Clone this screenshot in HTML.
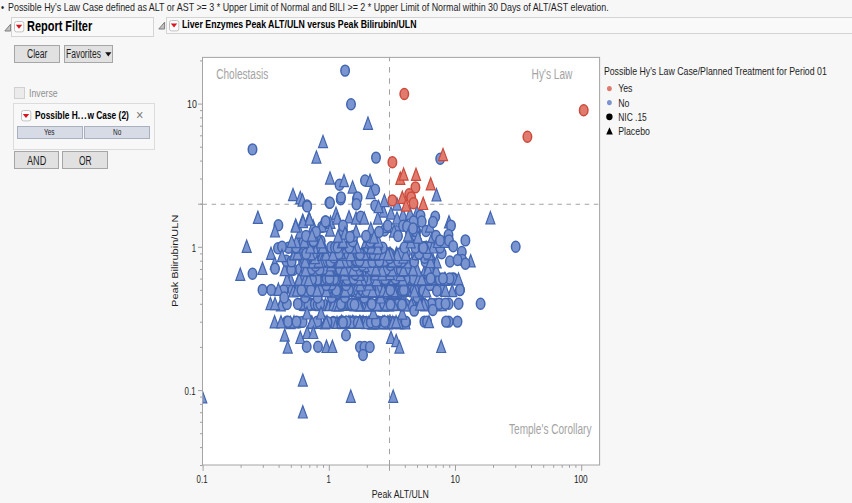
<!DOCTYPE html>
<html lang="en">
<head>
<meta charset="utf-8">
<title>Liver Enzymes Peak ALT/ULN versus Peak Bilirubin/ULN</title>
<style>
html,body{margin:0;padding:0;}
body{width:852px;height:503px;overflow:hidden;background:#f7f7f7;position:relative;
 font-family:"Liberation Sans",sans-serif;font-size:12px;color:#1e1e1e;}
.abs{position:absolute;}
.t{position:absolute;white-space:pre;display:inline-block;transform-origin:0 0;line-height:1;}
.note{left:0;top:0;height:14px;width:852px;}
.titlebar{position:absolute;box-sizing:border-box;border:1px solid #d4d4d4;background:#f9f9f9;}
.disc{position:absolute;width:8px;height:9px;}
.rt{position:absolute;width:11px;height:12px;}
.btn{position:absolute;box-sizing:border-box;border:1px solid #a6a6a6;background:#e1e1e1;}
.fbtn{position:absolute;box-sizing:border-box;border:1px solid #a9b0c0;background:#d6dbe6;}
.chk{position:absolute;box-sizing:border-box;border:1px solid #d0d0d0;background:#ebebeb;}
.plot{position:absolute;left:0;top:0;}
</style>
</head>
<body>
<div class="note">
 <span class="t" style="left:0.5px;top:2px;font-size:11px;transform:scaleX(0.8)">•</span>
 <span class="t" style="left:7.6px;top:2.3px;font-size:11px;transform:scaleX(0.81)">Possible Hy's Law Case defined as ALT or AST &gt;= 3 * Upper Limit of Normal and BILI &gt;= 2 * Upper Limit of Normal within 30 Days of ALT/AST elevation.</span>
</div>

<!-- Report Filter outline -->
<svg class="disc" style="left:3.7px;top:22.6px" viewBox="0 0 8 9"><path d="M0.8 8H6.6V1.2Z" fill="#c2c2c2" stroke="#7e7e7e" stroke-width="1"/></svg>
<div class="titlebar" style="left:11px;top:17px;width:143px;height:20px"></div>
<svg class="rt" style="left:14.4px;top:21.4px" viewBox="0 0 11 12"><rect x="0.5" y="0.5" width="9.3" height="10.4" rx="2" fill="#fcfcfc" stroke="#c2c2c2"/><path d="M1.8 3.7H8.2L5 7.7Z" fill="#d9141d"/></svg>
<span class="t" style="left:27.2px;top:19.4px;font-size:14px;font-weight:700;color:#000;transform:scaleX(0.783)">Report Filter</span>

<div class="btn" style="left:14px;top:45px;width:46px;height:18px"></div>
<span class="t" style="left:26.8px;top:47.6px;font-size:12px;transform:scaleX(0.711)">Clear</span>
<div class="btn" style="left:64px;top:45px;width:49px;height:18px"></div>
<span class="t" style="left:65.5px;top:47.6px;font-size:12px;transform:scaleX(0.707)">Favorites</span>
<svg class="abs" style="left:104.8px;top:51.8px" width="7" height="5" viewBox="0 0 7 5"><path d="M0.2 0.3H6.4L3.3 4.4Z" fill="#111"/></svg>

<div class="chk" style="left:14px;top:87px;width:11px;height:12px"></div>
<span class="t" style="left:28.8px;top:88.2px;font-size:11.5px;color:#8f8f8f;transform:scaleX(0.76)">Inverse</span>

<div class="titlebar" style="left:13px;top:103px;width:142px;height:46.6px;border-color:#dcdcdc;background:#f8f8f8"></div>
<svg class="rt" style="left:21.3px;top:109.5px" viewBox="0 0 11 12"><rect x="0.5" y="0.5" width="9.3" height="10.4" rx="2" fill="#fcfcfc" stroke="#c2c2c2"/><path d="M1.8 4.1000000000000005H8.2L5 8.1Z" fill="#d9141d"/></svg>
<span class="t" style="left:35px;top:109.9px;font-size:11.5px;font-weight:700;color:#000;transform:scaleX(0.728)">Possible H<span style="letter-spacing:1.2px">...</span>w Case (2)</span>
<span class="t" style="left:136.2px;top:108px;font-size:14px;color:#7c7c7c;transform:scaleX(0.9)">×</span>
<div class="fbtn" style="left:16.5px;top:126px;width:66px;height:13px"></div>
<span class="t" style="left:44.2px;top:128.4px;font-size:9px;transform:scaleX(0.72)">Yes</span>
<div class="fbtn" style="left:84px;top:126px;width:66px;height:13px"></div>
<span class="t" style="left:112.5px;top:128.4px;font-size:9px;transform:scaleX(0.72)">No</span>

<div class="btn" style="left:13.5px;top:151px;width:45.4px;height:18px"></div>
<span class="t" style="left:27px;top:154.8px;font-size:12px;transform:scaleX(0.76)">AND</span>
<div class="btn" style="left:62px;top:151px;width:46px;height:18px"></div>
<span class="t" style="left:78.8px;top:154.8px;font-size:12px;transform:scaleX(0.70)">OR</span>

<!-- Graph outline -->
<svg class="disc" style="left:158.1px;top:20.5px" viewBox="0 0 8 9"><path d="M0.8 8H6.6V1.2Z" fill="#c2c2c2" stroke="#7e7e7e" stroke-width="1"/></svg>
<div class="titlebar" style="left:166px;top:17px;width:700px;height:16.5px"></div>
<svg class="rt" style="left:169.3px;top:19.6px" viewBox="0 0 11 12"><rect x="0.5" y="0.5" width="9.3" height="10.4" rx="2" fill="#fcfcfc" stroke="#c2c2c2"/><path d="M1.8 3.6H8.2L5 7.6000000000000005Z" fill="#d9141d"/></svg>
<span class="t" style="left:181.8px;top:19.2px;font-size:11.5px;font-weight:700;color:#000;transform:scaleX(0.7597)">Liver Enzymes Peak ALT/ULN versus Peak Bilirubin/ULN</span>

<svg class="plot" width="852" height="503" viewBox="0 0 852 503" font-family="'Liberation Sans', sans-serif">
<defs><clipPath id="fr"><rect x="202.5" y="57.4" width="397.1" height="407.6"/></clipPath></defs>
<rect x="202.5" y="57.4" width="397.1" height="407.6" fill="#ffffff"/>
<g stroke="#a2a2a2" stroke-width="1.05" fill="none">
<line x1="389.5" y1="57.4" x2="389.5" y2="465.0" stroke-dasharray="5.5 5.73" stroke-dashoffset="1.73"/>
<line x1="202.5" y1="204.2" x2="599.6" y2="204.2" stroke-dasharray="4.5 4.6" stroke-dashoffset="0"/>
</g>
<text x="216.2" y="78.7" font-size="14" font-weight="400" fill="#a3a3a3" textLength="52" lengthAdjust="spacingAndGlyphs" text-anchor="start">Cholestasis</text>
<text x="531.6" y="78.7" font-size="14" font-weight="400" fill="#a3a3a3" textLength="40.8" lengthAdjust="spacingAndGlyphs" text-anchor="start">Hy's Law</text>
<text x="509" y="433.7" font-size="14" font-weight="400" fill="#a3a3a3" textLength="82.5" lengthAdjust="spacingAndGlyphs" text-anchor="start">Temple's Corollary</text>
<g clip-path="url(#fr)">
<ellipse cx="395.5" cy="322.2" rx="4.25" ry="5.45" fill="#7b95d1" stroke="#4165b1" stroke-width="1.5"/>
<ellipse cx="405.0" cy="322.1" rx="4.25" ry="5.45" fill="#7b95d1" stroke="#4165b1" stroke-width="1.5"/>
<ellipse cx="380.3" cy="322.1" rx="4.25" ry="5.45" fill="#7b95d1" stroke="#4165b1" stroke-width="1.5"/>
<ellipse cx="299.2" cy="322.4" rx="4.25" ry="5.45" fill="#7b95d1" stroke="#4165b1" stroke-width="1.5"/>
<ellipse cx="355.0" cy="322.8" rx="4.25" ry="5.45" fill="#7b95d1" stroke="#4165b1" stroke-width="1.5"/>
<ellipse cx="383.8" cy="321.7" rx="4.25" ry="5.45" fill="#7b95d1" stroke="#4165b1" stroke-width="1.5"/>
<path d="M341.9 315.7L346.4 327.9H337.4Z" fill="#7b95d1" stroke="#4165b1" stroke-width="1.2" stroke-linejoin="miter"/>
<ellipse cx="362.6" cy="322.3" rx="4.25" ry="5.45" fill="#7b95d1" stroke="#4165b1" stroke-width="1.5"/>
<path d="M387.8 316.0L392.3 328.2H383.3Z" fill="#7b95d1" stroke="#4165b1" stroke-width="1.2" stroke-linejoin="miter"/>
<path d="M373.9 316.0L378.4 328.2H369.4Z" fill="#7b95d1" stroke="#4165b1" stroke-width="1.2" stroke-linejoin="miter"/>
<ellipse cx="380.4" cy="322.3" rx="4.25" ry="5.45" fill="#7b95d1" stroke="#4165b1" stroke-width="1.5"/>
<path d="M311.4 316.4L315.9 328.6H306.9Z" fill="#7b95d1" stroke="#4165b1" stroke-width="1.2" stroke-linejoin="miter"/>
<ellipse cx="382.9" cy="322.5" rx="4.25" ry="5.45" fill="#7b95d1" stroke="#4165b1" stroke-width="1.5"/>
<ellipse cx="362.8" cy="321.6" rx="4.25" ry="5.45" fill="#7b95d1" stroke="#4165b1" stroke-width="1.5"/>
<path d="M378.0 316.6L382.5 328.8H373.5Z" fill="#7b95d1" stroke="#4165b1" stroke-width="1.2" stroke-linejoin="miter"/>
<path d="M348.7 316.0L353.2 328.2H344.2Z" fill="#7b95d1" stroke="#4165b1" stroke-width="1.2" stroke-linejoin="miter"/>
<ellipse cx="400.2" cy="322.4" rx="4.25" ry="5.45" fill="#7b95d1" stroke="#4165b1" stroke-width="1.5"/>
<path d="M319.5 316.3L324.0 328.5H315.0Z" fill="#7b95d1" stroke="#4165b1" stroke-width="1.2" stroke-linejoin="miter"/>
<ellipse cx="385.1" cy="322.1" rx="4.25" ry="5.45" fill="#7b95d1" stroke="#4165b1" stroke-width="1.5"/>
<ellipse cx="286.8" cy="321.8" rx="4.25" ry="5.45" fill="#7b95d1" stroke="#4165b1" stroke-width="1.5"/>
<ellipse cx="387.3" cy="321.9" rx="4.25" ry="5.45" fill="#7b95d1" stroke="#4165b1" stroke-width="1.5"/>
<ellipse cx="375.2" cy="322.3" rx="4.25" ry="5.45" fill="#7b95d1" stroke="#4165b1" stroke-width="1.5"/>
<path d="M384.8 315.8L389.3 328.0H380.3Z" fill="#7b95d1" stroke="#4165b1" stroke-width="1.2" stroke-linejoin="miter"/>
<ellipse cx="354.3" cy="322.7" rx="4.25" ry="5.45" fill="#7b95d1" stroke="#4165b1" stroke-width="1.5"/>
<ellipse cx="302.6" cy="321.9" rx="4.25" ry="5.45" fill="#7b95d1" stroke="#4165b1" stroke-width="1.5"/>
<ellipse cx="317.2" cy="321.6" rx="4.25" ry="5.45" fill="#7b95d1" stroke="#4165b1" stroke-width="1.5"/>
<ellipse cx="369.5" cy="322.3" rx="4.25" ry="5.45" fill="#7b95d1" stroke="#4165b1" stroke-width="1.5"/>
<path d="M368.9 316.2L373.4 328.4H364.4Z" fill="#7b95d1" stroke="#4165b1" stroke-width="1.2" stroke-linejoin="miter"/>
<path d="M290.6 316.4L295.1 328.6H286.1Z" fill="#7b95d1" stroke="#4165b1" stroke-width="1.2" stroke-linejoin="miter"/>
<ellipse cx="382.1" cy="322.1" rx="4.25" ry="5.45" fill="#7b95d1" stroke="#4165b1" stroke-width="1.5"/>
<ellipse cx="356.4" cy="321.9" rx="4.25" ry="5.45" fill="#7b95d1" stroke="#4165b1" stroke-width="1.5"/>
<ellipse cx="355.4" cy="321.7" rx="4.25" ry="5.45" fill="#7b95d1" stroke="#4165b1" stroke-width="1.5"/>
<ellipse cx="374.7" cy="321.6" rx="4.25" ry="5.45" fill="#7b95d1" stroke="#4165b1" stroke-width="1.5"/>
<ellipse cx="359.5" cy="321.9" rx="4.25" ry="5.45" fill="#7b95d1" stroke="#4165b1" stroke-width="1.5"/>
<ellipse cx="378.5" cy="321.7" rx="4.25" ry="5.45" fill="#7b95d1" stroke="#4165b1" stroke-width="1.5"/>
<ellipse cx="406.2" cy="322.2" rx="4.25" ry="5.45" fill="#7b95d1" stroke="#4165b1" stroke-width="1.5"/>
<ellipse cx="391.4" cy="322.6" rx="4.25" ry="5.45" fill="#7b95d1" stroke="#4165b1" stroke-width="1.5"/>
<ellipse cx="384.7" cy="322.7" rx="4.25" ry="5.45" fill="#7b95d1" stroke="#4165b1" stroke-width="1.5"/>
<ellipse cx="392.3" cy="322.2" rx="4.25" ry="5.45" fill="#7b95d1" stroke="#4165b1" stroke-width="1.5"/>
<path d="M390.2 315.8L394.7 328.0H385.7Z" fill="#7b95d1" stroke="#4165b1" stroke-width="1.2" stroke-linejoin="miter"/>
<ellipse cx="400.9" cy="322.5" rx="4.25" ry="5.45" fill="#7b95d1" stroke="#4165b1" stroke-width="1.5"/>
<ellipse cx="370.8" cy="322.6" rx="4.25" ry="5.45" fill="#7b95d1" stroke="#4165b1" stroke-width="1.5"/>
<path d="M388.9 316.5L393.4 328.7H384.4Z" fill="#7b95d1" stroke="#4165b1" stroke-width="1.2" stroke-linejoin="miter"/>
<path d="M311.9 315.9L316.4 328.1H307.4Z" fill="#7b95d1" stroke="#4165b1" stroke-width="1.2" stroke-linejoin="miter"/>
<ellipse cx="333.3" cy="321.9" rx="4.25" ry="5.45" fill="#7b95d1" stroke="#4165b1" stroke-width="1.5"/>
<ellipse cx="333.1" cy="322.7" rx="4.25" ry="5.45" fill="#7b95d1" stroke="#4165b1" stroke-width="1.5"/>
<ellipse cx="401.5" cy="321.9" rx="4.25" ry="5.45" fill="#7b95d1" stroke="#4165b1" stroke-width="1.5"/>
<path d="M373.0 316.6L377.5 328.8H368.5Z" fill="#7b95d1" stroke="#4165b1" stroke-width="1.2" stroke-linejoin="miter"/>
<path d="M343.0 316.5L347.5 328.7H338.5Z" fill="#7b95d1" stroke="#4165b1" stroke-width="1.2" stroke-linejoin="miter"/>
<path d="M388.0 316.6L392.5 328.8H383.5Z" fill="#7b95d1" stroke="#4165b1" stroke-width="1.2" stroke-linejoin="miter"/>
<ellipse cx="376.3" cy="321.8" rx="4.25" ry="5.45" fill="#7b95d1" stroke="#4165b1" stroke-width="1.5"/>
<path d="M324.9 316.7L329.4 328.9H320.4Z" fill="#7b95d1" stroke="#4165b1" stroke-width="1.2" stroke-linejoin="miter"/>
<path d="M294.0 315.7L298.5 327.9H289.5Z" fill="#7b95d1" stroke="#4165b1" stroke-width="1.2" stroke-linejoin="miter"/>
<path d="M372.0 316.7L376.5 328.9H367.5Z" fill="#7b95d1" stroke="#4165b1" stroke-width="1.2" stroke-linejoin="miter"/>
<path d="M327.1 315.7L331.6 327.9H322.6Z" fill="#7b95d1" stroke="#4165b1" stroke-width="1.2" stroke-linejoin="miter"/>
<path d="M346.0 316.3L350.5 328.5H341.5Z" fill="#7b95d1" stroke="#4165b1" stroke-width="1.2" stroke-linejoin="miter"/>
<path d="M400.1 316.5L404.6 328.7H395.6Z" fill="#7b95d1" stroke="#4165b1" stroke-width="1.2" stroke-linejoin="miter"/>
<ellipse cx="349.4" cy="322.0" rx="4.25" ry="5.45" fill="#7b95d1" stroke="#4165b1" stroke-width="1.5"/>
<ellipse cx="341.1" cy="321.8" rx="4.25" ry="5.45" fill="#7b95d1" stroke="#4165b1" stroke-width="1.5"/>
<ellipse cx="327.5" cy="322.3" rx="4.25" ry="5.45" fill="#7b95d1" stroke="#4165b1" stroke-width="1.5"/>
<path d="M350.0 316.0L354.5 328.2H345.5Z" fill="#7b95d1" stroke="#4165b1" stroke-width="1.2" stroke-linejoin="miter"/>
<path d="M392.8 316.1L397.3 328.3H388.3Z" fill="#7b95d1" stroke="#4165b1" stroke-width="1.2" stroke-linejoin="miter"/>
<ellipse cx="344.5" cy="322.1" rx="4.25" ry="5.45" fill="#7b95d1" stroke="#4165b1" stroke-width="1.5"/>
<path d="M363.1 315.7L367.6 327.9H358.6Z" fill="#7b95d1" stroke="#4165b1" stroke-width="1.2" stroke-linejoin="miter"/>
<ellipse cx="364.4" cy="322.5" rx="4.25" ry="5.45" fill="#7b95d1" stroke="#4165b1" stroke-width="1.5"/>
<path d="M337.0 316.2L341.5 328.4H332.5Z" fill="#7b95d1" stroke="#4165b1" stroke-width="1.2" stroke-linejoin="miter"/>
<path d="M352.7 315.6L357.2 327.8H348.2Z" fill="#7b95d1" stroke="#4165b1" stroke-width="1.2" stroke-linejoin="miter"/>
<ellipse cx="340.9" cy="322.5" rx="4.25" ry="5.45" fill="#7b95d1" stroke="#4165b1" stroke-width="1.5"/>
<path d="M353.6 316.2L358.1 328.4H349.1Z" fill="#7b95d1" stroke="#4165b1" stroke-width="1.2" stroke-linejoin="miter"/>
<ellipse cx="366.2" cy="322.3" rx="4.25" ry="5.45" fill="#7b95d1" stroke="#4165b1" stroke-width="1.5"/>
<path d="M326.1 316.0L330.6 328.2H321.6Z" fill="#7b95d1" stroke="#4165b1" stroke-width="1.2" stroke-linejoin="miter"/>
<path d="M360.7 316.1L365.2 328.3H356.2Z" fill="#7b95d1" stroke="#4165b1" stroke-width="1.2" stroke-linejoin="miter"/>
<path d="M405.4 316.6L409.9 328.8H400.9Z" fill="#7b95d1" stroke="#4165b1" stroke-width="1.2" stroke-linejoin="miter"/>
<ellipse cx="345.3" cy="322.3" rx="4.25" ry="5.45" fill="#7b95d1" stroke="#4165b1" stroke-width="1.5"/>
<ellipse cx="342.0" cy="321.7" rx="4.25" ry="5.45" fill="#7b95d1" stroke="#4165b1" stroke-width="1.5"/>
<ellipse cx="351.1" cy="321.7" rx="4.25" ry="5.45" fill="#7b95d1" stroke="#4165b1" stroke-width="1.5"/>
<path d="M366.1 316.4L370.6 328.6H361.6Z" fill="#7b95d1" stroke="#4165b1" stroke-width="1.2" stroke-linejoin="miter"/>
<path d="M375.9 316.3L380.4 328.5H371.4Z" fill="#7b95d1" stroke="#4165b1" stroke-width="1.2" stroke-linejoin="miter"/>
<ellipse cx="351.5" cy="322.7" rx="4.25" ry="5.45" fill="#7b95d1" stroke="#4165b1" stroke-width="1.5"/>
<path d="M382.7 316.0L387.2 328.2H378.2Z" fill="#7b95d1" stroke="#4165b1" stroke-width="1.2" stroke-linejoin="miter"/>
<ellipse cx="357.7" cy="322.8" rx="4.25" ry="5.45" fill="#7b95d1" stroke="#4165b1" stroke-width="1.5"/>
<ellipse cx="370.8" cy="322.2" rx="4.25" ry="5.45" fill="#7b95d1" stroke="#4165b1" stroke-width="1.5"/>
<ellipse cx="346.5" cy="321.8" rx="4.25" ry="5.45" fill="#7b95d1" stroke="#4165b1" stroke-width="1.5"/>
<ellipse cx="342.0" cy="322.3" rx="4.25" ry="5.45" fill="#7b95d1" stroke="#4165b1" stroke-width="1.5"/>
<ellipse cx="405.6" cy="321.6" rx="4.25" ry="5.45" fill="#7b95d1" stroke="#4165b1" stroke-width="1.5"/>
<path d="M341.4 315.6L345.9 327.8H336.9Z" fill="#7b95d1" stroke="#4165b1" stroke-width="1.2" stroke-linejoin="miter"/>
<path d="M398.6 316.4L403.1 328.6H394.1Z" fill="#7b95d1" stroke="#4165b1" stroke-width="1.2" stroke-linejoin="miter"/>
<ellipse cx="375.9" cy="321.6" rx="4.25" ry="5.45" fill="#7b95d1" stroke="#4165b1" stroke-width="1.5"/>
<path d="M359.5 315.8L364.0 328.0H355.0Z" fill="#7b95d1" stroke="#4165b1" stroke-width="1.2" stroke-linejoin="miter"/>
<path d="M383.6 316.5L388.1 328.7H379.1Z" fill="#7b95d1" stroke="#4165b1" stroke-width="1.2" stroke-linejoin="miter"/>
<ellipse cx="384.8" cy="321.8" rx="4.25" ry="5.45" fill="#7b95d1" stroke="#4165b1" stroke-width="1.5"/>
<path d="M396.1 315.6L400.6 327.8H391.6Z" fill="#7b95d1" stroke="#4165b1" stroke-width="1.2" stroke-linejoin="miter"/>
<ellipse cx="343.0" cy="322.4" rx="4.25" ry="5.45" fill="#7b95d1" stroke="#4165b1" stroke-width="1.5"/>
<path d="M402.3 306.9L406.8 319.1H397.8Z" fill="#7b95d1" stroke="#4165b1" stroke-width="1.2" stroke-linejoin="miter"/>
<path d="M373.3 306.5L377.8 318.7H368.8Z" fill="#7b95d1" stroke="#4165b1" stroke-width="1.2" stroke-linejoin="miter"/>
<path d="M354.5 298.7L359.0 310.9H350.0Z" fill="#7b95d1" stroke="#4165b1" stroke-width="1.2" stroke-linejoin="miter"/>
<ellipse cx="395.3" cy="303.8" rx="4.25" ry="5.45" fill="#7b95d1" stroke="#4165b1" stroke-width="1.5"/>
<ellipse cx="397.0" cy="303.9" rx="4.25" ry="5.45" fill="#7b95d1" stroke="#4165b1" stroke-width="1.5"/>
<ellipse cx="344.4" cy="304.3" rx="4.25" ry="5.45" fill="#7b95d1" stroke="#4165b1" stroke-width="1.5"/>
<ellipse cx="422.2" cy="303.7" rx="4.25" ry="5.45" fill="#7b95d1" stroke="#4165b1" stroke-width="1.5"/>
<path d="M423.2 297.8L427.7 310.0H418.7Z" fill="#7b95d1" stroke="#4165b1" stroke-width="1.2" stroke-linejoin="miter"/>
<path d="M370.6 297.7L375.1 309.9H366.1Z" fill="#7b95d1" stroke="#4165b1" stroke-width="1.2" stroke-linejoin="miter"/>
<ellipse cx="354.3" cy="304.7" rx="4.25" ry="5.45" fill="#7b95d1" stroke="#4165b1" stroke-width="1.5"/>
<path d="M310.1 298.0L314.6 310.2H305.6Z" fill="#7b95d1" stroke="#4165b1" stroke-width="1.2" stroke-linejoin="miter"/>
<path d="M401.6 298.1L406.1 310.3H397.1Z" fill="#7b95d1" stroke="#4165b1" stroke-width="1.2" stroke-linejoin="miter"/>
<ellipse cx="362.7" cy="303.9" rx="4.25" ry="5.45" fill="#7b95d1" stroke="#4165b1" stroke-width="1.5"/>
<ellipse cx="363.4" cy="303.8" rx="4.25" ry="5.45" fill="#7b95d1" stroke="#4165b1" stroke-width="1.5"/>
<path d="M429.7 297.9L434.2 310.1H425.2Z" fill="#7b95d1" stroke="#4165b1" stroke-width="1.2" stroke-linejoin="miter"/>
<ellipse cx="337.4" cy="304.3" rx="4.25" ry="5.45" fill="#7b95d1" stroke="#4165b1" stroke-width="1.5"/>
<path d="M338.5 298.8L343.0 311.0H334.0Z" fill="#7b95d1" stroke="#4165b1" stroke-width="1.2" stroke-linejoin="miter"/>
<ellipse cx="374.4" cy="304.9" rx="4.25" ry="5.45" fill="#7b95d1" stroke="#4165b1" stroke-width="1.5"/>
<ellipse cx="364.0" cy="304.3" rx="4.25" ry="5.45" fill="#7b95d1" stroke="#4165b1" stroke-width="1.5"/>
<ellipse cx="366.3" cy="304.3" rx="4.25" ry="5.45" fill="#7b95d1" stroke="#4165b1" stroke-width="1.5"/>
<ellipse cx="363.6" cy="303.8" rx="4.25" ry="5.45" fill="#7b95d1" stroke="#4165b1" stroke-width="1.5"/>
<ellipse cx="380.6" cy="304.0" rx="4.25" ry="5.45" fill="#7b95d1" stroke="#4165b1" stroke-width="1.5"/>
<path d="M371.0 298.4L375.5 310.6H366.5Z" fill="#7b95d1" stroke="#4165b1" stroke-width="1.2" stroke-linejoin="miter"/>
<ellipse cx="431.2" cy="304.1" rx="4.25" ry="5.45" fill="#7b95d1" stroke="#4165b1" stroke-width="1.5"/>
<path d="M305.7 298.4L310.2 310.6H301.2Z" fill="#7b95d1" stroke="#4165b1" stroke-width="1.2" stroke-linejoin="miter"/>
<path d="M403.8 298.5L408.3 310.7H399.3Z" fill="#7b95d1" stroke="#4165b1" stroke-width="1.2" stroke-linejoin="miter"/>
<path d="M304.0 298.2L308.5 310.4H299.5Z" fill="#7b95d1" stroke="#4165b1" stroke-width="1.2" stroke-linejoin="miter"/>
<path d="M418.4 298.3L422.9 310.5H413.9Z" fill="#7b95d1" stroke="#4165b1" stroke-width="1.2" stroke-linejoin="miter"/>
<path d="M397.5 297.9L402.0 310.1H393.0Z" fill="#7b95d1" stroke="#4165b1" stroke-width="1.2" stroke-linejoin="miter"/>
<ellipse cx="299.7" cy="304.1" rx="4.25" ry="5.45" fill="#7b95d1" stroke="#4165b1" stroke-width="1.5"/>
<path d="M388.6 298.4L393.1 310.6H384.1Z" fill="#7b95d1" stroke="#4165b1" stroke-width="1.2" stroke-linejoin="miter"/>
<ellipse cx="364.2" cy="304.7" rx="4.25" ry="5.45" fill="#7b95d1" stroke="#4165b1" stroke-width="1.5"/>
<path d="M366.5 298.4L371.0 310.6H362.0Z" fill="#7b95d1" stroke="#4165b1" stroke-width="1.2" stroke-linejoin="miter"/>
<path d="M325.5 297.9L330.0 310.1H321.0Z" fill="#7b95d1" stroke="#4165b1" stroke-width="1.2" stroke-linejoin="miter"/>
<ellipse cx="359.3" cy="304.6" rx="4.25" ry="5.45" fill="#7b95d1" stroke="#4165b1" stroke-width="1.5"/>
<ellipse cx="365.0" cy="304.3" rx="4.25" ry="5.45" fill="#7b95d1" stroke="#4165b1" stroke-width="1.5"/>
<path d="M411.9 298.4L416.4 310.6H407.4Z" fill="#7b95d1" stroke="#4165b1" stroke-width="1.2" stroke-linejoin="miter"/>
<ellipse cx="422.9" cy="304.0" rx="4.25" ry="5.45" fill="#7b95d1" stroke="#4165b1" stroke-width="1.5"/>
<path d="M332.4 297.6L336.9 309.8H327.9Z" fill="#7b95d1" stroke="#4165b1" stroke-width="1.2" stroke-linejoin="miter"/>
<path d="M358.7 298.4L363.2 310.6H354.2Z" fill="#7b95d1" stroke="#4165b1" stroke-width="1.2" stroke-linejoin="miter"/>
<path d="M418.4 298.2L422.9 310.4H413.9Z" fill="#7b95d1" stroke="#4165b1" stroke-width="1.2" stroke-linejoin="miter"/>
<ellipse cx="421.0" cy="304.9" rx="4.25" ry="5.45" fill="#7b95d1" stroke="#4165b1" stroke-width="1.5"/>
<ellipse cx="283.0" cy="304.7" rx="4.25" ry="5.45" fill="#7b95d1" stroke="#4165b1" stroke-width="1.5"/>
<ellipse cx="357.3" cy="304.0" rx="4.25" ry="5.45" fill="#7b95d1" stroke="#4165b1" stroke-width="1.5"/>
<path d="M316.2 297.8L320.7 310.0H311.7Z" fill="#7b95d1" stroke="#4165b1" stroke-width="1.2" stroke-linejoin="miter"/>
<path d="M416.6 297.8L421.1 310.0H412.1Z" fill="#7b95d1" stroke="#4165b1" stroke-width="1.2" stroke-linejoin="miter"/>
<path d="M367.5 298.4L372.0 310.6H363.0Z" fill="#7b95d1" stroke="#4165b1" stroke-width="1.2" stroke-linejoin="miter"/>
<ellipse cx="398.3" cy="303.7" rx="4.25" ry="5.45" fill="#7b95d1" stroke="#4165b1" stroke-width="1.5"/>
<ellipse cx="340.1" cy="304.1" rx="4.25" ry="5.45" fill="#7b95d1" stroke="#4165b1" stroke-width="1.5"/>
<path d="M347.5 297.6L352.0 309.8H343.0Z" fill="#7b95d1" stroke="#4165b1" stroke-width="1.2" stroke-linejoin="miter"/>
<ellipse cx="424.3" cy="304.8" rx="4.25" ry="5.45" fill="#7b95d1" stroke="#4165b1" stroke-width="1.5"/>
<ellipse cx="435.1" cy="304.2" rx="4.25" ry="5.45" fill="#7b95d1" stroke="#4165b1" stroke-width="1.5"/>
<path d="M391.1 298.3L395.6 310.5H386.6Z" fill="#7b95d1" stroke="#4165b1" stroke-width="1.2" stroke-linejoin="miter"/>
<ellipse cx="339.0" cy="303.8" rx="4.25" ry="5.45" fill="#7b95d1" stroke="#4165b1" stroke-width="1.5"/>
<path d="M329.1 297.9L333.6 310.1H324.6Z" fill="#7b95d1" stroke="#4165b1" stroke-width="1.2" stroke-linejoin="miter"/>
<path d="M377.6 297.8L382.1 310.0H373.1Z" fill="#7b95d1" stroke="#4165b1" stroke-width="1.2" stroke-linejoin="miter"/>
<path d="M436.9 298.4L441.4 310.6H432.4Z" fill="#7b95d1" stroke="#4165b1" stroke-width="1.2" stroke-linejoin="miter"/>
<path d="M441.8 298.5L446.3 310.7H437.3Z" fill="#7b95d1" stroke="#4165b1" stroke-width="1.2" stroke-linejoin="miter"/>
<path d="M344.7 298.1L349.2 310.3H340.2Z" fill="#7b95d1" stroke="#4165b1" stroke-width="1.2" stroke-linejoin="miter"/>
<ellipse cx="390.9" cy="303.8" rx="4.25" ry="5.45" fill="#7b95d1" stroke="#4165b1" stroke-width="1.5"/>
<ellipse cx="301.9" cy="304.1" rx="4.25" ry="5.45" fill="#7b95d1" stroke="#4165b1" stroke-width="1.5"/>
<ellipse cx="358.2" cy="304.5" rx="4.25" ry="5.45" fill="#7b95d1" stroke="#4165b1" stroke-width="1.5"/>
<ellipse cx="331.3" cy="303.9" rx="4.25" ry="5.45" fill="#7b95d1" stroke="#4165b1" stroke-width="1.5"/>
<path d="M352.3 298.2L356.8 310.4H347.8Z" fill="#7b95d1" stroke="#4165b1" stroke-width="1.2" stroke-linejoin="miter"/>
<ellipse cx="297.8" cy="303.9" rx="4.25" ry="5.45" fill="#7b95d1" stroke="#4165b1" stroke-width="1.5"/>
<ellipse cx="392.7" cy="304.0" rx="4.25" ry="5.45" fill="#7b95d1" stroke="#4165b1" stroke-width="1.5"/>
<path d="M382.8 298.7L387.3 310.9H378.3Z" fill="#7b95d1" stroke="#4165b1" stroke-width="1.2" stroke-linejoin="miter"/>
<ellipse cx="351.0" cy="304.3" rx="4.25" ry="5.45" fill="#7b95d1" stroke="#4165b1" stroke-width="1.5"/>
<ellipse cx="358.2" cy="304.9" rx="4.25" ry="5.45" fill="#7b95d1" stroke="#4165b1" stroke-width="1.5"/>
<path d="M376.0 298.4L380.5 310.6H371.5Z" fill="#7b95d1" stroke="#4165b1" stroke-width="1.2" stroke-linejoin="miter"/>
<ellipse cx="317.1" cy="304.0" rx="4.25" ry="5.45" fill="#7b95d1" stroke="#4165b1" stroke-width="1.5"/>
<path d="M280.8 298.7L285.3 310.9H276.3Z" fill="#7b95d1" stroke="#4165b1" stroke-width="1.2" stroke-linejoin="miter"/>
<ellipse cx="394.8" cy="304.6" rx="4.25" ry="5.45" fill="#7b95d1" stroke="#4165b1" stroke-width="1.5"/>
<path d="M361.4 297.6L365.9 309.8H356.9Z" fill="#7b95d1" stroke="#4165b1" stroke-width="1.2" stroke-linejoin="miter"/>
<path d="M425.3 298.8L429.8 311.0H420.8Z" fill="#7b95d1" stroke="#4165b1" stroke-width="1.2" stroke-linejoin="miter"/>
<ellipse cx="335.1" cy="303.9" rx="4.25" ry="5.45" fill="#7b95d1" stroke="#4165b1" stroke-width="1.5"/>
<path d="M329.5 298.4L334.0 310.6H325.0Z" fill="#7b95d1" stroke="#4165b1" stroke-width="1.2" stroke-linejoin="miter"/>
<path d="M358.7 297.7L363.2 309.9H354.2Z" fill="#7b95d1" stroke="#4165b1" stroke-width="1.2" stroke-linejoin="miter"/>
<path d="M320.0 298.4L324.5 310.6H315.5Z" fill="#7b95d1" stroke="#4165b1" stroke-width="1.2" stroke-linejoin="miter"/>
<ellipse cx="286.9" cy="304.0" rx="4.25" ry="5.45" fill="#7b95d1" stroke="#4165b1" stroke-width="1.5"/>
<ellipse cx="400.2" cy="303.8" rx="4.25" ry="5.45" fill="#7b95d1" stroke="#4165b1" stroke-width="1.5"/>
<ellipse cx="334.1" cy="304.4" rx="4.25" ry="5.45" fill="#7b95d1" stroke="#4165b1" stroke-width="1.5"/>
<ellipse cx="347.2" cy="304.3" rx="4.25" ry="5.45" fill="#7b95d1" stroke="#4165b1" stroke-width="1.5"/>
<path d="M390.9 298.2L395.4 310.4H386.4Z" fill="#7b95d1" stroke="#4165b1" stroke-width="1.2" stroke-linejoin="miter"/>
<path d="M366.7 298.0L371.2 310.2H362.2Z" fill="#7b95d1" stroke="#4165b1" stroke-width="1.2" stroke-linejoin="miter"/>
<ellipse cx="311.1" cy="304.0" rx="4.25" ry="5.45" fill="#7b95d1" stroke="#4165b1" stroke-width="1.5"/>
<ellipse cx="439.1" cy="303.7" rx="4.25" ry="5.45" fill="#7b95d1" stroke="#4165b1" stroke-width="1.5"/>
<ellipse cx="365.6" cy="304.5" rx="4.25" ry="5.45" fill="#7b95d1" stroke="#4165b1" stroke-width="1.5"/>
<path d="M379.2 298.2L383.7 310.4H374.7Z" fill="#7b95d1" stroke="#4165b1" stroke-width="1.2" stroke-linejoin="miter"/>
<ellipse cx="412.8" cy="304.9" rx="4.25" ry="5.45" fill="#7b95d1" stroke="#4165b1" stroke-width="1.5"/>
<ellipse cx="341.0" cy="304.0" rx="4.25" ry="5.45" fill="#7b95d1" stroke="#4165b1" stroke-width="1.5"/>
<path d="M413.4 298.0L417.9 310.2H408.9Z" fill="#7b95d1" stroke="#4165b1" stroke-width="1.2" stroke-linejoin="miter"/>
<ellipse cx="395.5" cy="304.0" rx="4.25" ry="5.45" fill="#7b95d1" stroke="#4165b1" stroke-width="1.5"/>
<ellipse cx="351.6" cy="304.5" rx="4.25" ry="5.45" fill="#7b95d1" stroke="#4165b1" stroke-width="1.5"/>
<ellipse cx="378.0" cy="304.0" rx="4.25" ry="5.45" fill="#7b95d1" stroke="#4165b1" stroke-width="1.5"/>
<path d="M356.7 297.8L361.2 310.0H352.2Z" fill="#7b95d1" stroke="#4165b1" stroke-width="1.2" stroke-linejoin="miter"/>
<ellipse cx="372.0" cy="304.8" rx="4.25" ry="5.45" fill="#7b95d1" stroke="#4165b1" stroke-width="1.5"/>
<path d="M365.4 298.5L369.9 310.7H360.9Z" fill="#7b95d1" stroke="#4165b1" stroke-width="1.2" stroke-linejoin="miter"/>
<ellipse cx="431.5" cy="303.9" rx="4.25" ry="5.45" fill="#7b95d1" stroke="#4165b1" stroke-width="1.5"/>
<path d="M360.9 298.5L365.4 310.7H356.4Z" fill="#7b95d1" stroke="#4165b1" stroke-width="1.2" stroke-linejoin="miter"/>
<ellipse cx="405.4" cy="304.2" rx="4.25" ry="5.45" fill="#7b95d1" stroke="#4165b1" stroke-width="1.5"/>
<ellipse cx="370.8" cy="303.9" rx="4.25" ry="5.45" fill="#7b95d1" stroke="#4165b1" stroke-width="1.5"/>
<ellipse cx="386.3" cy="304.9" rx="4.25" ry="5.45" fill="#7b95d1" stroke="#4165b1" stroke-width="1.5"/>
<ellipse cx="362.4" cy="304.9" rx="4.25" ry="5.45" fill="#7b95d1" stroke="#4165b1" stroke-width="1.5"/>
<path d="M369.5 298.6L374.0 310.8H365.0Z" fill="#7b95d1" stroke="#4165b1" stroke-width="1.2" stroke-linejoin="miter"/>
<ellipse cx="389.2" cy="303.8" rx="4.25" ry="5.45" fill="#7b95d1" stroke="#4165b1" stroke-width="1.5"/>
<path d="M333.4 297.8L337.9 310.0H328.9Z" fill="#7b95d1" stroke="#4165b1" stroke-width="1.2" stroke-linejoin="miter"/>
<ellipse cx="366.8" cy="304.8" rx="4.25" ry="5.45" fill="#7b95d1" stroke="#4165b1" stroke-width="1.5"/>
<path d="M392.3 298.5L396.8 310.7H387.8Z" fill="#7b95d1" stroke="#4165b1" stroke-width="1.2" stroke-linejoin="miter"/>
<ellipse cx="367.8" cy="303.7" rx="4.25" ry="5.45" fill="#7b95d1" stroke="#4165b1" stroke-width="1.5"/>
<ellipse cx="424.3" cy="304.6" rx="4.25" ry="5.45" fill="#7b95d1" stroke="#4165b1" stroke-width="1.5"/>
<path d="M387.8 298.0L392.3 310.2H383.3Z" fill="#7b95d1" stroke="#4165b1" stroke-width="1.2" stroke-linejoin="miter"/>
<path d="M351.5 297.9L356.0 310.1H347.0Z" fill="#7b95d1" stroke="#4165b1" stroke-width="1.2" stroke-linejoin="miter"/>
<ellipse cx="356.6" cy="303.7" rx="4.25" ry="5.45" fill="#7b95d1" stroke="#4165b1" stroke-width="1.5"/>
<path d="M336.4 298.7L340.9 310.9H331.9Z" fill="#7b95d1" stroke="#4165b1" stroke-width="1.2" stroke-linejoin="miter"/>
<ellipse cx="314.1" cy="304.0" rx="4.25" ry="5.45" fill="#7b95d1" stroke="#4165b1" stroke-width="1.5"/>
<ellipse cx="308.4" cy="304.9" rx="4.25" ry="5.45" fill="#7b95d1" stroke="#4165b1" stroke-width="1.5"/>
<ellipse cx="390.4" cy="304.2" rx="4.25" ry="5.45" fill="#7b95d1" stroke="#4165b1" stroke-width="1.5"/>
<ellipse cx="353.5" cy="304.8" rx="4.25" ry="5.45" fill="#7b95d1" stroke="#4165b1" stroke-width="1.5"/>
<path d="M384.1 298.6L388.6 310.8H379.6Z" fill="#7b95d1" stroke="#4165b1" stroke-width="1.2" stroke-linejoin="miter"/>
<path d="M411.3 298.3L415.8 310.5H406.8Z" fill="#7b95d1" stroke="#4165b1" stroke-width="1.2" stroke-linejoin="miter"/>
<ellipse cx="349.6" cy="304.6" rx="4.25" ry="5.45" fill="#7b95d1" stroke="#4165b1" stroke-width="1.5"/>
<ellipse cx="385.2" cy="303.9" rx="4.25" ry="5.45" fill="#7b95d1" stroke="#4165b1" stroke-width="1.5"/>
<ellipse cx="362.4" cy="303.7" rx="4.25" ry="5.45" fill="#7b95d1" stroke="#4165b1" stroke-width="1.5"/>
<path d="M339.4 298.0L343.9 310.2H334.9Z" fill="#7b95d1" stroke="#4165b1" stroke-width="1.2" stroke-linejoin="miter"/>
<path d="M423.7 297.9L428.2 310.1H419.2Z" fill="#7b95d1" stroke="#4165b1" stroke-width="1.2" stroke-linejoin="miter"/>
<ellipse cx="354.3" cy="303.8" rx="4.25" ry="5.45" fill="#7b95d1" stroke="#4165b1" stroke-width="1.5"/>
<ellipse cx="314.8" cy="304.0" rx="4.25" ry="5.45" fill="#7b95d1" stroke="#4165b1" stroke-width="1.5"/>
<ellipse cx="362.5" cy="304.4" rx="4.25" ry="5.45" fill="#7b95d1" stroke="#4165b1" stroke-width="1.5"/>
<path d="M339.1 298.4L343.6 310.6H334.6Z" fill="#7b95d1" stroke="#4165b1" stroke-width="1.2" stroke-linejoin="miter"/>
<ellipse cx="317.7" cy="304.7" rx="4.25" ry="5.45" fill="#7b95d1" stroke="#4165b1" stroke-width="1.5"/>
<ellipse cx="351.5" cy="304.6" rx="4.25" ry="5.45" fill="#7b95d1" stroke="#4165b1" stroke-width="1.5"/>
<ellipse cx="399.3" cy="304.0" rx="4.25" ry="5.45" fill="#7b95d1" stroke="#4165b1" stroke-width="1.5"/>
<path d="M362.5 298.3L367.0 310.5H358.0Z" fill="#7b95d1" stroke="#4165b1" stroke-width="1.2" stroke-linejoin="miter"/>
<ellipse cx="379.3" cy="304.2" rx="4.25" ry="5.45" fill="#7b95d1" stroke="#4165b1" stroke-width="1.5"/>
<ellipse cx="397.7" cy="304.7" rx="4.25" ry="5.45" fill="#7b95d1" stroke="#4165b1" stroke-width="1.5"/>
<path d="M360.3 298.8L364.8 311.0H355.8Z" fill="#7b95d1" stroke="#4165b1" stroke-width="1.2" stroke-linejoin="miter"/>
<path d="M389.2 298.6L393.7 310.8H384.7Z" fill="#7b95d1" stroke="#4165b1" stroke-width="1.2" stroke-linejoin="miter"/>
<path d="M382.4 297.7L386.9 309.9H377.9Z" fill="#7b95d1" stroke="#4165b1" stroke-width="1.2" stroke-linejoin="miter"/>
<ellipse cx="357.9" cy="304.9" rx="4.25" ry="5.45" fill="#7b95d1" stroke="#4165b1" stroke-width="1.5"/>
<path d="M376.6 298.7L381.1 310.9H372.1Z" fill="#7b95d1" stroke="#4165b1" stroke-width="1.2" stroke-linejoin="miter"/>
<ellipse cx="320.2" cy="304.0" rx="4.25" ry="5.45" fill="#7b95d1" stroke="#4165b1" stroke-width="1.5"/>
<path d="M405.3 298.7L409.8 310.9H400.8Z" fill="#7b95d1" stroke="#4165b1" stroke-width="1.2" stroke-linejoin="miter"/>
<path d="M393.8 297.9L398.3 310.1H389.3Z" fill="#7b95d1" stroke="#4165b1" stroke-width="1.2" stroke-linejoin="miter"/>
<ellipse cx="386.9" cy="303.9" rx="4.25" ry="5.45" fill="#7b95d1" stroke="#4165b1" stroke-width="1.5"/>
<path d="M368.6 298.4L373.1 310.6H364.1Z" fill="#7b95d1" stroke="#4165b1" stroke-width="1.2" stroke-linejoin="miter"/>
<ellipse cx="384.1" cy="303.7" rx="4.25" ry="5.45" fill="#7b95d1" stroke="#4165b1" stroke-width="1.5"/>
<ellipse cx="340.9" cy="304.1" rx="4.25" ry="5.45" fill="#7b95d1" stroke="#4165b1" stroke-width="1.5"/>
<ellipse cx="402.0" cy="304.7" rx="4.25" ry="5.45" fill="#7b95d1" stroke="#4165b1" stroke-width="1.5"/>
<ellipse cx="351.6" cy="304.2" rx="4.25" ry="5.45" fill="#7b95d1" stroke="#4165b1" stroke-width="1.5"/>
<path d="M358.8 298.4L363.3 310.6H354.3Z" fill="#7b95d1" stroke="#4165b1" stroke-width="1.2" stroke-linejoin="miter"/>
<path d="M377.1 298.1L381.6 310.3H372.6Z" fill="#7b95d1" stroke="#4165b1" stroke-width="1.2" stroke-linejoin="miter"/>
<ellipse cx="371.7" cy="304.1" rx="4.25" ry="5.45" fill="#7b95d1" stroke="#4165b1" stroke-width="1.5"/>
<path d="M386.8 298.0L391.3 310.2H382.3Z" fill="#7b95d1" stroke="#4165b1" stroke-width="1.2" stroke-linejoin="miter"/>
<ellipse cx="354.5" cy="304.7" rx="4.25" ry="5.45" fill="#7b95d1" stroke="#4165b1" stroke-width="1.5"/>
<ellipse cx="390.5" cy="304.6" rx="4.25" ry="5.45" fill="#7b95d1" stroke="#4165b1" stroke-width="1.5"/>
<ellipse cx="364.3" cy="297.5" rx="4.25" ry="5.45" fill="#7b95d1" stroke="#4165b1" stroke-width="1.5"/>
<path d="M380.7 290.8L385.2 303.0H376.2Z" fill="#7b95d1" stroke="#4165b1" stroke-width="1.2" stroke-linejoin="miter"/>
<ellipse cx="331.8" cy="297.0" rx="4.25" ry="5.45" fill="#7b95d1" stroke="#4165b1" stroke-width="1.5"/>
<ellipse cx="417.4" cy="297.1" rx="4.25" ry="5.45" fill="#7b95d1" stroke="#4165b1" stroke-width="1.5"/>
<ellipse cx="344.8" cy="297.0" rx="4.25" ry="5.45" fill="#7b95d1" stroke="#4165b1" stroke-width="1.5"/>
<ellipse cx="305.2" cy="297.3" rx="4.25" ry="5.45" fill="#7b95d1" stroke="#4165b1" stroke-width="1.5"/>
<ellipse cx="317.6" cy="297.5" rx="4.25" ry="5.45" fill="#7b95d1" stroke="#4165b1" stroke-width="1.5"/>
<ellipse cx="365.5" cy="290.9" rx="4.25" ry="5.45" fill="#7b95d1" stroke="#4165b1" stroke-width="1.5"/>
<path d="M364.4 284.5L368.9 296.7H359.9Z" fill="#7b95d1" stroke="#4165b1" stroke-width="1.2" stroke-linejoin="miter"/>
<path d="M309.7 284.0L314.2 296.2H305.2Z" fill="#7b95d1" stroke="#4165b1" stroke-width="1.2" stroke-linejoin="miter"/>
<ellipse cx="403.5" cy="290.1" rx="4.25" ry="5.45" fill="#7b95d1" stroke="#4165b1" stroke-width="1.5"/>
<path d="M309.3 284.2L313.8 296.4H304.8Z" fill="#7b95d1" stroke="#4165b1" stroke-width="1.2" stroke-linejoin="miter"/>
<path d="M366.1 283.8L370.6 296.0H361.6Z" fill="#7b95d1" stroke="#4165b1" stroke-width="1.2" stroke-linejoin="miter"/>
<ellipse cx="413.0" cy="290.8" rx="4.25" ry="5.45" fill="#7b95d1" stroke="#4165b1" stroke-width="1.5"/>
<path d="M422.8 284.4L427.3 296.6H418.3Z" fill="#7b95d1" stroke="#4165b1" stroke-width="1.2" stroke-linejoin="miter"/>
<ellipse cx="335.0" cy="290.5" rx="4.25" ry="5.45" fill="#7b95d1" stroke="#4165b1" stroke-width="1.5"/>
<ellipse cx="343.8" cy="289.9" rx="4.25" ry="5.45" fill="#7b95d1" stroke="#4165b1" stroke-width="1.5"/>
<ellipse cx="366.7" cy="290.7" rx="4.25" ry="5.45" fill="#7b95d1" stroke="#4165b1" stroke-width="1.5"/>
<ellipse cx="361.3" cy="290.4" rx="4.25" ry="5.45" fill="#7b95d1" stroke="#4165b1" stroke-width="1.5"/>
<ellipse cx="332.1" cy="290.3" rx="4.25" ry="5.45" fill="#7b95d1" stroke="#4165b1" stroke-width="1.5"/>
<ellipse cx="324.8" cy="290.6" rx="4.25" ry="5.45" fill="#7b95d1" stroke="#4165b1" stroke-width="1.5"/>
<path d="M380.3 284.7L384.8 296.9H375.8Z" fill="#7b95d1" stroke="#4165b1" stroke-width="1.2" stroke-linejoin="miter"/>
<ellipse cx="405.2" cy="291.0" rx="4.25" ry="5.45" fill="#7b95d1" stroke="#4165b1" stroke-width="1.5"/>
<path d="M379.3 284.9L383.8 297.1H374.8Z" fill="#7b95d1" stroke="#4165b1" stroke-width="1.2" stroke-linejoin="miter"/>
<ellipse cx="423.0" cy="291.0" rx="4.25" ry="5.45" fill="#7b95d1" stroke="#4165b1" stroke-width="1.5"/>
<ellipse cx="442.2" cy="290.8" rx="4.25" ry="5.45" fill="#7b95d1" stroke="#4165b1" stroke-width="1.5"/>
<ellipse cx="293.3" cy="290.7" rx="4.25" ry="5.45" fill="#7b95d1" stroke="#4165b1" stroke-width="1.5"/>
<path d="M343.4 284.1L347.9 296.3H338.9Z" fill="#7b95d1" stroke="#4165b1" stroke-width="1.2" stroke-linejoin="miter"/>
<path d="M306.8 284.8L311.3 297.0H302.3Z" fill="#7b95d1" stroke="#4165b1" stroke-width="1.2" stroke-linejoin="miter"/>
<ellipse cx="361.5" cy="289.9" rx="4.25" ry="5.45" fill="#7b95d1" stroke="#4165b1" stroke-width="1.5"/>
<ellipse cx="407.6" cy="290.9" rx="4.25" ry="5.45" fill="#7b95d1" stroke="#4165b1" stroke-width="1.5"/>
<ellipse cx="436.9" cy="290.8" rx="4.25" ry="5.45" fill="#7b95d1" stroke="#4165b1" stroke-width="1.5"/>
<ellipse cx="314.7" cy="290.9" rx="4.25" ry="5.45" fill="#7b95d1" stroke="#4165b1" stroke-width="1.5"/>
<path d="M382.3 283.8L386.8 296.0H377.8Z" fill="#7b95d1" stroke="#4165b1" stroke-width="1.2" stroke-linejoin="miter"/>
<ellipse cx="391.0" cy="290.8" rx="4.25" ry="5.45" fill="#7b95d1" stroke="#4165b1" stroke-width="1.5"/>
<path d="M355.2 284.4L359.7 296.6H350.7Z" fill="#7b95d1" stroke="#4165b1" stroke-width="1.2" stroke-linejoin="miter"/>
<ellipse cx="368.6" cy="290.7" rx="4.25" ry="5.45" fill="#7b95d1" stroke="#4165b1" stroke-width="1.5"/>
<path d="M326.3 284.0L330.8 296.2H321.8Z" fill="#7b95d1" stroke="#4165b1" stroke-width="1.2" stroke-linejoin="miter"/>
<path d="M452.2 284.5L456.7 296.7H447.7Z" fill="#7b95d1" stroke="#4165b1" stroke-width="1.2" stroke-linejoin="miter"/>
<ellipse cx="374.4" cy="290.6" rx="4.25" ry="5.45" fill="#7b95d1" stroke="#4165b1" stroke-width="1.5"/>
<path d="M365.1 284.8L369.6 297.0H360.6Z" fill="#7b95d1" stroke="#4165b1" stroke-width="1.2" stroke-linejoin="miter"/>
<ellipse cx="372.5" cy="289.8" rx="4.25" ry="5.45" fill="#7b95d1" stroke="#4165b1" stroke-width="1.5"/>
<ellipse cx="416.9" cy="290.3" rx="4.25" ry="5.45" fill="#7b95d1" stroke="#4165b1" stroke-width="1.5"/>
<ellipse cx="323.5" cy="290.6" rx="4.25" ry="5.45" fill="#7b95d1" stroke="#4165b1" stroke-width="1.5"/>
<ellipse cx="340.9" cy="290.9" rx="4.25" ry="5.45" fill="#7b95d1" stroke="#4165b1" stroke-width="1.5"/>
<path d="M374.6 284.8L379.1 297.0H370.1Z" fill="#7b95d1" stroke="#4165b1" stroke-width="1.2" stroke-linejoin="miter"/>
<ellipse cx="351.5" cy="289.8" rx="4.25" ry="5.45" fill="#7b95d1" stroke="#4165b1" stroke-width="1.5"/>
<ellipse cx="379.3" cy="290.6" rx="4.25" ry="5.45" fill="#7b95d1" stroke="#4165b1" stroke-width="1.5"/>
<path d="M378.0 284.6L382.5 296.8H373.5Z" fill="#7b95d1" stroke="#4165b1" stroke-width="1.2" stroke-linejoin="miter"/>
<path d="M373.9 284.2L378.4 296.4H369.4Z" fill="#7b95d1" stroke="#4165b1" stroke-width="1.2" stroke-linejoin="miter"/>
<ellipse cx="358.8" cy="290.8" rx="4.25" ry="5.45" fill="#7b95d1" stroke="#4165b1" stroke-width="1.5"/>
<ellipse cx="283.7" cy="290.1" rx="4.25" ry="5.45" fill="#7b95d1" stroke="#4165b1" stroke-width="1.5"/>
<path d="M369.7 284.7L374.2 296.9H365.2Z" fill="#7b95d1" stroke="#4165b1" stroke-width="1.2" stroke-linejoin="miter"/>
<ellipse cx="338.1" cy="290.2" rx="4.25" ry="5.45" fill="#7b95d1" stroke="#4165b1" stroke-width="1.5"/>
<path d="M413.3 283.7L417.8 295.9H408.8Z" fill="#7b95d1" stroke="#4165b1" stroke-width="1.2" stroke-linejoin="miter"/>
<ellipse cx="410.9" cy="290.7" rx="4.25" ry="5.45" fill="#7b95d1" stroke="#4165b1" stroke-width="1.5"/>
<ellipse cx="324.7" cy="289.9" rx="4.25" ry="5.45" fill="#7b95d1" stroke="#4165b1" stroke-width="1.5"/>
<path d="M396.6 284.6L401.1 296.8H392.1Z" fill="#7b95d1" stroke="#4165b1" stroke-width="1.2" stroke-linejoin="miter"/>
<ellipse cx="405.1" cy="290.5" rx="4.25" ry="5.45" fill="#7b95d1" stroke="#4165b1" stroke-width="1.5"/>
<path d="M372.9 284.4L377.4 296.6H368.4Z" fill="#7b95d1" stroke="#4165b1" stroke-width="1.2" stroke-linejoin="miter"/>
<ellipse cx="306.5" cy="290.9" rx="4.25" ry="5.45" fill="#7b95d1" stroke="#4165b1" stroke-width="1.5"/>
<ellipse cx="292.4" cy="290.1" rx="4.25" ry="5.45" fill="#7b95d1" stroke="#4165b1" stroke-width="1.5"/>
<path d="M445.4 284.1L449.9 296.3H440.9Z" fill="#7b95d1" stroke="#4165b1" stroke-width="1.2" stroke-linejoin="miter"/>
<ellipse cx="338.8" cy="290.9" rx="4.25" ry="5.45" fill="#7b95d1" stroke="#4165b1" stroke-width="1.5"/>
<path d="M401.9 284.9L406.4 297.1H397.4Z" fill="#7b95d1" stroke="#4165b1" stroke-width="1.2" stroke-linejoin="miter"/>
<path d="M394.7 284.2L399.2 296.4H390.2Z" fill="#7b95d1" stroke="#4165b1" stroke-width="1.2" stroke-linejoin="miter"/>
<ellipse cx="380.7" cy="290.1" rx="4.25" ry="5.45" fill="#7b95d1" stroke="#4165b1" stroke-width="1.5"/>
<path d="M295.5 283.9L300.0 296.1H291.0Z" fill="#7b95d1" stroke="#4165b1" stroke-width="1.2" stroke-linejoin="miter"/>
<ellipse cx="317.9" cy="290.9" rx="4.25" ry="5.45" fill="#7b95d1" stroke="#4165b1" stroke-width="1.5"/>
<ellipse cx="370.5" cy="290.7" rx="4.25" ry="5.45" fill="#7b95d1" stroke="#4165b1" stroke-width="1.5"/>
<path d="M402.6 283.8L407.1 296.0H398.1Z" fill="#7b95d1" stroke="#4165b1" stroke-width="1.2" stroke-linejoin="miter"/>
<path d="M344.9 284.7L349.4 296.9H340.4Z" fill="#7b95d1" stroke="#4165b1" stroke-width="1.2" stroke-linejoin="miter"/>
<path d="M293.4 284.8L297.9 297.0H288.9Z" fill="#7b95d1" stroke="#4165b1" stroke-width="1.2" stroke-linejoin="miter"/>
<ellipse cx="300.5" cy="290.0" rx="4.25" ry="5.45" fill="#7b95d1" stroke="#4165b1" stroke-width="1.5"/>
<path d="M371.8 284.7L376.3 296.9H367.3Z" fill="#7b95d1" stroke="#4165b1" stroke-width="1.2" stroke-linejoin="miter"/>
<path d="M424.7 284.1L429.2 296.3H420.2Z" fill="#7b95d1" stroke="#4165b1" stroke-width="1.2" stroke-linejoin="miter"/>
<ellipse cx="414.5" cy="290.2" rx="4.25" ry="5.45" fill="#7b95d1" stroke="#4165b1" stroke-width="1.5"/>
<ellipse cx="400.0" cy="290.1" rx="4.25" ry="5.45" fill="#7b95d1" stroke="#4165b1" stroke-width="1.5"/>
<ellipse cx="357.6" cy="291.0" rx="4.25" ry="5.45" fill="#7b95d1" stroke="#4165b1" stroke-width="1.5"/>
<path d="M331.3 284.5L335.8 296.7H326.8Z" fill="#7b95d1" stroke="#4165b1" stroke-width="1.2" stroke-linejoin="miter"/>
<path d="M332.1 284.1L336.6 296.3H327.6Z" fill="#7b95d1" stroke="#4165b1" stroke-width="1.2" stroke-linejoin="miter"/>
<ellipse cx="375.1" cy="290.9" rx="4.25" ry="5.45" fill="#7b95d1" stroke="#4165b1" stroke-width="1.5"/>
<path d="M385.1 283.9L389.6 296.1H380.6Z" fill="#7b95d1" stroke="#4165b1" stroke-width="1.2" stroke-linejoin="miter"/>
<path d="M383.1 283.7L387.6 295.9H378.6Z" fill="#7b95d1" stroke="#4165b1" stroke-width="1.2" stroke-linejoin="miter"/>
<ellipse cx="423.3" cy="290.8" rx="4.25" ry="5.45" fill="#7b95d1" stroke="#4165b1" stroke-width="1.5"/>
<path d="M331.8 284.0L336.3 296.2H327.3Z" fill="#7b95d1" stroke="#4165b1" stroke-width="1.2" stroke-linejoin="miter"/>
<ellipse cx="331.1" cy="290.7" rx="4.25" ry="5.45" fill="#7b95d1" stroke="#4165b1" stroke-width="1.5"/>
<ellipse cx="366.1" cy="290.6" rx="4.25" ry="5.45" fill="#7b95d1" stroke="#4165b1" stroke-width="1.5"/>
<path d="M378.1 284.5L382.6 296.7H373.6Z" fill="#7b95d1" stroke="#4165b1" stroke-width="1.2" stroke-linejoin="miter"/>
<ellipse cx="310.9" cy="290.3" rx="4.25" ry="5.45" fill="#7b95d1" stroke="#4165b1" stroke-width="1.5"/>
<path d="M296.9 283.8L301.4 296.0H292.4Z" fill="#7b95d1" stroke="#4165b1" stroke-width="1.2" stroke-linejoin="miter"/>
<path d="M358.6 284.2L363.1 296.4H354.1Z" fill="#7b95d1" stroke="#4165b1" stroke-width="1.2" stroke-linejoin="miter"/>
<ellipse cx="322.4" cy="290.5" rx="4.25" ry="5.45" fill="#7b95d1" stroke="#4165b1" stroke-width="1.5"/>
<path d="M426.3 284.6L430.8 296.8H421.8Z" fill="#7b95d1" stroke="#4165b1" stroke-width="1.2" stroke-linejoin="miter"/>
<ellipse cx="345.2" cy="290.0" rx="4.25" ry="5.45" fill="#7b95d1" stroke="#4165b1" stroke-width="1.5"/>
<path d="M339.9 284.5L344.4 296.7H335.4Z" fill="#7b95d1" stroke="#4165b1" stroke-width="1.2" stroke-linejoin="miter"/>
<ellipse cx="361.1" cy="290.8" rx="4.25" ry="5.45" fill="#7b95d1" stroke="#4165b1" stroke-width="1.5"/>
<path d="M343.7 283.9L348.2 296.1H339.2Z" fill="#7b95d1" stroke="#4165b1" stroke-width="1.2" stroke-linejoin="miter"/>
<ellipse cx="301.4" cy="290.1" rx="4.25" ry="5.45" fill="#7b95d1" stroke="#4165b1" stroke-width="1.5"/>
<ellipse cx="376.8" cy="290.7" rx="4.25" ry="5.45" fill="#7b95d1" stroke="#4165b1" stroke-width="1.5"/>
<ellipse cx="371.7" cy="290.1" rx="4.25" ry="5.45" fill="#7b95d1" stroke="#4165b1" stroke-width="1.5"/>
<ellipse cx="347.5" cy="290.4" rx="4.25" ry="5.45" fill="#7b95d1" stroke="#4165b1" stroke-width="1.5"/>
<ellipse cx="376.2" cy="291.0" rx="4.25" ry="5.45" fill="#7b95d1" stroke="#4165b1" stroke-width="1.5"/>
<path d="M384.7 283.8L389.2 296.0H380.2Z" fill="#7b95d1" stroke="#4165b1" stroke-width="1.2" stroke-linejoin="miter"/>
<ellipse cx="375.5" cy="291.0" rx="4.25" ry="5.45" fill="#7b95d1" stroke="#4165b1" stroke-width="1.5"/>
<path d="M358.7 284.6L363.2 296.8H354.2Z" fill="#7b95d1" stroke="#4165b1" stroke-width="1.2" stroke-linejoin="miter"/>
<path d="M343.8 283.9L348.3 296.1H339.3Z" fill="#7b95d1" stroke="#4165b1" stroke-width="1.2" stroke-linejoin="miter"/>
<ellipse cx="369.9" cy="290.3" rx="4.25" ry="5.45" fill="#7b95d1" stroke="#4165b1" stroke-width="1.5"/>
<path d="M391.6 284.6L396.1 296.8H387.1Z" fill="#7b95d1" stroke="#4165b1" stroke-width="1.2" stroke-linejoin="miter"/>
<path d="M368.4 284.5L372.9 296.7H363.9Z" fill="#7b95d1" stroke="#4165b1" stroke-width="1.2" stroke-linejoin="miter"/>
<path d="M345.8 284.2L350.3 296.4H341.3Z" fill="#7b95d1" stroke="#4165b1" stroke-width="1.2" stroke-linejoin="miter"/>
<path d="M365.8 284.8L370.3 297.0H361.3Z" fill="#7b95d1" stroke="#4165b1" stroke-width="1.2" stroke-linejoin="miter"/>
<path d="M326.5 284.2L331.0 296.4H322.0Z" fill="#7b95d1" stroke="#4165b1" stroke-width="1.2" stroke-linejoin="miter"/>
<ellipse cx="378.7" cy="290.7" rx="4.25" ry="5.45" fill="#7b95d1" stroke="#4165b1" stroke-width="1.5"/>
<path d="M399.7 284.7L404.2 296.9H395.2Z" fill="#7b95d1" stroke="#4165b1" stroke-width="1.2" stroke-linejoin="miter"/>
<path d="M326.6 284.5L331.1 296.7H322.1Z" fill="#7b95d1" stroke="#4165b1" stroke-width="1.2" stroke-linejoin="miter"/>
<path d="M337.1 283.8L341.6 296.0H332.6Z" fill="#7b95d1" stroke="#4165b1" stroke-width="1.2" stroke-linejoin="miter"/>
<ellipse cx="369.4" cy="290.8" rx="4.25" ry="5.45" fill="#7b95d1" stroke="#4165b1" stroke-width="1.5"/>
<ellipse cx="352.3" cy="290.3" rx="4.25" ry="5.45" fill="#7b95d1" stroke="#4165b1" stroke-width="1.5"/>
<ellipse cx="320.8" cy="290.6" rx="4.25" ry="5.45" fill="#7b95d1" stroke="#4165b1" stroke-width="1.5"/>
<path d="M324.1 283.9L328.6 296.1H319.6Z" fill="#7b95d1" stroke="#4165b1" stroke-width="1.2" stroke-linejoin="miter"/>
<path d="M386.3 284.7L390.8 296.9H381.8Z" fill="#7b95d1" stroke="#4165b1" stroke-width="1.2" stroke-linejoin="miter"/>
<path d="M335.4 283.8L339.9 296.0H330.9Z" fill="#7b95d1" stroke="#4165b1" stroke-width="1.2" stroke-linejoin="miter"/>
<path d="M384.4 283.9L388.9 296.1H379.9Z" fill="#7b95d1" stroke="#4165b1" stroke-width="1.2" stroke-linejoin="miter"/>
<path d="M376.1 283.8L380.6 296.0H371.6Z" fill="#7b95d1" stroke="#4165b1" stroke-width="1.2" stroke-linejoin="miter"/>
<path d="M328.6 284.3L333.1 296.5H324.1Z" fill="#7b95d1" stroke="#4165b1" stroke-width="1.2" stroke-linejoin="miter"/>
<path d="M345.1 284.7L349.6 296.9H340.6Z" fill="#7b95d1" stroke="#4165b1" stroke-width="1.2" stroke-linejoin="miter"/>
<path d="M331.5 284.0L336.0 296.2H327.0Z" fill="#7b95d1" stroke="#4165b1" stroke-width="1.2" stroke-linejoin="miter"/>
<path d="M357.8 284.2L362.3 296.4H353.3Z" fill="#7b95d1" stroke="#4165b1" stroke-width="1.2" stroke-linejoin="miter"/>
<path d="M363.2 284.1L367.7 296.3H358.7Z" fill="#7b95d1" stroke="#4165b1" stroke-width="1.2" stroke-linejoin="miter"/>
<ellipse cx="346.7" cy="290.2" rx="4.25" ry="5.45" fill="#7b95d1" stroke="#4165b1" stroke-width="1.5"/>
<ellipse cx="358.0" cy="290.3" rx="4.25" ry="5.45" fill="#7b95d1" stroke="#4165b1" stroke-width="1.5"/>
<path d="M364.9 284.1L369.4 296.3H360.4Z" fill="#7b95d1" stroke="#4165b1" stroke-width="1.2" stroke-linejoin="miter"/>
<path d="M360.0 284.9L364.5 297.1H355.5Z" fill="#7b95d1" stroke="#4165b1" stroke-width="1.2" stroke-linejoin="miter"/>
<path d="M383.3 284.0L387.8 296.2H378.8Z" fill="#7b95d1" stroke="#4165b1" stroke-width="1.2" stroke-linejoin="miter"/>
<ellipse cx="371.5" cy="290.0" rx="4.25" ry="5.45" fill="#7b95d1" stroke="#4165b1" stroke-width="1.5"/>
<path d="M333.6 284.7L338.1 296.9H329.1Z" fill="#7b95d1" stroke="#4165b1" stroke-width="1.2" stroke-linejoin="miter"/>
<path d="M339.6 284.0L344.1 296.2H335.1Z" fill="#7b95d1" stroke="#4165b1" stroke-width="1.2" stroke-linejoin="miter"/>
<path d="M336.8 284.1L341.3 296.3H332.3Z" fill="#7b95d1" stroke="#4165b1" stroke-width="1.2" stroke-linejoin="miter"/>
<path d="M326.3 284.3L330.8 296.5H321.8Z" fill="#7b95d1" stroke="#4165b1" stroke-width="1.2" stroke-linejoin="miter"/>
<ellipse cx="319.5" cy="290.5" rx="4.25" ry="5.45" fill="#7b95d1" stroke="#4165b1" stroke-width="1.5"/>
<ellipse cx="402.1" cy="290.8" rx="4.25" ry="5.45" fill="#7b95d1" stroke="#4165b1" stroke-width="1.5"/>
<ellipse cx="402.2" cy="290.3" rx="4.25" ry="5.45" fill="#7b95d1" stroke="#4165b1" stroke-width="1.5"/>
<ellipse cx="361.3" cy="289.8" rx="4.25" ry="5.45" fill="#7b95d1" stroke="#4165b1" stroke-width="1.5"/>
<path d="M393.6 284.1L398.1 296.3H389.1Z" fill="#7b95d1" stroke="#4165b1" stroke-width="1.2" stroke-linejoin="miter"/>
<ellipse cx="362.8" cy="290.3" rx="4.25" ry="5.45" fill="#7b95d1" stroke="#4165b1" stroke-width="1.5"/>
<path d="M387.4 284.5L391.9 296.7H382.9Z" fill="#7b95d1" stroke="#4165b1" stroke-width="1.2" stroke-linejoin="miter"/>
<path d="M317.2 283.8L321.7 296.0H312.7Z" fill="#7b95d1" stroke="#4165b1" stroke-width="1.2" stroke-linejoin="miter"/>
<path d="M414.4 284.8L418.9 297.0H409.9Z" fill="#7b95d1" stroke="#4165b1" stroke-width="1.2" stroke-linejoin="miter"/>
<path d="M365.5 284.5L370.0 296.7H361.0Z" fill="#7b95d1" stroke="#4165b1" stroke-width="1.2" stroke-linejoin="miter"/>
<ellipse cx="345.9" cy="289.8" rx="4.25" ry="5.45" fill="#7b95d1" stroke="#4165b1" stroke-width="1.5"/>
<ellipse cx="403.8" cy="289.9" rx="4.25" ry="5.45" fill="#7b95d1" stroke="#4165b1" stroke-width="1.5"/>
<ellipse cx="348.9" cy="290.1" rx="4.25" ry="5.45" fill="#7b95d1" stroke="#4165b1" stroke-width="1.5"/>
<ellipse cx="366.6" cy="290.9" rx="4.25" ry="5.45" fill="#7b95d1" stroke="#4165b1" stroke-width="1.5"/>
<path d="M334.7 283.9L339.2 296.1H330.2Z" fill="#7b95d1" stroke="#4165b1" stroke-width="1.2" stroke-linejoin="miter"/>
<path d="M393.8 284.5L398.3 296.7H389.3Z" fill="#7b95d1" stroke="#4165b1" stroke-width="1.2" stroke-linejoin="miter"/>
<path d="M336.0 284.7L340.5 296.9H331.5Z" fill="#7b95d1" stroke="#4165b1" stroke-width="1.2" stroke-linejoin="miter"/>
<path d="M372.5 284.4L377.0 296.6H368.0Z" fill="#7b95d1" stroke="#4165b1" stroke-width="1.2" stroke-linejoin="miter"/>
<path d="M345.1 284.2L349.6 296.4H340.6Z" fill="#7b95d1" stroke="#4165b1" stroke-width="1.2" stroke-linejoin="miter"/>
<ellipse cx="390.3" cy="290.1" rx="4.25" ry="5.45" fill="#7b95d1" stroke="#4165b1" stroke-width="1.5"/>
<ellipse cx="336.3" cy="290.4" rx="4.25" ry="5.45" fill="#7b95d1" stroke="#4165b1" stroke-width="1.5"/>
<ellipse cx="345.3" cy="284.5" rx="4.25" ry="5.45" fill="#7b95d1" stroke="#4165b1" stroke-width="1.5"/>
<path d="M369.1 277.8L373.6 290.0H364.6Z" fill="#7b95d1" stroke="#4165b1" stroke-width="1.2" stroke-linejoin="miter"/>
<path d="M360.2 278.6L364.7 290.8H355.7Z" fill="#7b95d1" stroke="#4165b1" stroke-width="1.2" stroke-linejoin="miter"/>
<ellipse cx="346.2" cy="285.0" rx="4.25" ry="5.45" fill="#7b95d1" stroke="#4165b1" stroke-width="1.5"/>
<ellipse cx="331.6" cy="284.6" rx="4.25" ry="5.45" fill="#7b95d1" stroke="#4165b1" stroke-width="1.5"/>
<ellipse cx="429.7" cy="285.1" rx="4.25" ry="5.45" fill="#7b95d1" stroke="#4165b1" stroke-width="1.5"/>
<ellipse cx="326.2" cy="285.0" rx="4.25" ry="5.45" fill="#7b95d1" stroke="#4165b1" stroke-width="1.5"/>
<ellipse cx="355.0" cy="279.5" rx="4.25" ry="5.45" fill="#7b95d1" stroke="#4165b1" stroke-width="1.5"/>
<ellipse cx="315.6" cy="279.1" rx="4.25" ry="5.45" fill="#7b95d1" stroke="#4165b1" stroke-width="1.5"/>
<ellipse cx="320.0" cy="279.0" rx="4.25" ry="5.45" fill="#7b95d1" stroke="#4165b1" stroke-width="1.5"/>
<ellipse cx="425.4" cy="279.5" rx="4.25" ry="5.45" fill="#7b95d1" stroke="#4165b1" stroke-width="1.5"/>
<path d="M336.3 273.5L340.8 285.7H331.8Z" fill="#7b95d1" stroke="#4165b1" stroke-width="1.2" stroke-linejoin="miter"/>
<ellipse cx="419.4" cy="278.9" rx="4.25" ry="5.45" fill="#7b95d1" stroke="#4165b1" stroke-width="1.5"/>
<path d="M364.3 273.1L368.8 285.3H359.8Z" fill="#7b95d1" stroke="#4165b1" stroke-width="1.2" stroke-linejoin="miter"/>
<path d="M290.8 273.4L295.3 285.6H286.3Z" fill="#7b95d1" stroke="#4165b1" stroke-width="1.2" stroke-linejoin="miter"/>
<ellipse cx="394.0" cy="278.7" rx="4.25" ry="5.45" fill="#7b95d1" stroke="#4165b1" stroke-width="1.5"/>
<path d="M388.1 273.3L392.6 285.5H383.6Z" fill="#7b95d1" stroke="#4165b1" stroke-width="1.2" stroke-linejoin="miter"/>
<path d="M388.6 273.1L393.1 285.3H384.1Z" fill="#7b95d1" stroke="#4165b1" stroke-width="1.2" stroke-linejoin="miter"/>
<path d="M386.0 272.6L390.5 284.8H381.5Z" fill="#7b95d1" stroke="#4165b1" stroke-width="1.2" stroke-linejoin="miter"/>
<path d="M362.3 272.5L366.8 284.7H357.8Z" fill="#7b95d1" stroke="#4165b1" stroke-width="1.2" stroke-linejoin="miter"/>
<ellipse cx="374.3" cy="279.4" rx="4.25" ry="5.45" fill="#7b95d1" stroke="#4165b1" stroke-width="1.5"/>
<ellipse cx="396.1" cy="279.5" rx="4.25" ry="5.45" fill="#7b95d1" stroke="#4165b1" stroke-width="1.5"/>
<ellipse cx="380.1" cy="278.8" rx="4.25" ry="5.45" fill="#7b95d1" stroke="#4165b1" stroke-width="1.5"/>
<path d="M349.1 273.5L353.6 285.7H344.6Z" fill="#7b95d1" stroke="#4165b1" stroke-width="1.2" stroke-linejoin="miter"/>
<path d="M399.7 272.4L404.2 284.6H395.2Z" fill="#7b95d1" stroke="#4165b1" stroke-width="1.2" stroke-linejoin="miter"/>
<path d="M382.4 272.9L386.9 285.1H377.9Z" fill="#7b95d1" stroke="#4165b1" stroke-width="1.2" stroke-linejoin="miter"/>
<ellipse cx="321.2" cy="279.2" rx="4.25" ry="5.45" fill="#7b95d1" stroke="#4165b1" stroke-width="1.5"/>
<ellipse cx="451.7" cy="279.0" rx="4.25" ry="5.45" fill="#7b95d1" stroke="#4165b1" stroke-width="1.5"/>
<ellipse cx="349.7" cy="278.5" rx="4.25" ry="5.45" fill="#7b95d1" stroke="#4165b1" stroke-width="1.5"/>
<path d="M345.4 272.5L349.9 284.7H340.9Z" fill="#7b95d1" stroke="#4165b1" stroke-width="1.2" stroke-linejoin="miter"/>
<path d="M299.1 272.5L303.6 284.7H294.6Z" fill="#7b95d1" stroke="#4165b1" stroke-width="1.2" stroke-linejoin="miter"/>
<path d="M359.9 272.6L364.4 284.8H355.4Z" fill="#7b95d1" stroke="#4165b1" stroke-width="1.2" stroke-linejoin="miter"/>
<path d="M338.7 273.2L343.2 285.4H334.2Z" fill="#7b95d1" stroke="#4165b1" stroke-width="1.2" stroke-linejoin="miter"/>
<ellipse cx="408.8" cy="279.2" rx="4.25" ry="5.45" fill="#7b95d1" stroke="#4165b1" stroke-width="1.5"/>
<path d="M362.8 272.7L367.3 284.9H358.3Z" fill="#7b95d1" stroke="#4165b1" stroke-width="1.2" stroke-linejoin="miter"/>
<ellipse cx="406.6" cy="278.5" rx="4.25" ry="5.45" fill="#7b95d1" stroke="#4165b1" stroke-width="1.5"/>
<ellipse cx="423.8" cy="278.9" rx="4.25" ry="5.45" fill="#7b95d1" stroke="#4165b1" stroke-width="1.5"/>
<path d="M312.4 273.0L316.9 285.2H307.9Z" fill="#7b95d1" stroke="#4165b1" stroke-width="1.2" stroke-linejoin="miter"/>
<ellipse cx="333.3" cy="279.3" rx="4.25" ry="5.45" fill="#7b95d1" stroke="#4165b1" stroke-width="1.5"/>
<path d="M399.8 272.8L404.3 285.0H395.3Z" fill="#7b95d1" stroke="#4165b1" stroke-width="1.2" stroke-linejoin="miter"/>
<ellipse cx="391.7" cy="278.9" rx="4.25" ry="5.45" fill="#7b95d1" stroke="#4165b1" stroke-width="1.5"/>
<path d="M445.6 273.1L450.1 285.3H441.1Z" fill="#7b95d1" stroke="#4165b1" stroke-width="1.2" stroke-linejoin="miter"/>
<path d="M401.2 273.4L405.7 285.6H396.7Z" fill="#7b95d1" stroke="#4165b1" stroke-width="1.2" stroke-linejoin="miter"/>
<path d="M287.0 273.1L291.5 285.3H282.5Z" fill="#7b95d1" stroke="#4165b1" stroke-width="1.2" stroke-linejoin="miter"/>
<ellipse cx="303.8" cy="279.5" rx="4.25" ry="5.45" fill="#7b95d1" stroke="#4165b1" stroke-width="1.5"/>
<path d="M345.5 273.3L350.0 285.5H341.0Z" fill="#7b95d1" stroke="#4165b1" stroke-width="1.2" stroke-linejoin="miter"/>
<ellipse cx="320.2" cy="278.8" rx="4.25" ry="5.45" fill="#7b95d1" stroke="#4165b1" stroke-width="1.5"/>
<path d="M308.3 272.4L312.8 284.6H303.8Z" fill="#7b95d1" stroke="#4165b1" stroke-width="1.2" stroke-linejoin="miter"/>
<path d="M422.8 273.1L427.3 285.3H418.3Z" fill="#7b95d1" stroke="#4165b1" stroke-width="1.2" stroke-linejoin="miter"/>
<path d="M330.7 273.3L335.2 285.5H326.2Z" fill="#7b95d1" stroke="#4165b1" stroke-width="1.2" stroke-linejoin="miter"/>
<ellipse cx="440.3" cy="278.6" rx="4.25" ry="5.45" fill="#7b95d1" stroke="#4165b1" stroke-width="1.5"/>
<ellipse cx="420.4" cy="279.4" rx="4.25" ry="5.45" fill="#7b95d1" stroke="#4165b1" stroke-width="1.5"/>
<path d="M324.0 273.2L328.5 285.4H319.5Z" fill="#7b95d1" stroke="#4165b1" stroke-width="1.2" stroke-linejoin="miter"/>
<path d="M372.4 273.3L376.9 285.5H367.9Z" fill="#7b95d1" stroke="#4165b1" stroke-width="1.2" stroke-linejoin="miter"/>
<ellipse cx="391.6" cy="279.4" rx="4.25" ry="5.45" fill="#7b95d1" stroke="#4165b1" stroke-width="1.5"/>
<path d="M323.8 273.5L328.3 285.7H319.3Z" fill="#7b95d1" stroke="#4165b1" stroke-width="1.2" stroke-linejoin="miter"/>
<ellipse cx="373.2" cy="279.2" rx="4.25" ry="5.45" fill="#7b95d1" stroke="#4165b1" stroke-width="1.5"/>
<path d="M373.1 272.8L377.6 285.0H368.6Z" fill="#7b95d1" stroke="#4165b1" stroke-width="1.2" stroke-linejoin="miter"/>
<path d="M352.8 272.6L357.3 284.8H348.3Z" fill="#7b95d1" stroke="#4165b1" stroke-width="1.2" stroke-linejoin="miter"/>
<path d="M386.3 272.8L390.8 285.0H381.8Z" fill="#7b95d1" stroke="#4165b1" stroke-width="1.2" stroke-linejoin="miter"/>
<ellipse cx="322.4" cy="279.2" rx="4.25" ry="5.45" fill="#7b95d1" stroke="#4165b1" stroke-width="1.5"/>
<path d="M318.1 272.4L322.6 284.6H313.6Z" fill="#7b95d1" stroke="#4165b1" stroke-width="1.2" stroke-linejoin="miter"/>
<ellipse cx="437.1" cy="279.2" rx="4.25" ry="5.45" fill="#7b95d1" stroke="#4165b1" stroke-width="1.5"/>
<path d="M360.7 272.9L365.2 285.1H356.2Z" fill="#7b95d1" stroke="#4165b1" stroke-width="1.2" stroke-linejoin="miter"/>
<path d="M415.2 273.5L419.7 285.7H410.7Z" fill="#7b95d1" stroke="#4165b1" stroke-width="1.2" stroke-linejoin="miter"/>
<ellipse cx="388.4" cy="278.6" rx="4.25" ry="5.45" fill="#7b95d1" stroke="#4165b1" stroke-width="1.5"/>
<path d="M370.7 273.4L375.2 285.6H366.2Z" fill="#7b95d1" stroke="#4165b1" stroke-width="1.2" stroke-linejoin="miter"/>
<ellipse cx="439.7" cy="279.2" rx="4.25" ry="5.45" fill="#7b95d1" stroke="#4165b1" stroke-width="1.5"/>
<ellipse cx="339.3" cy="279.6" rx="4.25" ry="5.45" fill="#7b95d1" stroke="#4165b1" stroke-width="1.5"/>
<path d="M317.7 273.2L322.2 285.4H313.2Z" fill="#7b95d1" stroke="#4165b1" stroke-width="1.2" stroke-linejoin="miter"/>
<ellipse cx="344.7" cy="278.7" rx="4.25" ry="5.45" fill="#7b95d1" stroke="#4165b1" stroke-width="1.5"/>
<ellipse cx="453.6" cy="278.5" rx="4.25" ry="5.45" fill="#7b95d1" stroke="#4165b1" stroke-width="1.5"/>
<path d="M318.5 273.4L323.0 285.6H314.0Z" fill="#7b95d1" stroke="#4165b1" stroke-width="1.2" stroke-linejoin="miter"/>
<path d="M427.3 273.2L431.8 285.4H422.8Z" fill="#7b95d1" stroke="#4165b1" stroke-width="1.2" stroke-linejoin="miter"/>
<ellipse cx="452.5" cy="278.7" rx="4.25" ry="5.45" fill="#7b95d1" stroke="#4165b1" stroke-width="1.5"/>
<path d="M444.6 272.7L449.1 284.9H440.1Z" fill="#7b95d1" stroke="#4165b1" stroke-width="1.2" stroke-linejoin="miter"/>
<ellipse cx="413.6" cy="278.9" rx="4.25" ry="5.45" fill="#7b95d1" stroke="#4165b1" stroke-width="1.5"/>
<ellipse cx="394.3" cy="278.8" rx="4.25" ry="5.45" fill="#7b95d1" stroke="#4165b1" stroke-width="1.5"/>
<path d="M394.0 272.4L398.5 284.6H389.5Z" fill="#7b95d1" stroke="#4165b1" stroke-width="1.2" stroke-linejoin="miter"/>
<ellipse cx="317.4" cy="279.6" rx="4.25" ry="5.45" fill="#7b95d1" stroke="#4165b1" stroke-width="1.5"/>
<path d="M431.1 272.5L435.6 284.7H426.6Z" fill="#7b95d1" stroke="#4165b1" stroke-width="1.2" stroke-linejoin="miter"/>
<ellipse cx="335.9" cy="279.6" rx="4.25" ry="5.45" fill="#7b95d1" stroke="#4165b1" stroke-width="1.5"/>
<ellipse cx="391.5" cy="278.9" rx="4.25" ry="5.45" fill="#7b95d1" stroke="#4165b1" stroke-width="1.5"/>
<path d="M365.7 272.6L370.2 284.8H361.2Z" fill="#7b95d1" stroke="#4165b1" stroke-width="1.2" stroke-linejoin="miter"/>
<path d="M418.4 272.6L422.9 284.8H413.9Z" fill="#7b95d1" stroke="#4165b1" stroke-width="1.2" stroke-linejoin="miter"/>
<ellipse cx="329.6" cy="278.7" rx="4.25" ry="5.45" fill="#7b95d1" stroke="#4165b1" stroke-width="1.5"/>
<path d="M384.9 272.8L389.4 285.0H380.4Z" fill="#7b95d1" stroke="#4165b1" stroke-width="1.2" stroke-linejoin="miter"/>
<ellipse cx="379.2" cy="279.6" rx="4.25" ry="5.45" fill="#7b95d1" stroke="#4165b1" stroke-width="1.5"/>
<ellipse cx="392.3" cy="279.7" rx="4.25" ry="5.45" fill="#7b95d1" stroke="#4165b1" stroke-width="1.5"/>
<path d="M421.7 272.6L426.2 284.8H417.2Z" fill="#7b95d1" stroke="#4165b1" stroke-width="1.2" stroke-linejoin="miter"/>
<ellipse cx="384.3" cy="278.8" rx="4.25" ry="5.45" fill="#7b95d1" stroke="#4165b1" stroke-width="1.5"/>
<ellipse cx="361.0" cy="279.7" rx="4.25" ry="5.45" fill="#7b95d1" stroke="#4165b1" stroke-width="1.5"/>
<path d="M382.1 273.5L386.6 285.7H377.6Z" fill="#7b95d1" stroke="#4165b1" stroke-width="1.2" stroke-linejoin="miter"/>
<path d="M382.3 272.4L386.8 284.6H377.8Z" fill="#7b95d1" stroke="#4165b1" stroke-width="1.2" stroke-linejoin="miter"/>
<path d="M376.3 272.7L380.8 284.9H371.8Z" fill="#7b95d1" stroke="#4165b1" stroke-width="1.2" stroke-linejoin="miter"/>
<path d="M367.3 272.8L371.8 285.0H362.8Z" fill="#7b95d1" stroke="#4165b1" stroke-width="1.2" stroke-linejoin="miter"/>
<ellipse cx="361.3" cy="278.5" rx="4.25" ry="5.45" fill="#7b95d1" stroke="#4165b1" stroke-width="1.5"/>
<ellipse cx="380.1" cy="279.0" rx="4.25" ry="5.45" fill="#7b95d1" stroke="#4165b1" stroke-width="1.5"/>
<path d="M330.1 272.6L334.6 284.8H325.6Z" fill="#7b95d1" stroke="#4165b1" stroke-width="1.2" stroke-linejoin="miter"/>
<ellipse cx="347.3" cy="279.4" rx="4.25" ry="5.45" fill="#7b95d1" stroke="#4165b1" stroke-width="1.5"/>
<path d="M354.9 272.6L359.4 284.8H350.4Z" fill="#7b95d1" stroke="#4165b1" stroke-width="1.2" stroke-linejoin="miter"/>
<path d="M373.3 273.0L377.8 285.2H368.8Z" fill="#7b95d1" stroke="#4165b1" stroke-width="1.2" stroke-linejoin="miter"/>
<ellipse cx="368.1" cy="278.7" rx="4.25" ry="5.45" fill="#7b95d1" stroke="#4165b1" stroke-width="1.5"/>
<path d="M326.2 273.1L330.7 285.3H321.7Z" fill="#7b95d1" stroke="#4165b1" stroke-width="1.2" stroke-linejoin="miter"/>
<ellipse cx="331.5" cy="278.6" rx="4.25" ry="5.45" fill="#7b95d1" stroke="#4165b1" stroke-width="1.5"/>
<path d="M358.7 272.4L363.2 284.6H354.2Z" fill="#7b95d1" stroke="#4165b1" stroke-width="1.2" stroke-linejoin="miter"/>
<path d="M331.5 272.8L336.0 285.0H327.0Z" fill="#7b95d1" stroke="#4165b1" stroke-width="1.2" stroke-linejoin="miter"/>
<ellipse cx="394.7" cy="278.5" rx="4.25" ry="5.45" fill="#7b95d1" stroke="#4165b1" stroke-width="1.5"/>
<path d="M311.7 273.0L316.2 285.2H307.2Z" fill="#7b95d1" stroke="#4165b1" stroke-width="1.2" stroke-linejoin="miter"/>
<ellipse cx="378.4" cy="279.5" rx="4.25" ry="5.45" fill="#7b95d1" stroke="#4165b1" stroke-width="1.5"/>
<ellipse cx="345.0" cy="278.7" rx="4.25" ry="5.45" fill="#7b95d1" stroke="#4165b1" stroke-width="1.5"/>
<ellipse cx="334.2" cy="279.1" rx="4.25" ry="5.45" fill="#7b95d1" stroke="#4165b1" stroke-width="1.5"/>
<ellipse cx="391.2" cy="279.1" rx="4.25" ry="5.45" fill="#7b95d1" stroke="#4165b1" stroke-width="1.5"/>
<path d="M396.5 273.4L401.0 285.6H392.0Z" fill="#7b95d1" stroke="#4165b1" stroke-width="1.2" stroke-linejoin="miter"/>
<ellipse cx="394.7" cy="279.3" rx="4.25" ry="5.45" fill="#7b95d1" stroke="#4165b1" stroke-width="1.5"/>
<ellipse cx="325.2" cy="279.5" rx="4.25" ry="5.45" fill="#7b95d1" stroke="#4165b1" stroke-width="1.5"/>
<path d="M395.9 273.0L400.4 285.2H391.4Z" fill="#7b95d1" stroke="#4165b1" stroke-width="1.2" stroke-linejoin="miter"/>
<path d="M325.2 272.4L329.7 284.6H320.7Z" fill="#7b95d1" stroke="#4165b1" stroke-width="1.2" stroke-linejoin="miter"/>
<path d="M358.9 272.6L363.4 284.8H354.4Z" fill="#7b95d1" stroke="#4165b1" stroke-width="1.2" stroke-linejoin="miter"/>
<ellipse cx="367.8" cy="279.5" rx="4.25" ry="5.45" fill="#7b95d1" stroke="#4165b1" stroke-width="1.5"/>
<ellipse cx="374.7" cy="278.6" rx="4.25" ry="5.45" fill="#7b95d1" stroke="#4165b1" stroke-width="1.5"/>
<ellipse cx="355.8" cy="279.2" rx="4.25" ry="5.45" fill="#7b95d1" stroke="#4165b1" stroke-width="1.5"/>
<path d="M343.2 273.0L347.7 285.2H338.7Z" fill="#7b95d1" stroke="#4165b1" stroke-width="1.2" stroke-linejoin="miter"/>
<path d="M357.9 273.2L362.4 285.4H353.4Z" fill="#7b95d1" stroke="#4165b1" stroke-width="1.2" stroke-linejoin="miter"/>
<ellipse cx="348.6" cy="278.6" rx="4.25" ry="5.45" fill="#7b95d1" stroke="#4165b1" stroke-width="1.5"/>
<ellipse cx="326.7" cy="278.6" rx="4.25" ry="5.45" fill="#7b95d1" stroke="#4165b1" stroke-width="1.5"/>
<ellipse cx="363.4" cy="278.6" rx="4.25" ry="5.45" fill="#7b95d1" stroke="#4165b1" stroke-width="1.5"/>
<ellipse cx="312.0" cy="279.2" rx="4.25" ry="5.45" fill="#7b95d1" stroke="#4165b1" stroke-width="1.5"/>
<path d="M329.5 272.6L334.0 284.8H325.0Z" fill="#7b95d1" stroke="#4165b1" stroke-width="1.2" stroke-linejoin="miter"/>
<ellipse cx="394.5" cy="279.0" rx="4.25" ry="5.45" fill="#7b95d1" stroke="#4165b1" stroke-width="1.5"/>
<path d="M299.2 273.0L303.7 285.2H294.7Z" fill="#7b95d1" stroke="#4165b1" stroke-width="1.2" stroke-linejoin="miter"/>
<path d="M305.4 272.8L309.9 285.0H300.9Z" fill="#7b95d1" stroke="#4165b1" stroke-width="1.2" stroke-linejoin="miter"/>
<ellipse cx="405.6" cy="278.9" rx="4.25" ry="5.45" fill="#7b95d1" stroke="#4165b1" stroke-width="1.5"/>
<path d="M395.3 273.5L399.8 285.7H390.8Z" fill="#7b95d1" stroke="#4165b1" stroke-width="1.2" stroke-linejoin="miter"/>
<ellipse cx="385.1" cy="279.1" rx="4.25" ry="5.45" fill="#7b95d1" stroke="#4165b1" stroke-width="1.5"/>
<path d="M308.6 273.5L313.1 285.7H304.1Z" fill="#7b95d1" stroke="#4165b1" stroke-width="1.2" stroke-linejoin="miter"/>
<path d="M362.1 272.8L366.6 285.0H357.6Z" fill="#7b95d1" stroke="#4165b1" stroke-width="1.2" stroke-linejoin="miter"/>
<path d="M393.4 272.5L397.9 284.7H388.9Z" fill="#7b95d1" stroke="#4165b1" stroke-width="1.2" stroke-linejoin="miter"/>
<ellipse cx="329.5" cy="278.6" rx="4.25" ry="5.45" fill="#7b95d1" stroke="#4165b1" stroke-width="1.5"/>
<path d="M376.5 273.3L381.0 285.5H372.0Z" fill="#7b95d1" stroke="#4165b1" stroke-width="1.2" stroke-linejoin="miter"/>
<path d="M401.2 273.4L405.7 285.6H396.7Z" fill="#7b95d1" stroke="#4165b1" stroke-width="1.2" stroke-linejoin="miter"/>
<path d="M345.6 272.4L350.1 284.6H341.1Z" fill="#7b95d1" stroke="#4165b1" stroke-width="1.2" stroke-linejoin="miter"/>
<path d="M347.1 272.7L351.6 284.9H342.6Z" fill="#7b95d1" stroke="#4165b1" stroke-width="1.2" stroke-linejoin="miter"/>
<path d="M343.7 273.5L348.2 285.7H339.2Z" fill="#7b95d1" stroke="#4165b1" stroke-width="1.2" stroke-linejoin="miter"/>
<path d="M345.5 272.9L350.0 285.1H341.0Z" fill="#7b95d1" stroke="#4165b1" stroke-width="1.2" stroke-linejoin="miter"/>
<path d="M346.3 272.7L350.8 284.9H341.8Z" fill="#7b95d1" stroke="#4165b1" stroke-width="1.2" stroke-linejoin="miter"/>
<ellipse cx="347.2" cy="279.2" rx="4.25" ry="5.45" fill="#7b95d1" stroke="#4165b1" stroke-width="1.5"/>
<path d="M402.7 273.0L407.2 285.2H398.2Z" fill="#7b95d1" stroke="#4165b1" stroke-width="1.2" stroke-linejoin="miter"/>
<path d="M358.1 272.6L362.6 284.8H353.6Z" fill="#7b95d1" stroke="#4165b1" stroke-width="1.2" stroke-linejoin="miter"/>
<ellipse cx="395.4" cy="278.6" rx="4.25" ry="5.45" fill="#7b95d1" stroke="#4165b1" stroke-width="1.5"/>
<ellipse cx="353.7" cy="278.8" rx="4.25" ry="5.45" fill="#7b95d1" stroke="#4165b1" stroke-width="1.5"/>
<path d="M400.4 268.4L404.9 280.6H395.9Z" fill="#7b95d1" stroke="#4165b1" stroke-width="1.2" stroke-linejoin="miter"/>
<path d="M375.5 267.6L380.0 279.8H371.0Z" fill="#7b95d1" stroke="#4165b1" stroke-width="1.2" stroke-linejoin="miter"/>
<path d="M359.1 268.1L363.6 280.3H354.6Z" fill="#7b95d1" stroke="#4165b1" stroke-width="1.2" stroke-linejoin="miter"/>
<ellipse cx="355.0" cy="274.1" rx="4.25" ry="5.45" fill="#7b95d1" stroke="#4165b1" stroke-width="1.5"/>
<path d="M389.9 267.4L394.4 279.6H385.4Z" fill="#7b95d1" stroke="#4165b1" stroke-width="1.2" stroke-linejoin="miter"/>
<path d="M382.2 268.0L386.7 280.2H377.7Z" fill="#7b95d1" stroke="#4165b1" stroke-width="1.2" stroke-linejoin="miter"/>
<path d="M344.7 267.8L349.2 280.0H340.2Z" fill="#7b95d1" stroke="#4165b1" stroke-width="1.2" stroke-linejoin="miter"/>
<ellipse cx="311.1" cy="269.9" rx="4.25" ry="5.45" fill="#7b95d1" stroke="#4165b1" stroke-width="1.5"/>
<ellipse cx="398.0" cy="269.8" rx="4.25" ry="5.45" fill="#7b95d1" stroke="#4165b1" stroke-width="1.5"/>
<ellipse cx="378.5" cy="270.0" rx="4.25" ry="5.45" fill="#7b95d1" stroke="#4165b1" stroke-width="1.5"/>
<ellipse cx="310.4" cy="269.3" rx="4.25" ry="5.45" fill="#7b95d1" stroke="#4165b1" stroke-width="1.5"/>
<path d="M389.4 263.8L393.9 276.0H384.9Z" fill="#7b95d1" stroke="#4165b1" stroke-width="1.2" stroke-linejoin="miter"/>
<path d="M360.8 263.4L365.3 275.6H356.3Z" fill="#7b95d1" stroke="#4165b1" stroke-width="1.2" stroke-linejoin="miter"/>
<path d="M405.2 262.9L409.7 275.1H400.7Z" fill="#7b95d1" stroke="#4165b1" stroke-width="1.2" stroke-linejoin="miter"/>
<path d="M284.7 263.5L289.2 275.7H280.2Z" fill="#7b95d1" stroke="#4165b1" stroke-width="1.2" stroke-linejoin="miter"/>
<path d="M305.8 263.5L310.3 275.7H301.3Z" fill="#7b95d1" stroke="#4165b1" stroke-width="1.2" stroke-linejoin="miter"/>
<path d="M380.4 263.2L384.9 275.4H375.9Z" fill="#7b95d1" stroke="#4165b1" stroke-width="1.2" stroke-linejoin="miter"/>
<ellipse cx="293.5" cy="269.8" rx="4.25" ry="5.45" fill="#7b95d1" stroke="#4165b1" stroke-width="1.5"/>
<ellipse cx="329.6" cy="269.3" rx="4.25" ry="5.45" fill="#7b95d1" stroke="#4165b1" stroke-width="1.5"/>
<ellipse cx="429.3" cy="269.4" rx="4.25" ry="5.45" fill="#7b95d1" stroke="#4165b1" stroke-width="1.5"/>
<ellipse cx="394.1" cy="269.1" rx="4.25" ry="5.45" fill="#7b95d1" stroke="#4165b1" stroke-width="1.5"/>
<ellipse cx="383.5" cy="270.0" rx="4.25" ry="5.45" fill="#7b95d1" stroke="#4165b1" stroke-width="1.5"/>
<path d="M403.0 263.0L407.5 275.2H398.5Z" fill="#7b95d1" stroke="#4165b1" stroke-width="1.2" stroke-linejoin="miter"/>
<path d="M307.8 262.8L312.3 275.0H303.3Z" fill="#7b95d1" stroke="#4165b1" stroke-width="1.2" stroke-linejoin="miter"/>
<path d="M326.2 263.7L330.7 275.9H321.7Z" fill="#7b95d1" stroke="#4165b1" stroke-width="1.2" stroke-linejoin="miter"/>
<path d="M348.2 263.4L352.7 275.6H343.7Z" fill="#7b95d1" stroke="#4165b1" stroke-width="1.2" stroke-linejoin="miter"/>
<ellipse cx="350.8" cy="269.6" rx="4.25" ry="5.45" fill="#7b95d1" stroke="#4165b1" stroke-width="1.5"/>
<path d="M332.2 263.6L336.7 275.8H327.7Z" fill="#7b95d1" stroke="#4165b1" stroke-width="1.2" stroke-linejoin="miter"/>
<ellipse cx="393.3" cy="269.6" rx="4.25" ry="5.45" fill="#7b95d1" stroke="#4165b1" stroke-width="1.5"/>
<path d="M434.5 263.4L439.0 275.6H430.0Z" fill="#7b95d1" stroke="#4165b1" stroke-width="1.2" stroke-linejoin="miter"/>
<path d="M385.3 264.0L389.8 276.2H380.8Z" fill="#7b95d1" stroke="#4165b1" stroke-width="1.2" stroke-linejoin="miter"/>
<ellipse cx="300.0" cy="269.3" rx="4.25" ry="5.45" fill="#7b95d1" stroke="#4165b1" stroke-width="1.5"/>
<path d="M425.3 262.9L429.8 275.1H420.8Z" fill="#7b95d1" stroke="#4165b1" stroke-width="1.2" stroke-linejoin="miter"/>
<path d="M402.0 264.0L406.5 276.2H397.5Z" fill="#7b95d1" stroke="#4165b1" stroke-width="1.2" stroke-linejoin="miter"/>
<ellipse cx="356.0" cy="269.2" rx="4.25" ry="5.45" fill="#7b95d1" stroke="#4165b1" stroke-width="1.5"/>
<path d="M352.5 263.0L357.0 275.2H348.0Z" fill="#7b95d1" stroke="#4165b1" stroke-width="1.2" stroke-linejoin="miter"/>
<ellipse cx="331.5" cy="270.1" rx="4.25" ry="5.45" fill="#7b95d1" stroke="#4165b1" stroke-width="1.5"/>
<ellipse cx="291.2" cy="269.8" rx="4.25" ry="5.45" fill="#7b95d1" stroke="#4165b1" stroke-width="1.5"/>
<path d="M329.3 262.8L333.8 275.0H324.8Z" fill="#7b95d1" stroke="#4165b1" stroke-width="1.2" stroke-linejoin="miter"/>
<path d="M391.2 263.0L395.7 275.2H386.7Z" fill="#7b95d1" stroke="#4165b1" stroke-width="1.2" stroke-linejoin="miter"/>
<path d="M325.0 263.1L329.5 275.3H320.5Z" fill="#7b95d1" stroke="#4165b1" stroke-width="1.2" stroke-linejoin="miter"/>
<path d="M374.9 263.5L379.4 275.7H370.4Z" fill="#7b95d1" stroke="#4165b1" stroke-width="1.2" stroke-linejoin="miter"/>
<path d="M380.2 262.9L384.7 275.1H375.7Z" fill="#7b95d1" stroke="#4165b1" stroke-width="1.2" stroke-linejoin="miter"/>
<ellipse cx="379.5" cy="269.5" rx="4.25" ry="5.45" fill="#7b95d1" stroke="#4165b1" stroke-width="1.5"/>
<path d="M388.8 262.9L393.3 275.1H384.3Z" fill="#7b95d1" stroke="#4165b1" stroke-width="1.2" stroke-linejoin="miter"/>
<path d="M369.1 263.2L373.6 275.4H364.6Z" fill="#7b95d1" stroke="#4165b1" stroke-width="1.2" stroke-linejoin="miter"/>
<ellipse cx="333.5" cy="269.0" rx="4.25" ry="5.45" fill="#7b95d1" stroke="#4165b1" stroke-width="1.5"/>
<ellipse cx="383.6" cy="269.4" rx="4.25" ry="5.45" fill="#7b95d1" stroke="#4165b1" stroke-width="1.5"/>
<path d="M436.3 263.9L440.8 276.1H431.8Z" fill="#7b95d1" stroke="#4165b1" stroke-width="1.2" stroke-linejoin="miter"/>
<path d="M390.5 263.1L395.0 275.3H386.0Z" fill="#7b95d1" stroke="#4165b1" stroke-width="1.2" stroke-linejoin="miter"/>
<ellipse cx="429.1" cy="270.0" rx="4.25" ry="5.45" fill="#7b95d1" stroke="#4165b1" stroke-width="1.5"/>
<path d="M335.9 263.9L340.4 276.1H331.4Z" fill="#7b95d1" stroke="#4165b1" stroke-width="1.2" stroke-linejoin="miter"/>
<path d="M335.2 263.1L339.7 275.3H330.7Z" fill="#7b95d1" stroke="#4165b1" stroke-width="1.2" stroke-linejoin="miter"/>
<ellipse cx="360.0" cy="269.9" rx="4.25" ry="5.45" fill="#7b95d1" stroke="#4165b1" stroke-width="1.5"/>
<path d="M340.0 263.1L344.5 275.3H335.5Z" fill="#7b95d1" stroke="#4165b1" stroke-width="1.2" stroke-linejoin="miter"/>
<path d="M350.4 263.1L354.9 275.3H345.9Z" fill="#7b95d1" stroke="#4165b1" stroke-width="1.2" stroke-linejoin="miter"/>
<path d="M303.6 263.3L308.1 275.5H299.1Z" fill="#7b95d1" stroke="#4165b1" stroke-width="1.2" stroke-linejoin="miter"/>
<ellipse cx="383.0" cy="269.0" rx="4.25" ry="5.45" fill="#7b95d1" stroke="#4165b1" stroke-width="1.5"/>
<ellipse cx="344.1" cy="269.1" rx="4.25" ry="5.45" fill="#7b95d1" stroke="#4165b1" stroke-width="1.5"/>
<path d="M365.8 263.2L370.3 275.4H361.3Z" fill="#7b95d1" stroke="#4165b1" stroke-width="1.2" stroke-linejoin="miter"/>
<path d="M374.6 262.9L379.1 275.1H370.1Z" fill="#7b95d1" stroke="#4165b1" stroke-width="1.2" stroke-linejoin="miter"/>
<ellipse cx="374.6" cy="269.9" rx="4.25" ry="5.45" fill="#7b95d1" stroke="#4165b1" stroke-width="1.5"/>
<ellipse cx="311.2" cy="269.8" rx="4.25" ry="5.45" fill="#7b95d1" stroke="#4165b1" stroke-width="1.5"/>
<path d="M348.8 263.0L353.3 275.2H344.3Z" fill="#7b95d1" stroke="#4165b1" stroke-width="1.2" stroke-linejoin="miter"/>
<ellipse cx="370.3" cy="269.4" rx="4.25" ry="5.45" fill="#7b95d1" stroke="#4165b1" stroke-width="1.5"/>
<path d="M357.4 263.5L361.9 275.7H352.9Z" fill="#7b95d1" stroke="#4165b1" stroke-width="1.2" stroke-linejoin="miter"/>
<ellipse cx="338.1" cy="269.6" rx="4.25" ry="5.45" fill="#7b95d1" stroke="#4165b1" stroke-width="1.5"/>
<path d="M377.8 263.4L382.3 275.6H373.3Z" fill="#7b95d1" stroke="#4165b1" stroke-width="1.2" stroke-linejoin="miter"/>
<path d="M351.8 263.3L356.3 275.5H347.3Z" fill="#7b95d1" stroke="#4165b1" stroke-width="1.2" stroke-linejoin="miter"/>
<ellipse cx="381.1" cy="269.4" rx="4.25" ry="5.45" fill="#7b95d1" stroke="#4165b1" stroke-width="1.5"/>
<ellipse cx="396.1" cy="269.7" rx="4.25" ry="5.45" fill="#7b95d1" stroke="#4165b1" stroke-width="1.5"/>
<path d="M428.0 263.2L432.5 275.4H423.5Z" fill="#7b95d1" stroke="#4165b1" stroke-width="1.2" stroke-linejoin="miter"/>
<ellipse cx="361.1" cy="269.2" rx="4.25" ry="5.45" fill="#7b95d1" stroke="#4165b1" stroke-width="1.5"/>
<path d="M377.7 263.1L382.2 275.3H373.2Z" fill="#7b95d1" stroke="#4165b1" stroke-width="1.2" stroke-linejoin="miter"/>
<path d="M417.3 263.8L421.8 276.0H412.8Z" fill="#7b95d1" stroke="#4165b1" stroke-width="1.2" stroke-linejoin="miter"/>
<ellipse cx="331.3" cy="268.9" rx="4.25" ry="5.45" fill="#7b95d1" stroke="#4165b1" stroke-width="1.5"/>
<ellipse cx="397.5" cy="269.4" rx="4.25" ry="5.45" fill="#7b95d1" stroke="#4165b1" stroke-width="1.5"/>
<ellipse cx="403.6" cy="269.9" rx="4.25" ry="5.45" fill="#7b95d1" stroke="#4165b1" stroke-width="1.5"/>
<ellipse cx="349.3" cy="270.0" rx="4.25" ry="5.45" fill="#7b95d1" stroke="#4165b1" stroke-width="1.5"/>
<path d="M348.2 263.6L352.7 275.8H343.7Z" fill="#7b95d1" stroke="#4165b1" stroke-width="1.2" stroke-linejoin="miter"/>
<ellipse cx="370.3" cy="269.1" rx="4.25" ry="5.45" fill="#7b95d1" stroke="#4165b1" stroke-width="1.5"/>
<ellipse cx="364.2" cy="269.3" rx="4.25" ry="5.45" fill="#7b95d1" stroke="#4165b1" stroke-width="1.5"/>
<path d="M387.1 263.0L391.6 275.2H382.6Z" fill="#7b95d1" stroke="#4165b1" stroke-width="1.2" stroke-linejoin="miter"/>
<path d="M368.3 263.5L372.8 275.7H363.8Z" fill="#7b95d1" stroke="#4165b1" stroke-width="1.2" stroke-linejoin="miter"/>
<ellipse cx="357.2" cy="269.7" rx="4.25" ry="5.45" fill="#7b95d1" stroke="#4165b1" stroke-width="1.5"/>
<ellipse cx="339.5" cy="268.9" rx="4.25" ry="5.45" fill="#7b95d1" stroke="#4165b1" stroke-width="1.5"/>
<ellipse cx="388.2" cy="268.9" rx="4.25" ry="5.45" fill="#7b95d1" stroke="#4165b1" stroke-width="1.5"/>
<path d="M317.2 263.5L321.7 275.7H312.7Z" fill="#7b95d1" stroke="#4165b1" stroke-width="1.2" stroke-linejoin="miter"/>
<ellipse cx="383.5" cy="269.8" rx="4.25" ry="5.45" fill="#7b95d1" stroke="#4165b1" stroke-width="1.5"/>
<ellipse cx="368.6" cy="270.0" rx="4.25" ry="5.45" fill="#7b95d1" stroke="#4165b1" stroke-width="1.5"/>
<path d="M362.0 263.3L366.5 275.5H357.5Z" fill="#7b95d1" stroke="#4165b1" stroke-width="1.2" stroke-linejoin="miter"/>
<path d="M349.3 263.8L353.8 276.0H344.8Z" fill="#7b95d1" stroke="#4165b1" stroke-width="1.2" stroke-linejoin="miter"/>
<path d="M359.5 263.3L364.0 275.5H355.0Z" fill="#7b95d1" stroke="#4165b1" stroke-width="1.2" stroke-linejoin="miter"/>
<path d="M374.8 263.6L379.3 275.8H370.3Z" fill="#7b95d1" stroke="#4165b1" stroke-width="1.2" stroke-linejoin="miter"/>
<path d="M358.0 263.3L362.5 275.5H353.5Z" fill="#7b95d1" stroke="#4165b1" stroke-width="1.2" stroke-linejoin="miter"/>
<ellipse cx="305.7" cy="269.7" rx="4.25" ry="5.45" fill="#7b95d1" stroke="#4165b1" stroke-width="1.5"/>
<path d="M329.7 262.9L334.2 275.1H325.2Z" fill="#7b95d1" stroke="#4165b1" stroke-width="1.2" stroke-linejoin="miter"/>
<path d="M377.6 262.8L382.1 275.0H373.1Z" fill="#7b95d1" stroke="#4165b1" stroke-width="1.2" stroke-linejoin="miter"/>
<ellipse cx="346.1" cy="269.5" rx="4.25" ry="5.45" fill="#7b95d1" stroke="#4165b1" stroke-width="1.5"/>
<path d="M310.1 263.6L314.6 275.8H305.6Z" fill="#7b95d1" stroke="#4165b1" stroke-width="1.2" stroke-linejoin="miter"/>
<ellipse cx="340.1" cy="269.3" rx="4.25" ry="5.45" fill="#7b95d1" stroke="#4165b1" stroke-width="1.5"/>
<ellipse cx="355.8" cy="269.1" rx="4.25" ry="5.45" fill="#7b95d1" stroke="#4165b1" stroke-width="1.5"/>
<path d="M356.0 263.6L360.5 275.8H351.5Z" fill="#7b95d1" stroke="#4165b1" stroke-width="1.2" stroke-linejoin="miter"/>
<ellipse cx="377.1" cy="269.2" rx="4.25" ry="5.45" fill="#7b95d1" stroke="#4165b1" stroke-width="1.5"/>
<path d="M329.6 263.2L334.1 275.4H325.1Z" fill="#7b95d1" stroke="#4165b1" stroke-width="1.2" stroke-linejoin="miter"/>
<ellipse cx="358.9" cy="270.0" rx="4.25" ry="5.45" fill="#7b95d1" stroke="#4165b1" stroke-width="1.5"/>
<ellipse cx="386.3" cy="269.9" rx="4.25" ry="5.45" fill="#7b95d1" stroke="#4165b1" stroke-width="1.5"/>
<path d="M392.0 263.7L396.5 275.9H387.5Z" fill="#7b95d1" stroke="#4165b1" stroke-width="1.2" stroke-linejoin="miter"/>
<path d="M383.6 263.3L388.1 275.5H379.1Z" fill="#7b95d1" stroke="#4165b1" stroke-width="1.2" stroke-linejoin="miter"/>
<path d="M400.9 263.8L405.4 276.0H396.4Z" fill="#7b95d1" stroke="#4165b1" stroke-width="1.2" stroke-linejoin="miter"/>
<ellipse cx="380.7" cy="269.1" rx="4.25" ry="5.45" fill="#7b95d1" stroke="#4165b1" stroke-width="1.5"/>
<ellipse cx="378.3" cy="269.2" rx="4.25" ry="5.45" fill="#7b95d1" stroke="#4165b1" stroke-width="1.5"/>
<ellipse cx="377.2" cy="269.0" rx="4.25" ry="5.45" fill="#7b95d1" stroke="#4165b1" stroke-width="1.5"/>
<ellipse cx="406.1" cy="269.5" rx="4.25" ry="5.45" fill="#7b95d1" stroke="#4165b1" stroke-width="1.5"/>
<ellipse cx="350.1" cy="268.9" rx="4.25" ry="5.45" fill="#7b95d1" stroke="#4165b1" stroke-width="1.5"/>
<path d="M375.8 263.7L380.3 275.9H371.3Z" fill="#7b95d1" stroke="#4165b1" stroke-width="1.2" stroke-linejoin="miter"/>
<path d="M403.2 263.5L407.7 275.7H398.7Z" fill="#7b95d1" stroke="#4165b1" stroke-width="1.2" stroke-linejoin="miter"/>
<ellipse cx="386.0" cy="269.5" rx="4.25" ry="5.45" fill="#7b95d1" stroke="#4165b1" stroke-width="1.5"/>
<path d="M344.2 262.8L348.7 275.0H339.7Z" fill="#7b95d1" stroke="#4165b1" stroke-width="1.2" stroke-linejoin="miter"/>
<path d="M369.8 263.6L374.3 275.8H365.3Z" fill="#7b95d1" stroke="#4165b1" stroke-width="1.2" stroke-linejoin="miter"/>
<path d="M313.2 263.1L317.7 275.3H308.7Z" fill="#7b95d1" stroke="#4165b1" stroke-width="1.2" stroke-linejoin="miter"/>
<ellipse cx="311.5" cy="269.1" rx="4.25" ry="5.45" fill="#7b95d1" stroke="#4165b1" stroke-width="1.5"/>
<path d="M413.0 263.1L417.5 275.3H408.5Z" fill="#7b95d1" stroke="#4165b1" stroke-width="1.2" stroke-linejoin="miter"/>
<ellipse cx="371.0" cy="269.7" rx="4.25" ry="5.45" fill="#7b95d1" stroke="#4165b1" stroke-width="1.5"/>
<ellipse cx="400.8" cy="269.8" rx="4.25" ry="5.45" fill="#7b95d1" stroke="#4165b1" stroke-width="1.5"/>
<path d="M305.5 263.7L310.0 275.9H301.0Z" fill="#7b95d1" stroke="#4165b1" stroke-width="1.2" stroke-linejoin="miter"/>
<path d="M353.1 263.2L357.6 275.4H348.6Z" fill="#7b95d1" stroke="#4165b1" stroke-width="1.2" stroke-linejoin="miter"/>
<ellipse cx="379.0" cy="269.6" rx="4.25" ry="5.45" fill="#7b95d1" stroke="#4165b1" stroke-width="1.5"/>
<ellipse cx="323.4" cy="268.9" rx="4.25" ry="5.45" fill="#7b95d1" stroke="#4165b1" stroke-width="1.5"/>
<path d="M403.4 263.5L407.9 275.7H398.9Z" fill="#7b95d1" stroke="#4165b1" stroke-width="1.2" stroke-linejoin="miter"/>
<path d="M381.9 263.9L386.4 276.1H377.4Z" fill="#7b95d1" stroke="#4165b1" stroke-width="1.2" stroke-linejoin="miter"/>
<ellipse cx="319.5" cy="269.5" rx="4.25" ry="5.45" fill="#7b95d1" stroke="#4165b1" stroke-width="1.5"/>
<path d="M375.9 262.9L380.4 275.1H371.4Z" fill="#7b95d1" stroke="#4165b1" stroke-width="1.2" stroke-linejoin="miter"/>
<ellipse cx="315.4" cy="265.8" rx="4.25" ry="5.45" fill="#7b95d1" stroke="#4165b1" stroke-width="1.5"/>
<ellipse cx="390.4" cy="265.1" rx="4.25" ry="5.45" fill="#7b95d1" stroke="#4165b1" stroke-width="1.5"/>
<path d="M364.5 259.5L369.0 271.7H360.0Z" fill="#7b95d1" stroke="#4165b1" stroke-width="1.2" stroke-linejoin="miter"/>
<ellipse cx="355.9" cy="265.4" rx="4.25" ry="5.45" fill="#7b95d1" stroke="#4165b1" stroke-width="1.5"/>
<ellipse cx="362.3" cy="265.0" rx="4.25" ry="5.45" fill="#7b95d1" stroke="#4165b1" stroke-width="1.5"/>
<path d="M331.1 258.7L335.6 270.9H326.6Z" fill="#7b95d1" stroke="#4165b1" stroke-width="1.2" stroke-linejoin="miter"/>
<ellipse cx="306.8" cy="261.3" rx="4.25" ry="5.45" fill="#7b95d1" stroke="#4165b1" stroke-width="1.5"/>
<ellipse cx="370.1" cy="261.1" rx="4.25" ry="5.45" fill="#7b95d1" stroke="#4165b1" stroke-width="1.5"/>
<path d="M436.7 255.7L441.2 267.9H432.2Z" fill="#7b95d1" stroke="#4165b1" stroke-width="1.2" stroke-linejoin="miter"/>
<path d="M388.1 254.6L392.6 266.8H383.6Z" fill="#7b95d1" stroke="#4165b1" stroke-width="1.2" stroke-linejoin="miter"/>
<ellipse cx="386.3" cy="261.3" rx="4.25" ry="5.45" fill="#7b95d1" stroke="#4165b1" stroke-width="1.5"/>
<path d="M364.8 254.8L369.3 267.0H360.3Z" fill="#7b95d1" stroke="#4165b1" stroke-width="1.2" stroke-linejoin="miter"/>
<path d="M379.3 254.5L383.8 266.7H374.8Z" fill="#7b95d1" stroke="#4165b1" stroke-width="1.2" stroke-linejoin="miter"/>
<ellipse cx="348.0" cy="261.4" rx="4.25" ry="5.45" fill="#7b95d1" stroke="#4165b1" stroke-width="1.5"/>
<path d="M329.7 255.0L334.2 267.2H325.2Z" fill="#7b95d1" stroke="#4165b1" stroke-width="1.2" stroke-linejoin="miter"/>
<ellipse cx="331.8" cy="260.8" rx="4.25" ry="5.45" fill="#7b95d1" stroke="#4165b1" stroke-width="1.5"/>
<ellipse cx="376.1" cy="261.6" rx="4.25" ry="5.45" fill="#7b95d1" stroke="#4165b1" stroke-width="1.5"/>
<ellipse cx="350.7" cy="261.2" rx="4.25" ry="5.45" fill="#7b95d1" stroke="#4165b1" stroke-width="1.5"/>
<ellipse cx="319.4" cy="261.3" rx="4.25" ry="5.45" fill="#7b95d1" stroke="#4165b1" stroke-width="1.5"/>
<path d="M368.1 255.2L372.6 267.4H363.6Z" fill="#7b95d1" stroke="#4165b1" stroke-width="1.2" stroke-linejoin="miter"/>
<ellipse cx="353.2" cy="261.6" rx="4.25" ry="5.45" fill="#7b95d1" stroke="#4165b1" stroke-width="1.5"/>
<path d="M404.1 254.6L408.6 266.8H399.6Z" fill="#7b95d1" stroke="#4165b1" stroke-width="1.2" stroke-linejoin="miter"/>
<ellipse cx="405.2" cy="261.6" rx="4.25" ry="5.45" fill="#7b95d1" stroke="#4165b1" stroke-width="1.5"/>
<ellipse cx="372.7" cy="261.7" rx="4.25" ry="5.45" fill="#7b95d1" stroke="#4165b1" stroke-width="1.5"/>
<ellipse cx="414.2" cy="261.5" rx="4.25" ry="5.45" fill="#7b95d1" stroke="#4165b1" stroke-width="1.5"/>
<ellipse cx="367.9" cy="261.3" rx="4.25" ry="5.45" fill="#7b95d1" stroke="#4165b1" stroke-width="1.5"/>
<ellipse cx="399.6" cy="261.4" rx="4.25" ry="5.45" fill="#7b95d1" stroke="#4165b1" stroke-width="1.5"/>
<path d="M403.4 255.2L407.9 267.4H398.9Z" fill="#7b95d1" stroke="#4165b1" stroke-width="1.2" stroke-linejoin="miter"/>
<ellipse cx="430.3" cy="261.5" rx="4.25" ry="5.45" fill="#7b95d1" stroke="#4165b1" stroke-width="1.5"/>
<path d="M332.7 255.3L337.2 267.5H328.2Z" fill="#7b95d1" stroke="#4165b1" stroke-width="1.2" stroke-linejoin="miter"/>
<ellipse cx="304.6" cy="261.5" rx="4.25" ry="5.45" fill="#7b95d1" stroke="#4165b1" stroke-width="1.5"/>
<ellipse cx="405.3" cy="261.3" rx="4.25" ry="5.45" fill="#7b95d1" stroke="#4165b1" stroke-width="1.5"/>
<ellipse cx="303.1" cy="261.7" rx="4.25" ry="5.45" fill="#7b95d1" stroke="#4165b1" stroke-width="1.5"/>
<ellipse cx="326.8" cy="261.1" rx="4.25" ry="5.45" fill="#7b95d1" stroke="#4165b1" stroke-width="1.5"/>
<ellipse cx="381.7" cy="260.6" rx="4.25" ry="5.45" fill="#7b95d1" stroke="#4165b1" stroke-width="1.5"/>
<path d="M345.4 254.7L349.9 266.9H340.9Z" fill="#7b95d1" stroke="#4165b1" stroke-width="1.2" stroke-linejoin="miter"/>
<path d="M332.7 254.9L337.2 267.1H328.2Z" fill="#7b95d1" stroke="#4165b1" stroke-width="1.2" stroke-linejoin="miter"/>
<path d="M396.7 255.5L401.2 267.7H392.2Z" fill="#7b95d1" stroke="#4165b1" stroke-width="1.2" stroke-linejoin="miter"/>
<ellipse cx="286.3" cy="260.8" rx="4.25" ry="5.45" fill="#7b95d1" stroke="#4165b1" stroke-width="1.5"/>
<path d="M333.4 255.4L337.9 267.6H328.9Z" fill="#7b95d1" stroke="#4165b1" stroke-width="1.2" stroke-linejoin="miter"/>
<path d="M392.4 255.0L396.9 267.2H387.9Z" fill="#7b95d1" stroke="#4165b1" stroke-width="1.2" stroke-linejoin="miter"/>
<ellipse cx="425.6" cy="261.6" rx="4.25" ry="5.45" fill="#7b95d1" stroke="#4165b1" stroke-width="1.5"/>
<ellipse cx="399.5" cy="261.0" rx="4.25" ry="5.45" fill="#7b95d1" stroke="#4165b1" stroke-width="1.5"/>
<path d="M329.6 255.2L334.1 267.4H325.1Z" fill="#7b95d1" stroke="#4165b1" stroke-width="1.2" stroke-linejoin="miter"/>
<ellipse cx="381.5" cy="261.3" rx="4.25" ry="5.45" fill="#7b95d1" stroke="#4165b1" stroke-width="1.5"/>
<ellipse cx="394.8" cy="260.6" rx="4.25" ry="5.45" fill="#7b95d1" stroke="#4165b1" stroke-width="1.5"/>
<ellipse cx="340.1" cy="261.1" rx="4.25" ry="5.45" fill="#7b95d1" stroke="#4165b1" stroke-width="1.5"/>
<ellipse cx="291.6" cy="261.4" rx="4.25" ry="5.45" fill="#7b95d1" stroke="#4165b1" stroke-width="1.5"/>
<ellipse cx="358.8" cy="261.3" rx="4.25" ry="5.45" fill="#7b95d1" stroke="#4165b1" stroke-width="1.5"/>
<path d="M406.9 255.7L411.4 267.9H402.4Z" fill="#7b95d1" stroke="#4165b1" stroke-width="1.2" stroke-linejoin="miter"/>
<path d="M307.6 255.4L312.1 267.6H303.1Z" fill="#7b95d1" stroke="#4165b1" stroke-width="1.2" stroke-linejoin="miter"/>
<ellipse cx="390.6" cy="260.9" rx="4.25" ry="5.45" fill="#7b95d1" stroke="#4165b1" stroke-width="1.5"/>
<path d="M430.6 255.3L435.1 267.5H426.1Z" fill="#7b95d1" stroke="#4165b1" stroke-width="1.2" stroke-linejoin="miter"/>
<path d="M342.0 255.4L346.5 267.6H337.5Z" fill="#7b95d1" stroke="#4165b1" stroke-width="1.2" stroke-linejoin="miter"/>
<path d="M342.9 255.0L347.4 267.2H338.4Z" fill="#7b95d1" stroke="#4165b1" stroke-width="1.2" stroke-linejoin="miter"/>
<ellipse cx="339.9" cy="261.0" rx="4.25" ry="5.45" fill="#7b95d1" stroke="#4165b1" stroke-width="1.5"/>
<ellipse cx="364.9" cy="260.9" rx="4.25" ry="5.45" fill="#7b95d1" stroke="#4165b1" stroke-width="1.5"/>
<ellipse cx="353.7" cy="261.6" rx="4.25" ry="5.45" fill="#7b95d1" stroke="#4165b1" stroke-width="1.5"/>
<ellipse cx="380.8" cy="261.3" rx="4.25" ry="5.45" fill="#7b95d1" stroke="#4165b1" stroke-width="1.5"/>
<ellipse cx="371.5" cy="261.0" rx="4.25" ry="5.45" fill="#7b95d1" stroke="#4165b1" stroke-width="1.5"/>
<path d="M376.6 254.9L381.1 267.1H372.1Z" fill="#7b95d1" stroke="#4165b1" stroke-width="1.2" stroke-linejoin="miter"/>
<ellipse cx="382.0" cy="260.8" rx="4.25" ry="5.45" fill="#7b95d1" stroke="#4165b1" stroke-width="1.5"/>
<ellipse cx="449.9" cy="261.5" rx="4.25" ry="5.45" fill="#7b95d1" stroke="#4165b1" stroke-width="1.5"/>
<path d="M376.6 254.6L381.1 266.8H372.1Z" fill="#7b95d1" stroke="#4165b1" stroke-width="1.2" stroke-linejoin="miter"/>
<ellipse cx="388.3" cy="260.6" rx="4.25" ry="5.45" fill="#7b95d1" stroke="#4165b1" stroke-width="1.5"/>
<ellipse cx="347.9" cy="261.4" rx="4.25" ry="5.45" fill="#7b95d1" stroke="#4165b1" stroke-width="1.5"/>
<path d="M345.6 255.5L350.1 267.7H341.1Z" fill="#7b95d1" stroke="#4165b1" stroke-width="1.2" stroke-linejoin="miter"/>
<path d="M317.0 255.6L321.5 267.8H312.5Z" fill="#7b95d1" stroke="#4165b1" stroke-width="1.2" stroke-linejoin="miter"/>
<path d="M373.8 254.6L378.3 266.8H369.3Z" fill="#7b95d1" stroke="#4165b1" stroke-width="1.2" stroke-linejoin="miter"/>
<ellipse cx="384.4" cy="260.7" rx="4.25" ry="5.45" fill="#7b95d1" stroke="#4165b1" stroke-width="1.5"/>
<ellipse cx="305.0" cy="261.2" rx="4.25" ry="5.45" fill="#7b95d1" stroke="#4165b1" stroke-width="1.5"/>
<path d="M392.4 254.7L396.9 266.9H387.9Z" fill="#7b95d1" stroke="#4165b1" stroke-width="1.2" stroke-linejoin="miter"/>
<ellipse cx="331.8" cy="261.5" rx="4.25" ry="5.45" fill="#7b95d1" stroke="#4165b1" stroke-width="1.5"/>
<path d="M343.9 254.9L348.4 267.1H339.4Z" fill="#7b95d1" stroke="#4165b1" stroke-width="1.2" stroke-linejoin="miter"/>
<ellipse cx="337.4" cy="261.1" rx="4.25" ry="5.45" fill="#7b95d1" stroke="#4165b1" stroke-width="1.5"/>
<ellipse cx="402.4" cy="261.2" rx="4.25" ry="5.45" fill="#7b95d1" stroke="#4165b1" stroke-width="1.5"/>
<path d="M373.9 254.8L378.4 267.0H369.4Z" fill="#7b95d1" stroke="#4165b1" stroke-width="1.2" stroke-linejoin="miter"/>
<path d="M357.2 255.2L361.7 267.4H352.7Z" fill="#7b95d1" stroke="#4165b1" stroke-width="1.2" stroke-linejoin="miter"/>
<path d="M363.1 254.5L367.6 266.7H358.6Z" fill="#7b95d1" stroke="#4165b1" stroke-width="1.2" stroke-linejoin="miter"/>
<ellipse cx="325.7" cy="260.7" rx="4.25" ry="5.45" fill="#7b95d1" stroke="#4165b1" stroke-width="1.5"/>
<ellipse cx="330.4" cy="260.8" rx="4.25" ry="5.45" fill="#7b95d1" stroke="#4165b1" stroke-width="1.5"/>
<path d="M363.4 255.0L367.9 267.2H358.9Z" fill="#7b95d1" stroke="#4165b1" stroke-width="1.2" stroke-linejoin="miter"/>
<path d="M349.1 255.2L353.6 267.4H344.6Z" fill="#7b95d1" stroke="#4165b1" stroke-width="1.2" stroke-linejoin="miter"/>
<path d="M320.7 254.9L325.2 267.1H316.2Z" fill="#7b95d1" stroke="#4165b1" stroke-width="1.2" stroke-linejoin="miter"/>
<path d="M347.1 254.8L351.6 267.0H342.6Z" fill="#7b95d1" stroke="#4165b1" stroke-width="1.2" stroke-linejoin="miter"/>
<path d="M349.8 254.9L354.3 267.1H345.3Z" fill="#7b95d1" stroke="#4165b1" stroke-width="1.2" stroke-linejoin="miter"/>
<path d="M312.6 255.7L317.1 267.9H308.1Z" fill="#7b95d1" stroke="#4165b1" stroke-width="1.2" stroke-linejoin="miter"/>
<path d="M338.8 255.6L343.3 267.8H334.3Z" fill="#7b95d1" stroke="#4165b1" stroke-width="1.2" stroke-linejoin="miter"/>
<ellipse cx="369.0" cy="260.6" rx="4.25" ry="5.45" fill="#7b95d1" stroke="#4165b1" stroke-width="1.5"/>
<path d="M318.7 254.9L323.2 267.1H314.2Z" fill="#7b95d1" stroke="#4165b1" stroke-width="1.2" stroke-linejoin="miter"/>
<path d="M368.6 254.8L373.1 267.0H364.1Z" fill="#7b95d1" stroke="#4165b1" stroke-width="1.2" stroke-linejoin="miter"/>
<ellipse cx="362.5" cy="260.7" rx="4.25" ry="5.45" fill="#7b95d1" stroke="#4165b1" stroke-width="1.5"/>
<ellipse cx="349.0" cy="261.2" rx="4.25" ry="5.45" fill="#7b95d1" stroke="#4165b1" stroke-width="1.5"/>
<path d="M344.1 254.9L348.6 267.1H339.6Z" fill="#7b95d1" stroke="#4165b1" stroke-width="1.2" stroke-linejoin="miter"/>
<ellipse cx="355.5" cy="260.8" rx="4.25" ry="5.45" fill="#7b95d1" stroke="#4165b1" stroke-width="1.5"/>
<ellipse cx="356.8" cy="260.6" rx="4.25" ry="5.45" fill="#7b95d1" stroke="#4165b1" stroke-width="1.5"/>
<path d="M365.9 255.1L370.4 267.3H361.4Z" fill="#7b95d1" stroke="#4165b1" stroke-width="1.2" stroke-linejoin="miter"/>
<path d="M340.0 254.9L344.5 267.1H335.5Z" fill="#7b95d1" stroke="#4165b1" stroke-width="1.2" stroke-linejoin="miter"/>
<ellipse cx="372.4" cy="261.7" rx="4.25" ry="5.45" fill="#7b95d1" stroke="#4165b1" stroke-width="1.5"/>
<ellipse cx="330.4" cy="261.5" rx="4.25" ry="5.45" fill="#7b95d1" stroke="#4165b1" stroke-width="1.5"/>
<ellipse cx="401.6" cy="261.6" rx="4.25" ry="5.45" fill="#7b95d1" stroke="#4165b1" stroke-width="1.5"/>
<ellipse cx="379.3" cy="261.3" rx="4.25" ry="5.45" fill="#7b95d1" stroke="#4165b1" stroke-width="1.5"/>
<path d="M305.2 255.2L309.7 267.4H300.7Z" fill="#7b95d1" stroke="#4165b1" stroke-width="1.2" stroke-linejoin="miter"/>
<ellipse cx="398.1" cy="260.9" rx="4.25" ry="5.45" fill="#7b95d1" stroke="#4165b1" stroke-width="1.5"/>
<ellipse cx="359.5" cy="260.8" rx="4.25" ry="5.45" fill="#7b95d1" stroke="#4165b1" stroke-width="1.5"/>
<ellipse cx="389.6" cy="258.0" rx="4.25" ry="5.45" fill="#7b95d1" stroke="#4165b1" stroke-width="1.5"/>
<path d="M403.3 250.9L407.8 263.1H398.8Z" fill="#7b95d1" stroke="#4165b1" stroke-width="1.2" stroke-linejoin="miter"/>
<ellipse cx="424.7" cy="257.7" rx="4.25" ry="5.45" fill="#7b95d1" stroke="#4165b1" stroke-width="1.5"/>
<ellipse cx="333.8" cy="257.4" rx="4.25" ry="5.45" fill="#7b95d1" stroke="#4165b1" stroke-width="1.5"/>
<path d="M315.0 251.4L319.5 263.6H310.5Z" fill="#7b95d1" stroke="#4165b1" stroke-width="1.2" stroke-linejoin="miter"/>
<ellipse cx="299.5" cy="254.3" rx="4.25" ry="5.45" fill="#7b95d1" stroke="#4165b1" stroke-width="1.5"/>
<path d="M329.4 248.2L333.9 260.4H324.9Z" fill="#7b95d1" stroke="#4165b1" stroke-width="1.2" stroke-linejoin="miter"/>
<ellipse cx="441.7" cy="253.3" rx="4.25" ry="5.45" fill="#7b95d1" stroke="#4165b1" stroke-width="1.5"/>
<path d="M369.9 247.3L374.4 259.5H365.4Z" fill="#7b95d1" stroke="#4165b1" stroke-width="1.2" stroke-linejoin="miter"/>
<ellipse cx="302.0" cy="254.1" rx="4.25" ry="5.45" fill="#7b95d1" stroke="#4165b1" stroke-width="1.5"/>
<ellipse cx="364.2" cy="254.4" rx="4.25" ry="5.45" fill="#7b95d1" stroke="#4165b1" stroke-width="1.5"/>
<path d="M430.6 247.2L435.1 259.4H426.1Z" fill="#7b95d1" stroke="#4165b1" stroke-width="1.2" stroke-linejoin="miter"/>
<ellipse cx="379.4" cy="253.9" rx="4.25" ry="5.45" fill="#7b95d1" stroke="#4165b1" stroke-width="1.5"/>
<ellipse cx="311.9" cy="253.4" rx="4.25" ry="5.45" fill="#7b95d1" stroke="#4165b1" stroke-width="1.5"/>
<path d="M396.4 247.3L400.9 259.5H391.9Z" fill="#7b95d1" stroke="#4165b1" stroke-width="1.2" stroke-linejoin="miter"/>
<ellipse cx="363.2" cy="253.8" rx="4.25" ry="5.45" fill="#7b95d1" stroke="#4165b1" stroke-width="1.5"/>
<path d="M357.0 247.8L361.5 260.0H352.5Z" fill="#7b95d1" stroke="#4165b1" stroke-width="1.2" stroke-linejoin="miter"/>
<ellipse cx="346.3" cy="253.9" rx="4.25" ry="5.45" fill="#7b95d1" stroke="#4165b1" stroke-width="1.5"/>
<ellipse cx="343.3" cy="254.4" rx="4.25" ry="5.45" fill="#7b95d1" stroke="#4165b1" stroke-width="1.5"/>
<ellipse cx="405.9" cy="253.5" rx="4.25" ry="5.45" fill="#7b95d1" stroke="#4165b1" stroke-width="1.5"/>
<path d="M374.7 247.6L379.2 259.8H370.2Z" fill="#7b95d1" stroke="#4165b1" stroke-width="1.2" stroke-linejoin="miter"/>
<ellipse cx="345.5" cy="254.1" rx="4.25" ry="5.45" fill="#7b95d1" stroke="#4165b1" stroke-width="1.5"/>
<path d="M375.2 248.0L379.7 260.2H370.7Z" fill="#7b95d1" stroke="#4165b1" stroke-width="1.2" stroke-linejoin="miter"/>
<path d="M429.3 247.6L433.8 259.8H424.8Z" fill="#7b95d1" stroke="#4165b1" stroke-width="1.2" stroke-linejoin="miter"/>
<ellipse cx="369.5" cy="254.4" rx="4.25" ry="5.45" fill="#7b95d1" stroke="#4165b1" stroke-width="1.5"/>
<ellipse cx="337.2" cy="254.5" rx="4.25" ry="5.45" fill="#7b95d1" stroke="#4165b1" stroke-width="1.5"/>
<path d="M389.4 248.3L393.9 260.5H384.9Z" fill="#7b95d1" stroke="#4165b1" stroke-width="1.2" stroke-linejoin="miter"/>
<ellipse cx="338.1" cy="253.5" rx="4.25" ry="5.45" fill="#7b95d1" stroke="#4165b1" stroke-width="1.5"/>
<path d="M342.5 248.1L347.0 260.3H338.0Z" fill="#7b95d1" stroke="#4165b1" stroke-width="1.2" stroke-linejoin="miter"/>
<path d="M294.1 247.5L298.6 259.7H289.6Z" fill="#7b95d1" stroke="#4165b1" stroke-width="1.2" stroke-linejoin="miter"/>
<ellipse cx="376.0" cy="254.4" rx="4.25" ry="5.45" fill="#7b95d1" stroke="#4165b1" stroke-width="1.5"/>
<path d="M363.3 247.9L367.8 260.1H358.8Z" fill="#7b95d1" stroke="#4165b1" stroke-width="1.2" stroke-linejoin="miter"/>
<path d="M324.4 248.0L328.9 260.2H319.9Z" fill="#7b95d1" stroke="#4165b1" stroke-width="1.2" stroke-linejoin="miter"/>
<path d="M294.5 247.6L299.0 259.8H290.0Z" fill="#7b95d1" stroke="#4165b1" stroke-width="1.2" stroke-linejoin="miter"/>
<ellipse cx="323.9" cy="254.0" rx="4.25" ry="5.45" fill="#7b95d1" stroke="#4165b1" stroke-width="1.5"/>
<ellipse cx="329.8" cy="254.0" rx="4.25" ry="5.45" fill="#7b95d1" stroke="#4165b1" stroke-width="1.5"/>
<path d="M399.2 247.8L403.7 260.0H394.7Z" fill="#7b95d1" stroke="#4165b1" stroke-width="1.2" stroke-linejoin="miter"/>
<ellipse cx="342.9" cy="253.4" rx="4.25" ry="5.45" fill="#7b95d1" stroke="#4165b1" stroke-width="1.5"/>
<path d="M372.7 247.8L377.2 260.0H368.2Z" fill="#7b95d1" stroke="#4165b1" stroke-width="1.2" stroke-linejoin="miter"/>
<ellipse cx="325.1" cy="254.2" rx="4.25" ry="5.45" fill="#7b95d1" stroke="#4165b1" stroke-width="1.5"/>
<path d="M322.2 248.2L326.7 260.4H317.7Z" fill="#7b95d1" stroke="#4165b1" stroke-width="1.2" stroke-linejoin="miter"/>
<ellipse cx="312.9" cy="254.3" rx="4.25" ry="5.45" fill="#7b95d1" stroke="#4165b1" stroke-width="1.5"/>
<ellipse cx="306.2" cy="253.6" rx="4.25" ry="5.45" fill="#7b95d1" stroke="#4165b1" stroke-width="1.5"/>
<path d="M324.7 247.7L329.2 259.9H320.2Z" fill="#7b95d1" stroke="#4165b1" stroke-width="1.2" stroke-linejoin="miter"/>
<ellipse cx="415.9" cy="254.5" rx="4.25" ry="5.45" fill="#7b95d1" stroke="#4165b1" stroke-width="1.5"/>
<ellipse cx="359.7" cy="254.2" rx="4.25" ry="5.45" fill="#7b95d1" stroke="#4165b1" stroke-width="1.5"/>
<path d="M310.6 247.6L315.1 259.8H306.1Z" fill="#7b95d1" stroke="#4165b1" stroke-width="1.2" stroke-linejoin="miter"/>
<ellipse cx="367.7" cy="253.7" rx="4.25" ry="5.45" fill="#7b95d1" stroke="#4165b1" stroke-width="1.5"/>
<ellipse cx="399.5" cy="253.9" rx="4.25" ry="5.45" fill="#7b95d1" stroke="#4165b1" stroke-width="1.5"/>
<ellipse cx="389.9" cy="253.6" rx="4.25" ry="5.45" fill="#7b95d1" stroke="#4165b1" stroke-width="1.5"/>
<path d="M416.6 247.3L421.1 259.5H412.1Z" fill="#7b95d1" stroke="#4165b1" stroke-width="1.2" stroke-linejoin="miter"/>
<ellipse cx="426.9" cy="253.8" rx="4.25" ry="5.45" fill="#7b95d1" stroke="#4165b1" stroke-width="1.5"/>
<ellipse cx="387.3" cy="253.3" rx="4.25" ry="5.45" fill="#7b95d1" stroke="#4165b1" stroke-width="1.5"/>
<ellipse cx="326.8" cy="253.7" rx="4.25" ry="5.45" fill="#7b95d1" stroke="#4165b1" stroke-width="1.5"/>
<ellipse cx="419.0" cy="253.7" rx="4.25" ry="5.45" fill="#7b95d1" stroke="#4165b1" stroke-width="1.5"/>
<path d="M397.1 248.3L401.6 260.5H392.6Z" fill="#7b95d1" stroke="#4165b1" stroke-width="1.2" stroke-linejoin="miter"/>
<path d="M390.7 247.6L395.2 259.8H386.2Z" fill="#7b95d1" stroke="#4165b1" stroke-width="1.2" stroke-linejoin="miter"/>
<ellipse cx="348.4" cy="254.2" rx="4.25" ry="5.45" fill="#7b95d1" stroke="#4165b1" stroke-width="1.5"/>
<ellipse cx="338.9" cy="253.9" rx="4.25" ry="5.45" fill="#7b95d1" stroke="#4165b1" stroke-width="1.5"/>
<path d="M297.5 247.2L302.0 259.4H293.0Z" fill="#7b95d1" stroke="#4165b1" stroke-width="1.2" stroke-linejoin="miter"/>
<path d="M363.4 247.7L367.9 259.9H358.9Z" fill="#7b95d1" stroke="#4165b1" stroke-width="1.2" stroke-linejoin="miter"/>
<ellipse cx="306.2" cy="253.8" rx="4.25" ry="5.45" fill="#7b95d1" stroke="#4165b1" stroke-width="1.5"/>
<path d="M375.5 247.7L380.0 259.9H371.0Z" fill="#7b95d1" stroke="#4165b1" stroke-width="1.2" stroke-linejoin="miter"/>
<path d="M326.1 248.0L330.6 260.2H321.6Z" fill="#7b95d1" stroke="#4165b1" stroke-width="1.2" stroke-linejoin="miter"/>
<path d="M364.0 247.6L368.5 259.8H359.5Z" fill="#7b95d1" stroke="#4165b1" stroke-width="1.2" stroke-linejoin="miter"/>
<path d="M405.8 248.1L410.3 260.3H401.3Z" fill="#7b95d1" stroke="#4165b1" stroke-width="1.2" stroke-linejoin="miter"/>
<path d="M373.4 247.3L377.9 259.5H368.9Z" fill="#7b95d1" stroke="#4165b1" stroke-width="1.2" stroke-linejoin="miter"/>
<path d="M364.2 247.3L368.7 259.5H359.7Z" fill="#7b95d1" stroke="#4165b1" stroke-width="1.2" stroke-linejoin="miter"/>
<ellipse cx="373.8" cy="254.2" rx="4.25" ry="5.45" fill="#7b95d1" stroke="#4165b1" stroke-width="1.5"/>
<path d="M352.7 248.0L357.2 260.2H348.2Z" fill="#7b95d1" stroke="#4165b1" stroke-width="1.2" stroke-linejoin="miter"/>
<ellipse cx="358.0" cy="253.3" rx="4.25" ry="5.45" fill="#7b95d1" stroke="#4165b1" stroke-width="1.5"/>
<path d="M350.7 248.4L355.2 260.6H346.2Z" fill="#7b95d1" stroke="#4165b1" stroke-width="1.2" stroke-linejoin="miter"/>
<path d="M332.9 248.2L337.4 260.4H328.4Z" fill="#7b95d1" stroke="#4165b1" stroke-width="1.2" stroke-linejoin="miter"/>
<path d="M378.5 247.2L383.0 259.4H374.0Z" fill="#7b95d1" stroke="#4165b1" stroke-width="1.2" stroke-linejoin="miter"/>
<path d="M383.4 247.5L387.9 259.7H378.9Z" fill="#7b95d1" stroke="#4165b1" stroke-width="1.2" stroke-linejoin="miter"/>
<ellipse cx="360.0" cy="254.3" rx="4.25" ry="5.45" fill="#7b95d1" stroke="#4165b1" stroke-width="1.5"/>
<path d="M387.9 247.8L392.4 260.0H383.4Z" fill="#7b95d1" stroke="#4165b1" stroke-width="1.2" stroke-linejoin="miter"/>
<ellipse cx="296.2" cy="247.7" rx="4.25" ry="5.45" fill="#7b95d1" stroke="#4165b1" stroke-width="1.5"/>
<ellipse cx="425.1" cy="246.9" rx="4.25" ry="5.45" fill="#7b95d1" stroke="#4165b1" stroke-width="1.5"/>
<ellipse cx="331.1" cy="247.3" rx="4.25" ry="5.45" fill="#7b95d1" stroke="#4165b1" stroke-width="1.5"/>
<path d="M346.5 240.8L351.0 253.0H342.0Z" fill="#7b95d1" stroke="#4165b1" stroke-width="1.2" stroke-linejoin="miter"/>
<ellipse cx="377.0" cy="247.1" rx="4.25" ry="5.45" fill="#7b95d1" stroke="#4165b1" stroke-width="1.5"/>
<path d="M353.4 241.0L357.9 253.2H348.9Z" fill="#7b95d1" stroke="#4165b1" stroke-width="1.2" stroke-linejoin="miter"/>
<ellipse cx="415.4" cy="247.6" rx="4.25" ry="5.45" fill="#7b95d1" stroke="#4165b1" stroke-width="1.5"/>
<ellipse cx="382.7" cy="247.8" rx="4.25" ry="5.45" fill="#7b95d1" stroke="#4165b1" stroke-width="1.5"/>
<ellipse cx="428.5" cy="247.2" rx="4.25" ry="5.45" fill="#7b95d1" stroke="#4165b1" stroke-width="1.5"/>
<path d="M295.8 240.7L300.3 252.9H291.3Z" fill="#7b95d1" stroke="#4165b1" stroke-width="1.2" stroke-linejoin="miter"/>
<path d="M316.8 241.3L321.3 253.5H312.3Z" fill="#7b95d1" stroke="#4165b1" stroke-width="1.2" stroke-linejoin="miter"/>
<path d="M367.7 241.4L372.2 253.6H363.2Z" fill="#7b95d1" stroke="#4165b1" stroke-width="1.2" stroke-linejoin="miter"/>
<path d="M321.8 240.8L326.3 253.0H317.3Z" fill="#7b95d1" stroke="#4165b1" stroke-width="1.2" stroke-linejoin="miter"/>
<ellipse cx="321.1" cy="246.8" rx="4.25" ry="5.45" fill="#7b95d1" stroke="#4165b1" stroke-width="1.5"/>
<ellipse cx="440.1" cy="247.5" rx="4.25" ry="5.45" fill="#7b95d1" stroke="#4165b1" stroke-width="1.5"/>
<path d="M432.9 240.8L437.4 253.0H428.4Z" fill="#7b95d1" stroke="#4165b1" stroke-width="1.2" stroke-linejoin="miter"/>
<path d="M357.0 240.7L361.5 252.9H352.5Z" fill="#7b95d1" stroke="#4165b1" stroke-width="1.2" stroke-linejoin="miter"/>
<ellipse cx="335.0" cy="247.4" rx="4.25" ry="5.45" fill="#7b95d1" stroke="#4165b1" stroke-width="1.5"/>
<ellipse cx="377.7" cy="247.8" rx="4.25" ry="5.45" fill="#7b95d1" stroke="#4165b1" stroke-width="1.5"/>
<ellipse cx="422.6" cy="247.7" rx="4.25" ry="5.45" fill="#7b95d1" stroke="#4165b1" stroke-width="1.5"/>
<ellipse cx="350.6" cy="247.2" rx="4.25" ry="5.45" fill="#7b95d1" stroke="#4165b1" stroke-width="1.5"/>
<path d="M323.7 240.7L328.2 252.9H319.2Z" fill="#7b95d1" stroke="#4165b1" stroke-width="1.2" stroke-linejoin="miter"/>
<ellipse cx="404.5" cy="247.5" rx="4.25" ry="5.45" fill="#7b95d1" stroke="#4165b1" stroke-width="1.5"/>
<path d="M373.7 241.8L378.2 254.0H369.2Z" fill="#7b95d1" stroke="#4165b1" stroke-width="1.2" stroke-linejoin="miter"/>
<ellipse cx="372.2" cy="247.1" rx="4.25" ry="5.45" fill="#7b95d1" stroke="#4165b1" stroke-width="1.5"/>
<path d="M367.4 240.7L371.9 252.9H362.9Z" fill="#7b95d1" stroke="#4165b1" stroke-width="1.2" stroke-linejoin="miter"/>
<path d="M426.2 241.2L430.7 253.4H421.7Z" fill="#7b95d1" stroke="#4165b1" stroke-width="1.2" stroke-linejoin="miter"/>
<ellipse cx="348.8" cy="247.0" rx="4.25" ry="5.45" fill="#7b95d1" stroke="#4165b1" stroke-width="1.5"/>
<ellipse cx="423.3" cy="247.8" rx="4.25" ry="5.45" fill="#7b95d1" stroke="#4165b1" stroke-width="1.5"/>
<ellipse cx="288.4" cy="247.8" rx="4.25" ry="5.45" fill="#7b95d1" stroke="#4165b1" stroke-width="1.5"/>
<ellipse cx="296.0" cy="247.2" rx="4.25" ry="5.45" fill="#7b95d1" stroke="#4165b1" stroke-width="1.5"/>
<path d="M310.2 240.8L314.7 253.0H305.7Z" fill="#7b95d1" stroke="#4165b1" stroke-width="1.2" stroke-linejoin="miter"/>
<ellipse cx="367.9" cy="247.4" rx="4.25" ry="5.45" fill="#7b95d1" stroke="#4165b1" stroke-width="1.5"/>
<ellipse cx="337.5" cy="247.4" rx="4.25" ry="5.45" fill="#7b95d1" stroke="#4165b1" stroke-width="1.5"/>
<ellipse cx="371.5" cy="246.7" rx="4.25" ry="5.45" fill="#7b95d1" stroke="#4165b1" stroke-width="1.5"/>
<path d="M322.8 240.7L327.3 252.9H318.3Z" fill="#7b95d1" stroke="#4165b1" stroke-width="1.2" stroke-linejoin="miter"/>
<path d="M352.4 241.0L356.9 253.2H347.9Z" fill="#7b95d1" stroke="#4165b1" stroke-width="1.2" stroke-linejoin="miter"/>
<ellipse cx="349.3" cy="247.5" rx="4.25" ry="5.45" fill="#7b95d1" stroke="#4165b1" stroke-width="1.5"/>
<path d="M371.4 241.0L375.9 253.2H366.9Z" fill="#7b95d1" stroke="#4165b1" stroke-width="1.2" stroke-linejoin="miter"/>
<path d="M377.7 241.6L382.2 253.8H373.2Z" fill="#7b95d1" stroke="#4165b1" stroke-width="1.2" stroke-linejoin="miter"/>
<ellipse cx="313.1" cy="241.8" rx="4.25" ry="5.45" fill="#7b95d1" stroke="#4165b1" stroke-width="1.5"/>
<ellipse cx="320.4" cy="241.3" rx="4.25" ry="5.45" fill="#7b95d1" stroke="#4165b1" stroke-width="1.5"/>
<path d="M366.1 235.3L370.6 247.5H361.6Z" fill="#7b95d1" stroke="#4165b1" stroke-width="1.2" stroke-linejoin="miter"/>
<ellipse cx="320.6" cy="241.0" rx="4.25" ry="5.45" fill="#7b95d1" stroke="#4165b1" stroke-width="1.5"/>
<path d="M369.6 235.7L374.1 247.9H365.1Z" fill="#7b95d1" stroke="#4165b1" stroke-width="1.2" stroke-linejoin="miter"/>
<path d="M437.8 235.3L442.3 247.5H433.3Z" fill="#7b95d1" stroke="#4165b1" stroke-width="1.2" stroke-linejoin="miter"/>
<path d="M378.4 234.9L382.9 247.1H373.9Z" fill="#7b95d1" stroke="#4165b1" stroke-width="1.2" stroke-linejoin="miter"/>
<ellipse cx="313.8" cy="240.8" rx="4.25" ry="5.45" fill="#7b95d1" stroke="#4165b1" stroke-width="1.5"/>
<ellipse cx="370.3" cy="241.8" rx="4.25" ry="5.45" fill="#7b95d1" stroke="#4165b1" stroke-width="1.5"/>
<path d="M341.9 235.6L346.4 247.8H337.4Z" fill="#7b95d1" stroke="#4165b1" stroke-width="1.2" stroke-linejoin="miter"/>
<ellipse cx="299.6" cy="241.5" rx="4.25" ry="5.45" fill="#7b95d1" stroke="#4165b1" stroke-width="1.5"/>
<path d="M296.4 235.5L300.9 247.7H291.9Z" fill="#7b95d1" stroke="#4165b1" stroke-width="1.2" stroke-linejoin="miter"/>
<path d="M343.0 235.2L347.5 247.4H338.5Z" fill="#7b95d1" stroke="#4165b1" stroke-width="1.2" stroke-linejoin="miter"/>
<path d="M291.7 235.2L296.2 247.4H287.2Z" fill="#7b95d1" stroke="#4165b1" stroke-width="1.2" stroke-linejoin="miter"/>
<ellipse cx="303.6" cy="241.7" rx="4.25" ry="5.45" fill="#7b95d1" stroke="#4165b1" stroke-width="1.5"/>
<ellipse cx="313.4" cy="240.9" rx="4.25" ry="5.45" fill="#7b95d1" stroke="#4165b1" stroke-width="1.5"/>
<ellipse cx="352.6" cy="241.2" rx="4.25" ry="5.45" fill="#7b95d1" stroke="#4165b1" stroke-width="1.5"/>
<path d="M444.6 235.2L449.1 247.4H440.1Z" fill="#7b95d1" stroke="#4165b1" stroke-width="1.2" stroke-linejoin="miter"/>
<path d="M410.8 235.6L415.3 247.8H406.3Z" fill="#7b95d1" stroke="#4165b1" stroke-width="1.2" stroke-linejoin="miter"/>
<path d="M320.9 235.7L325.4 247.9H316.4Z" fill="#7b95d1" stroke="#4165b1" stroke-width="1.2" stroke-linejoin="miter"/>
<path d="M304.3 235.1L308.8 247.3H299.8Z" fill="#7b95d1" stroke="#4165b1" stroke-width="1.2" stroke-linejoin="miter"/>
<path d="M417.6 229.4L422.1 241.6H413.1Z" fill="#7b95d1" stroke="#4165b1" stroke-width="1.2" stroke-linejoin="miter"/>
<path d="M432.6 230.2L437.1 242.4H428.1Z" fill="#7b95d1" stroke="#4165b1" stroke-width="1.2" stroke-linejoin="miter"/>
<path d="M412.3 229.8L416.8 242.0H407.8Z" fill="#7b95d1" stroke="#4165b1" stroke-width="1.2" stroke-linejoin="miter"/>
<path d="M409.7 229.6L414.2 241.8H405.2Z" fill="#7b95d1" stroke="#4165b1" stroke-width="1.2" stroke-linejoin="miter"/>
<path d="M371.8 229.4L376.3 241.6H367.3Z" fill="#7b95d1" stroke="#4165b1" stroke-width="1.2" stroke-linejoin="miter"/>
<ellipse cx="410.1" cy="236.4" rx="4.25" ry="5.45" fill="#7b95d1" stroke="#4165b1" stroke-width="1.5"/>
<ellipse cx="353.5" cy="235.9" rx="4.25" ry="5.45" fill="#7b95d1" stroke="#4165b1" stroke-width="1.5"/>
<path d="M368.6 230.1L373.1 242.3H364.1Z" fill="#7b95d1" stroke="#4165b1" stroke-width="1.2" stroke-linejoin="miter"/>
<path d="M409.6 230.1L414.1 242.3H405.1Z" fill="#7b95d1" stroke="#4165b1" stroke-width="1.2" stroke-linejoin="miter"/>
<ellipse cx="415.9" cy="235.5" rx="4.25" ry="5.45" fill="#7b95d1" stroke="#4165b1" stroke-width="1.5"/>
<ellipse cx="416.1" cy="231.1" rx="4.25" ry="5.45" fill="#7b95d1" stroke="#4165b1" stroke-width="1.5"/>
<ellipse cx="409.8" cy="231.0" rx="4.25" ry="5.45" fill="#7b95d1" stroke="#4165b1" stroke-width="1.5"/>
<ellipse cx="415.6" cy="231.1" rx="4.25" ry="5.45" fill="#7b95d1" stroke="#4165b1" stroke-width="1.5"/>
<ellipse cx="343.0" cy="230.8" rx="4.25" ry="5.45" fill="#7b95d1" stroke="#4165b1" stroke-width="1.5"/>
<ellipse cx="384.4" cy="230.5" rx="4.25" ry="5.45" fill="#7b95d1" stroke="#4165b1" stroke-width="1.5"/>
<ellipse cx="396.4" cy="231.2" rx="4.25" ry="5.45" fill="#7b95d1" stroke="#4165b1" stroke-width="1.5"/>
<path d="M313.1 219.7L317.6 231.9H308.6Z" fill="#7b95d1" stroke="#4165b1" stroke-width="1.2" stroke-linejoin="miter"/>
<ellipse cx="322.1" cy="226.9" rx="4.25" ry="5.45" fill="#7b95d1" stroke="#4165b1" stroke-width="1.5"/>
<path d="M330.5 216.1L335.0 228.3H326.0Z" fill="#7b95d1" stroke="#4165b1" stroke-width="1.2" stroke-linejoin="miter"/>
<ellipse cx="340.7" cy="199.2" rx="4.25" ry="5.45" fill="#7b95d1" stroke="#4165b1" stroke-width="1.5"/>
<ellipse cx="357.0" cy="199.0" rx="4.25" ry="5.45" fill="#7b95d1" stroke="#4165b1" stroke-width="1.5"/>
<path d="M383.5 204.9L388.0 217.1H379.0Z" fill="#7b95d1" stroke="#4165b1" stroke-width="1.2" stroke-linejoin="miter"/>
<path d="M391.0 206.9L395.5 219.1H386.5Z" fill="#7b95d1" stroke="#4165b1" stroke-width="1.2" stroke-linejoin="miter"/>
<path d="M403.0 208.3L407.5 220.5H398.5Z" fill="#7b95d1" stroke="#4165b1" stroke-width="1.2" stroke-linejoin="miter"/>
<path d="M410.0 207.2L414.5 219.4H405.5Z" fill="#7b95d1" stroke="#4165b1" stroke-width="1.2" stroke-linejoin="miter"/>
<path d="M417.0 205.9L421.5 218.1H412.5Z" fill="#7b95d1" stroke="#4165b1" stroke-width="1.2" stroke-linejoin="miter"/>
<ellipse cx="420.5" cy="215.6" rx="4.25" ry="5.45" fill="#7b95d1" stroke="#4165b1" stroke-width="1.5"/>
<ellipse cx="421.7" cy="221.5" rx="4.25" ry="5.45" fill="#7b95d1" stroke="#4165b1" stroke-width="1.5"/>
<ellipse cx="413.5" cy="221.5" rx="4.25" ry="5.45" fill="#7b95d1" stroke="#4165b1" stroke-width="1.5"/>
<path d="M336.0 207.2L340.5 219.4H331.5Z" fill="#7b95d1" stroke="#4165b1" stroke-width="1.2" stroke-linejoin="miter"/>
<path d="M337.2 211.9L341.7 224.1H332.7Z" fill="#7b95d1" stroke="#4165b1" stroke-width="1.2" stroke-linejoin="miter"/>
<path d="M349.0 210.7L353.5 222.9H344.5Z" fill="#7b95d1" stroke="#4165b1" stroke-width="1.2" stroke-linejoin="miter"/>
<path d="M356.0 211.9L360.5 224.1H351.5Z" fill="#7b95d1" stroke="#4165b1" stroke-width="1.2" stroke-linejoin="miter"/>
<ellipse cx="360.7" cy="216.8" rx="4.25" ry="5.45" fill="#7b95d1" stroke="#4165b1" stroke-width="1.5"/>
<path d="M364.2 211.9L368.7 224.1H359.7Z" fill="#7b95d1" stroke="#4165b1" stroke-width="1.2" stroke-linejoin="miter"/>
<path d="M309.0 211.9L313.5 224.1H304.5Z" fill="#7b95d1" stroke="#4165b1" stroke-width="1.2" stroke-linejoin="miter"/>
<path d="M302.7 214.2L307.2 226.4H298.2Z" fill="#7b95d1" stroke="#4165b1" stroke-width="1.2" stroke-linejoin="miter"/>
<path d="M295.7 218.9L300.2 231.1H291.2Z" fill="#7b95d1" stroke="#4165b1" stroke-width="1.2" stroke-linejoin="miter"/>
<ellipse cx="325.5" cy="221.5" rx="4.25" ry="5.45" fill="#7b95d1" stroke="#4165b1" stroke-width="1.5"/>
<path d="M322.0 219.6L326.5 231.8H317.5Z" fill="#7b95d1" stroke="#4165b1" stroke-width="1.2" stroke-linejoin="miter"/>
<ellipse cx="343.0" cy="225.7" rx="4.25" ry="5.45" fill="#7b95d1" stroke="#4165b1" stroke-width="1.5"/>
<path d="M377.8 211.9L382.3 224.1H373.3Z" fill="#7b95d1" stroke="#4165b1" stroke-width="1.2" stroke-linejoin="miter"/>
<path d="M386.5 220.1L391.0 232.3H382.0Z" fill="#7b95d1" stroke="#4165b1" stroke-width="1.2" stroke-linejoin="miter"/>
<ellipse cx="387.7" cy="225.7" rx="4.25" ry="5.45" fill="#7b95d1" stroke="#4165b1" stroke-width="1.5"/>
<path d="M397.0 211.9L401.5 224.1H392.5Z" fill="#7b95d1" stroke="#4165b1" stroke-width="1.2" stroke-linejoin="miter"/>
<ellipse cx="403.0" cy="225.7" rx="4.25" ry="5.45" fill="#7b95d1" stroke="#4165b1" stroke-width="1.5"/>
<ellipse cx="407.0" cy="226.5" rx="4.25" ry="5.45" fill="#7b95d1" stroke="#4165b1" stroke-width="1.5"/>
<ellipse cx="413.0" cy="228.5" rx="4.25" ry="5.45" fill="#7b95d1" stroke="#4165b1" stroke-width="1.5"/>
<path d="M356.0 224.8L360.5 237.0H351.5Z" fill="#7b95d1" stroke="#4165b1" stroke-width="1.2" stroke-linejoin="miter"/>
<path d="M370.8 222.4L375.3 234.6H366.3Z" fill="#7b95d1" stroke="#4165b1" stroke-width="1.2" stroke-linejoin="miter"/>
<path d="M330.0 223.9L334.5 236.1H325.5Z" fill="#7b95d1" stroke="#4165b1" stroke-width="1.2" stroke-linejoin="miter"/>
<ellipse cx="316.0" cy="232.0" rx="4.25" ry="5.45" fill="#7b95d1" stroke="#4165b1" stroke-width="1.5"/>
<path d="M345.0 226.9L349.5 239.1H340.5Z" fill="#7b95d1" stroke="#4165b1" stroke-width="1.2" stroke-linejoin="miter"/>
<ellipse cx="379.0" cy="232.0" rx="4.25" ry="5.45" fill="#7b95d1" stroke="#4165b1" stroke-width="1.5"/>
<path d="M394.0 224.9L398.5 237.1H389.5Z" fill="#7b95d1" stroke="#4165b1" stroke-width="1.2" stroke-linejoin="miter"/>
<ellipse cx="426.0" cy="231.0" rx="4.25" ry="5.45" fill="#7b95d1" stroke="#4165b1" stroke-width="1.5"/>
<path d="M430.0 219.9L434.5 232.1H425.5Z" fill="#7b95d1" stroke="#4165b1" stroke-width="1.2" stroke-linejoin="miter"/>
<path d="M300.0 225.9L304.5 238.1H295.5Z" fill="#7b95d1" stroke="#4165b1" stroke-width="1.2" stroke-linejoin="miter"/>
<ellipse cx="306.0" cy="236.0" rx="4.25" ry="5.45" fill="#7b95d1" stroke="#4165b1" stroke-width="1.5"/>
<path d="M312.0 228.9L316.5 241.1H307.5Z" fill="#7b95d1" stroke="#4165b1" stroke-width="1.2" stroke-linejoin="miter"/>
<path d="M338.0 229.9L342.5 242.1H333.5Z" fill="#7b95d1" stroke="#4165b1" stroke-width="1.2" stroke-linejoin="miter"/>
<ellipse cx="350.0" cy="237.0" rx="4.25" ry="5.45" fill="#7b95d1" stroke="#4165b1" stroke-width="1.5"/>
<ellipse cx="366.0" cy="236.0" rx="4.25" ry="5.45" fill="#7b95d1" stroke="#4165b1" stroke-width="1.5"/>
<path d="M374.0 230.9L378.5 243.1H369.5Z" fill="#7b95d1" stroke="#4165b1" stroke-width="1.2" stroke-linejoin="miter"/>
<ellipse cx="398.0" cy="236.0" rx="4.25" ry="5.45" fill="#7b95d1" stroke="#4165b1" stroke-width="1.5"/>
<path d="M408.0 228.9L412.5 241.1H403.5Z" fill="#7b95d1" stroke="#4165b1" stroke-width="1.2" stroke-linejoin="miter"/>
<path d="M418.0 230.9L422.5 243.1H413.5Z" fill="#7b95d1" stroke="#4165b1" stroke-width="1.2" stroke-linejoin="miter"/>
<ellipse cx="436.0" cy="236.0" rx="4.25" ry="5.45" fill="#7b95d1" stroke="#4165b1" stroke-width="1.5"/>
<ellipse cx="345.1" cy="70.6" rx="4.25" ry="5.45" fill="#7b95d1" stroke="#4165b1" stroke-width="1.5"/>
<ellipse cx="351.0" cy="104.3" rx="4.25" ry="5.45" fill="#7b95d1" stroke="#4165b1" stroke-width="1.5"/>
<path d="M368.0 117.1L372.5 129.3H363.5Z" fill="#7b95d1" stroke="#4165b1" stroke-width="1.2" stroke-linejoin="miter"/>
<ellipse cx="252.5" cy="149.4" rx="4.25" ry="5.45" fill="#7b95d1" stroke="#4165b1" stroke-width="1.5"/>
<path d="M323.0 135.4L327.5 147.6H318.5Z" fill="#7b95d1" stroke="#4165b1" stroke-width="1.2" stroke-linejoin="miter"/>
<path d="M316.4 150.9L320.9 163.1H311.9Z" fill="#7b95d1" stroke="#4165b1" stroke-width="1.2" stroke-linejoin="miter"/>
<path d="M330.0 171.9L334.5 184.1H325.5Z" fill="#7b95d1" stroke="#4165b1" stroke-width="1.2" stroke-linejoin="miter"/>
<path d="M293.0 188.4L297.5 200.6H288.5Z" fill="#7b95d1" stroke="#4165b1" stroke-width="1.2" stroke-linejoin="miter"/>
<path d="M300.3 191.4L304.8 203.6H295.8Z" fill="#7b95d1" stroke="#4165b1" stroke-width="1.2" stroke-linejoin="miter"/>
<path d="M302.5 193.9L307.0 206.1H298.0Z" fill="#7b95d1" stroke="#4165b1" stroke-width="1.2" stroke-linejoin="miter"/>
<ellipse cx="307.0" cy="205.5" rx="4.25" ry="5.45" fill="#7b95d1" stroke="#4165b1" stroke-width="1.5"/>
<ellipse cx="329.4" cy="202.7" rx="4.25" ry="5.45" fill="#7b95d1" stroke="#4165b1" stroke-width="1.5"/>
<ellipse cx="376.0" cy="157.6" rx="4.25" ry="5.45" fill="#7b95d1" stroke="#4165b1" stroke-width="1.5"/>
<ellipse cx="339.5" cy="184.8" rx="4.25" ry="5.45" fill="#7b95d1" stroke="#4165b1" stroke-width="1.5"/>
<path d="M344.0 174.4L348.5 186.6H339.5Z" fill="#7b95d1" stroke="#4165b1" stroke-width="1.2" stroke-linejoin="miter"/>
<path d="M352.6 180.9L357.1 193.1H348.1Z" fill="#7b95d1" stroke="#4165b1" stroke-width="1.2" stroke-linejoin="miter"/>
<ellipse cx="365.0" cy="180.5" rx="4.25" ry="5.45" fill="#7b95d1" stroke="#4165b1" stroke-width="1.5"/>
<path d="M370.0 174.2L374.5 186.4H365.5Z" fill="#7b95d1" stroke="#4165b1" stroke-width="1.2" stroke-linejoin="miter"/>
<ellipse cx="375.2" cy="189.7" rx="4.25" ry="5.45" fill="#7b95d1" stroke="#4165b1" stroke-width="1.5"/>
<path d="M370.6 186.4L375.1 198.6H366.1Z" fill="#7b95d1" stroke="#4165b1" stroke-width="1.2" stroke-linejoin="miter"/>
<ellipse cx="341.0" cy="197.4" rx="4.25" ry="5.45" fill="#7b95d1" stroke="#4165b1" stroke-width="1.5"/>
<ellipse cx="357.6" cy="197.4" rx="4.25" ry="5.45" fill="#7b95d1" stroke="#4165b1" stroke-width="1.5"/>
<ellipse cx="330.0" cy="202.7" rx="4.25" ry="5.45" fill="#7b95d1" stroke="#4165b1" stroke-width="1.5"/>
<ellipse cx="356.4" cy="204.3" rx="4.25" ry="5.45" fill="#7b95d1" stroke="#4165b1" stroke-width="1.5"/>
<ellipse cx="375.2" cy="205.8" rx="4.25" ry="5.45" fill="#7b95d1" stroke="#4165b1" stroke-width="1.5"/>
<path d="M384.4 194.4L388.9 206.6H379.9Z" fill="#7b95d1" stroke="#4165b1" stroke-width="1.2" stroke-linejoin="miter"/>
<path d="M378.6 200.4L383.1 212.6H374.1Z" fill="#7b95d1" stroke="#4165b1" stroke-width="1.2" stroke-linejoin="miter"/>
<path d="M436.5 188.6L441.0 200.8H432.0Z" fill="#7b95d1" stroke="#4165b1" stroke-width="1.2" stroke-linejoin="miter"/>
<ellipse cx="440.2" cy="158.8" rx="4.25" ry="5.45" fill="#7b95d1" stroke="#4165b1" stroke-width="1.5"/>
<path d="M397.0 197.9L401.5 210.1H392.5Z" fill="#7b95d1" stroke="#4165b1" stroke-width="1.2" stroke-linejoin="miter"/>
<path d="M257.9 211.2L262.4 223.4H253.4Z" fill="#7b95d1" stroke="#4165b1" stroke-width="1.2" stroke-linejoin="miter"/>
<ellipse cx="278.4" cy="225.3" rx="4.25" ry="5.45" fill="#7b95d1" stroke="#4165b1" stroke-width="1.5"/>
<path d="M275.0 224.6L279.5 236.8H270.5Z" fill="#7b95d1" stroke="#4165b1" stroke-width="1.2" stroke-linejoin="miter"/>
<path d="M246.7 240.1L251.2 252.3H242.2Z" fill="#7b95d1" stroke="#4165b1" stroke-width="1.2" stroke-linejoin="miter"/>
<ellipse cx="278.0" cy="248.2" rx="4.25" ry="5.45" fill="#7b95d1" stroke="#4165b1" stroke-width="1.5"/>
<ellipse cx="282.0" cy="246.7" rx="4.25" ry="5.45" fill="#7b95d1" stroke="#4165b1" stroke-width="1.5"/>
<path d="M271.0 247.2L275.5 259.4H266.5Z" fill="#7b95d1" stroke="#4165b1" stroke-width="1.2" stroke-linejoin="miter"/>
<path d="M282.0 249.4L286.5 261.6H277.5Z" fill="#7b95d1" stroke="#4165b1" stroke-width="1.2" stroke-linejoin="miter"/>
<path d="M274.7 256.9L279.2 269.1H270.2Z" fill="#7b95d1" stroke="#4165b1" stroke-width="1.2" stroke-linejoin="miter"/>
<ellipse cx="275.0" cy="268.6" rx="4.25" ry="5.45" fill="#7b95d1" stroke="#4165b1" stroke-width="1.5"/>
<path d="M262.5 262.3L267.0 274.5H258.0Z" fill="#7b95d1" stroke="#4165b1" stroke-width="1.2" stroke-linejoin="miter"/>
<ellipse cx="252.5" cy="273.7" rx="4.25" ry="5.45" fill="#7b95d1" stroke="#4165b1" stroke-width="1.5"/>
<path d="M240.3 268.1L244.8 280.3H235.8Z" fill="#7b95d1" stroke="#4165b1" stroke-width="1.2" stroke-linejoin="miter"/>
<ellipse cx="307.2" cy="206.4" rx="4.25" ry="5.45" fill="#7b95d1" stroke="#4165b1" stroke-width="1.5"/>
<path d="M303.0 215.4L307.5 227.6H298.5Z" fill="#7b95d1" stroke="#4165b1" stroke-width="1.2" stroke-linejoin="miter"/>
<path d="M309.5 212.9L314.0 225.1H305.0Z" fill="#7b95d1" stroke="#4165b1" stroke-width="1.2" stroke-linejoin="miter"/>
<path d="M295.7 219.9L300.2 232.1H291.2Z" fill="#7b95d1" stroke="#4165b1" stroke-width="1.2" stroke-linejoin="miter"/>
<ellipse cx="325.6" cy="221.4" rx="4.25" ry="5.45" fill="#7b95d1" stroke="#4165b1" stroke-width="1.5"/>
<ellipse cx="262.5" cy="289.9" rx="4.25" ry="5.45" fill="#7b95d1" stroke="#4165b1" stroke-width="1.5"/>
<ellipse cx="271.2" cy="289.9" rx="4.25" ry="5.45" fill="#7b95d1" stroke="#4165b1" stroke-width="1.5"/>
<path d="M278.4 283.1L282.9 295.3H273.9Z" fill="#7b95d1" stroke="#4165b1" stroke-width="1.2" stroke-linejoin="miter"/>
<path d="M270.4 297.4L274.9 309.6H265.9Z" fill="#7b95d1" stroke="#4165b1" stroke-width="1.2" stroke-linejoin="miter"/>
<path d="M275.0 297.4L279.5 309.6H270.5Z" fill="#7b95d1" stroke="#4165b1" stroke-width="1.2" stroke-linejoin="miter"/>
<ellipse cx="284.2" cy="297.5" rx="4.25" ry="5.45" fill="#7b95d1" stroke="#4165b1" stroke-width="1.5"/>
<path d="M274.6 315.7L279.1 327.9H270.1Z" fill="#7b95d1" stroke="#4165b1" stroke-width="1.2" stroke-linejoin="miter"/>
<path d="M281.0 315.7L285.5 327.9H276.5Z" fill="#7b95d1" stroke="#4165b1" stroke-width="1.2" stroke-linejoin="miter"/>
<ellipse cx="288.0" cy="321.8" rx="4.25" ry="5.45" fill="#7b95d1" stroke="#4165b1" stroke-width="1.5"/>
<ellipse cx="296.5" cy="321.8" rx="4.25" ry="5.45" fill="#7b95d1" stroke="#4165b1" stroke-width="1.5"/>
<path d="M307.0 306.8L311.5 319.0H302.5Z" fill="#7b95d1" stroke="#4165b1" stroke-width="1.2" stroke-linejoin="miter"/>
<path d="M321.0 306.8L325.5 319.0H316.5Z" fill="#7b95d1" stroke="#4165b1" stroke-width="1.2" stroke-linejoin="miter"/>
<path d="M284.7 328.9L289.2 341.1H280.2Z" fill="#7b95d1" stroke="#4165b1" stroke-width="1.2" stroke-linejoin="miter"/>
<path d="M300.3 331.3L304.8 343.5H295.8Z" fill="#7b95d1" stroke="#4165b1" stroke-width="1.2" stroke-linejoin="miter"/>
<path d="M307.2 326.3L311.7 338.5H302.7Z" fill="#7b95d1" stroke="#4165b1" stroke-width="1.2" stroke-linejoin="miter"/>
<path d="M313.3 326.3L317.8 338.5H308.8Z" fill="#7b95d1" stroke="#4165b1" stroke-width="1.2" stroke-linejoin="miter"/>
<ellipse cx="306.7" cy="346.8" rx="4.25" ry="5.45" fill="#7b95d1" stroke="#4165b1" stroke-width="1.5"/>
<ellipse cx="318.0" cy="346.8" rx="4.25" ry="5.45" fill="#7b95d1" stroke="#4165b1" stroke-width="1.5"/>
<path d="M287.7 340.9L292.2 353.1H283.2Z" fill="#7b95d1" stroke="#4165b1" stroke-width="1.2" stroke-linejoin="miter"/>
<path d="M326.5 340.3L331.0 352.5H322.0Z" fill="#7b95d1" stroke="#4165b1" stroke-width="1.2" stroke-linejoin="miter"/>
<path d="M332.4 340.3L336.9 352.5H327.9Z" fill="#7b95d1" stroke="#4165b1" stroke-width="1.2" stroke-linejoin="miter"/>
<ellipse cx="346.0" cy="335.3" rx="4.25" ry="5.45" fill="#7b95d1" stroke="#4165b1" stroke-width="1.5"/>
<ellipse cx="359.9" cy="347.0" rx="4.25" ry="5.45" fill="#7b95d1" stroke="#4165b1" stroke-width="1.5"/>
<ellipse cx="364.5" cy="347.0" rx="4.25" ry="5.45" fill="#7b95d1" stroke="#4165b1" stroke-width="1.5"/>
<ellipse cx="369.8" cy="347.0" rx="4.25" ry="5.45" fill="#7b95d1" stroke="#4165b1" stroke-width="1.5"/>
<ellipse cx="363.0" cy="355.0" rx="4.25" ry="5.45" fill="#7b95d1" stroke="#4165b1" stroke-width="1.5"/>
<path d="M391.0 331.3L395.5 343.5H386.5Z" fill="#7b95d1" stroke="#4165b1" stroke-width="1.2" stroke-linejoin="miter"/>
<path d="M396.2 334.4L400.7 346.6H391.7Z" fill="#7b95d1" stroke="#4165b1" stroke-width="1.2" stroke-linejoin="miter"/>
<path d="M399.4 340.9L403.9 353.1H394.9Z" fill="#7b95d1" stroke="#4165b1" stroke-width="1.2" stroke-linejoin="miter"/>
<path d="M441.2 340.3L445.7 352.5H436.7Z" fill="#7b95d1" stroke="#4165b1" stroke-width="1.2" stroke-linejoin="miter"/>
<path d="M302.8 373.9L307.3 386.1H298.3Z" fill="#7b95d1" stroke="#4165b1" stroke-width="1.2" stroke-linejoin="miter"/>
<path d="M350.8 390.1L355.3 402.3H346.3Z" fill="#7b95d1" stroke="#4165b1" stroke-width="1.2" stroke-linejoin="miter"/>
<path d="M393.2 390.1L397.7 402.3H388.7Z" fill="#7b95d1" stroke="#4165b1" stroke-width="1.2" stroke-linejoin="miter"/>
<path d="M302.8 405.8L307.3 418.0H298.3Z" fill="#7b95d1" stroke="#4165b1" stroke-width="1.2" stroke-linejoin="miter"/>
<path d="M202.3 390.7L206.8 402.9H197.8Z" fill="#7b95d1" stroke="#4165b1" stroke-width="1.2" stroke-linejoin="miter"/>
<path d="M490.4 211.6L494.9 223.8H485.9Z" fill="#7b95d1" stroke="#4165b1" stroke-width="1.2" stroke-linejoin="miter"/>
<ellipse cx="515.7" cy="246.8" rx="4.25" ry="5.45" fill="#7b95d1" stroke="#4165b1" stroke-width="1.5"/>
<ellipse cx="465.4" cy="240.4" rx="4.25" ry="5.45" fill="#7b95d1" stroke="#4165b1" stroke-width="1.5"/>
<ellipse cx="435.2" cy="216.8" rx="4.25" ry="5.45" fill="#7b95d1" stroke="#4165b1" stroke-width="1.5"/>
<ellipse cx="433.0" cy="222.0" rx="4.25" ry="5.45" fill="#7b95d1" stroke="#4165b1" stroke-width="1.5"/>
<path d="M449.0 215.7L453.5 227.9H444.5Z" fill="#7b95d1" stroke="#4165b1" stroke-width="1.2" stroke-linejoin="miter"/>
<ellipse cx="451.0" cy="225.6" rx="4.25" ry="5.45" fill="#7b95d1" stroke="#4165b1" stroke-width="1.5"/>
<ellipse cx="448.5" cy="235.0" rx="4.25" ry="5.45" fill="#7b95d1" stroke="#4165b1" stroke-width="1.5"/>
<ellipse cx="449.0" cy="240.4" rx="4.25" ry="5.45" fill="#7b95d1" stroke="#4165b1" stroke-width="1.5"/>
<ellipse cx="440.0" cy="240.4" rx="4.25" ry="5.45" fill="#7b95d1" stroke="#4165b1" stroke-width="1.5"/>
<ellipse cx="453.2" cy="246.3" rx="4.25" ry="5.45" fill="#7b95d1" stroke="#4165b1" stroke-width="1.5"/>
<ellipse cx="461.8" cy="252.0" rx="4.25" ry="5.45" fill="#7b95d1" stroke="#4165b1" stroke-width="1.5"/>
<path d="M470.7 254.7L475.2 266.9H466.2Z" fill="#7b95d1" stroke="#4165b1" stroke-width="1.2" stroke-linejoin="miter"/>
<ellipse cx="462.3" cy="260.0" rx="4.25" ry="5.45" fill="#7b95d1" stroke="#4165b1" stroke-width="1.5"/>
<ellipse cx="465.4" cy="263.7" rx="4.25" ry="5.45" fill="#7b95d1" stroke="#4165b1" stroke-width="1.5"/>
<ellipse cx="457.6" cy="260.0" rx="4.25" ry="5.45" fill="#7b95d1" stroke="#4165b1" stroke-width="1.5"/>
<path d="M458.5 272.9L463.0 285.1H454.0Z" fill="#7b95d1" stroke="#4165b1" stroke-width="1.2" stroke-linejoin="miter"/>
<ellipse cx="460.0" cy="290.0" rx="4.25" ry="5.45" fill="#7b95d1" stroke="#4165b1" stroke-width="1.5"/>
<ellipse cx="430.6" cy="278.5" rx="4.25" ry="5.45" fill="#7b95d1" stroke="#4165b1" stroke-width="1.5"/>
<ellipse cx="449.6" cy="278.5" rx="4.25" ry="5.45" fill="#7b95d1" stroke="#4165b1" stroke-width="1.5"/>
<ellipse cx="443.0" cy="278.5" rx="4.25" ry="5.45" fill="#7b95d1" stroke="#4165b1" stroke-width="1.5"/>
<ellipse cx="480.6" cy="303.7" rx="4.25" ry="5.45" fill="#7b95d1" stroke="#4165b1" stroke-width="1.5"/>
<ellipse cx="459.9" cy="290.0" rx="4.25" ry="5.45" fill="#7b95d1" stroke="#4165b1" stroke-width="1.5"/>
<ellipse cx="458.6" cy="303.7" rx="4.25" ry="5.45" fill="#7b95d1" stroke="#4165b1" stroke-width="1.5"/>
<ellipse cx="448.7" cy="303.7" rx="4.25" ry="5.45" fill="#7b95d1" stroke="#4165b1" stroke-width="1.5"/>
<ellipse cx="445.5" cy="303.7" rx="4.25" ry="5.45" fill="#7b95d1" stroke="#4165b1" stroke-width="1.5"/>
<ellipse cx="457.5" cy="321.6" rx="4.25" ry="5.45" fill="#7b95d1" stroke="#4165b1" stroke-width="1.5"/>
<ellipse cx="448.7" cy="321.6" rx="4.25" ry="5.45" fill="#7b95d1" stroke="#4165b1" stroke-width="1.5"/>
<ellipse cx="446.0" cy="321.6" rx="4.25" ry="5.45" fill="#7b95d1" stroke="#4165b1" stroke-width="1.5"/>
<ellipse cx="424.4" cy="321.6" rx="4.25" ry="5.45" fill="#7b95d1" stroke="#4165b1" stroke-width="1.5"/>
<ellipse cx="427.0" cy="321.6" rx="4.25" ry="5.45" fill="#7b95d1" stroke="#4165b1" stroke-width="1.5"/>
<path d="M429.0 315.5L433.5 327.7H424.5Z" fill="#7b95d1" stroke="#4165b1" stroke-width="1.2" stroke-linejoin="miter"/>
<ellipse cx="432.8" cy="310.0" rx="4.25" ry="5.45" fill="#7b95d1" stroke="#4165b1" stroke-width="1.5"/>
<ellipse cx="414.2" cy="310.6" rx="4.25" ry="5.45" fill="#7b95d1" stroke="#4165b1" stroke-width="1.5"/>
<path d="M420.0 297.9L424.5 310.1H415.5Z" fill="#7b95d1" stroke="#4165b1" stroke-width="1.2" stroke-linejoin="miter"/>
<ellipse cx="404.3" cy="94.0" rx="4.25" ry="5.45" fill="#e17b6e" stroke="#cb4a3b" stroke-width="1.5"/>
<ellipse cx="583.7" cy="110.2" rx="4.25" ry="5.45" fill="#e17b6e" stroke="#cb4a3b" stroke-width="1.5"/>
<ellipse cx="527.4" cy="136.8" rx="4.25" ry="5.45" fill="#e17b6e" stroke="#cb4a3b" stroke-width="1.5"/>
<ellipse cx="392.4" cy="162.2" rx="4.25" ry="5.45" fill="#e17b6e" stroke="#cb4a3b" stroke-width="1.5"/>
<path d="M400.3 172.1L404.8 184.3H395.8Z" fill="#e17b6e" stroke="#cb4a3b" stroke-width="1.2" stroke-linejoin="miter"/>
<path d="M403.6 168.0L408.1 180.2H399.1Z" fill="#e17b6e" stroke="#cb4a3b" stroke-width="1.2" stroke-linejoin="miter"/>
<path d="M416.0 168.2L420.5 180.4H411.5Z" fill="#e17b6e" stroke="#cb4a3b" stroke-width="1.2" stroke-linejoin="miter"/>
<path d="M430.7 177.7L435.2 189.9H426.2Z" fill="#e17b6e" stroke="#cb4a3b" stroke-width="1.2" stroke-linejoin="miter"/>
<ellipse cx="415.4" cy="187.4" rx="4.25" ry="5.45" fill="#e17b6e" stroke="#cb4a3b" stroke-width="1.5"/>
<ellipse cx="409.2" cy="194.3" rx="4.25" ry="5.45" fill="#e17b6e" stroke="#cb4a3b" stroke-width="1.5"/>
<ellipse cx="411.2" cy="197.4" rx="4.25" ry="5.45" fill="#e17b6e" stroke="#cb4a3b" stroke-width="1.5"/>
<ellipse cx="392.4" cy="200.4" rx="4.25" ry="5.45" fill="#e17b6e" stroke="#cb4a3b" stroke-width="1.5"/>
<path d="M402.3 191.2L406.8 203.4H397.8Z" fill="#e17b6e" stroke="#cb4a3b" stroke-width="1.2" stroke-linejoin="miter"/>
<path d="M406.0 198.9L410.5 211.1H401.5Z" fill="#e17b6e" stroke="#cb4a3b" stroke-width="1.2" stroke-linejoin="miter"/>
<ellipse cx="413.5" cy="203.2" rx="4.25" ry="5.45" fill="#e17b6e" stroke="#cb4a3b" stroke-width="1.5"/>
<path d="M423.2 197.3L427.7 209.5H418.7Z" fill="#e17b6e" stroke="#cb4a3b" stroke-width="1.2" stroke-linejoin="miter"/>
<path d="M443.0 148.4L447.5 160.6H438.5Z" fill="#e17b6e" stroke="#cb4a3b" stroke-width="1.2" stroke-linejoin="miter"/>
</g>
<rect x="202.5" y="57.4" width="397.1" height="407.6" fill="none" stroke="#a4a4a4" stroke-width="1"/>
<g stroke="#a0a0a0" stroke-width="1">
<line x1="203.1" y1="465.0" x2="203.1" y2="470.8"/>
<line x1="241.1" y1="465.0" x2="241.1" y2="467.8"/>
<line x1="263.3" y1="465.0" x2="263.3" y2="467.8"/>
<line x1="279.1" y1="465.0" x2="279.1" y2="467.8"/>
<line x1="291.3" y1="465.0" x2="291.3" y2="467.8"/>
<line x1="301.3" y1="465.0" x2="301.3" y2="467.8"/>
<line x1="309.8" y1="465.0" x2="309.8" y2="467.8"/>
<line x1="317.1" y1="465.0" x2="317.1" y2="467.8"/>
<line x1="323.5" y1="465.0" x2="323.5" y2="467.8"/>
<line x1="329.3" y1="465.0" x2="329.3" y2="470.8"/>
<line x1="367.3" y1="465.0" x2="367.3" y2="467.8"/>
<line x1="389.5" y1="465.0" x2="389.5" y2="467.8"/>
<line x1="405.3" y1="465.0" x2="405.3" y2="467.8"/>
<line x1="417.5" y1="465.0" x2="417.5" y2="467.8"/>
<line x1="427.5" y1="465.0" x2="427.5" y2="467.8"/>
<line x1="436.0" y1="465.0" x2="436.0" y2="467.8"/>
<line x1="443.3" y1="465.0" x2="443.3" y2="467.8"/>
<line x1="449.7" y1="465.0" x2="449.7" y2="467.8"/>
<line x1="455.5" y1="465.0" x2="455.5" y2="470.8"/>
<line x1="493.5" y1="465.0" x2="493.5" y2="467.8"/>
<line x1="515.7" y1="465.0" x2="515.7" y2="467.8"/>
<line x1="531.5" y1="465.0" x2="531.5" y2="467.8"/>
<line x1="543.7" y1="465.0" x2="543.7" y2="467.8"/>
<line x1="553.7" y1="465.0" x2="553.7" y2="467.8"/>
<line x1="562.2" y1="465.0" x2="562.2" y2="467.8"/>
<line x1="569.5" y1="465.0" x2="569.5" y2="467.8"/>
<line x1="575.9" y1="465.0" x2="575.9" y2="467.8"/>
<line x1="581.7" y1="465.0" x2="581.7" y2="470.8"/>
<line x1="200.0" y1="465.5" x2="202.5" y2="465.5"/>
<line x1="200.0" y1="447.6" x2="202.5" y2="447.6"/>
<line x1="200.0" y1="433.7" x2="202.5" y2="433.7"/>
<line x1="200.0" y1="422.3" x2="202.5" y2="422.3"/>
<line x1="200.0" y1="412.7" x2="202.5" y2="412.7"/>
<line x1="200.0" y1="404.4" x2="202.5" y2="404.4"/>
<line x1="200.0" y1="397.1" x2="202.5" y2="397.1"/>
<line x1="198.0" y1="390.6" x2="202.5" y2="390.6"/>
<line x1="200.0" y1="347.4" x2="202.5" y2="347.4"/>
<line x1="200.0" y1="322.2" x2="202.5" y2="322.2"/>
<line x1="200.0" y1="304.3" x2="202.5" y2="304.3"/>
<line x1="200.0" y1="290.4" x2="202.5" y2="290.4"/>
<line x1="200.0" y1="279.1" x2="202.5" y2="279.1"/>
<line x1="200.0" y1="269.5" x2="202.5" y2="269.5"/>
<line x1="200.0" y1="261.2" x2="202.5" y2="261.2"/>
<line x1="200.0" y1="253.9" x2="202.5" y2="253.9"/>
<line x1="198.0" y1="247.3" x2="202.5" y2="247.3"/>
<line x1="200.0" y1="204.2" x2="202.5" y2="204.2"/>
<line x1="200.0" y1="179.0" x2="202.5" y2="179.0"/>
<line x1="200.0" y1="161.1" x2="202.5" y2="161.1"/>
<line x1="200.0" y1="147.2" x2="202.5" y2="147.2"/>
<line x1="200.0" y1="135.8" x2="202.5" y2="135.8"/>
<line x1="200.0" y1="126.2" x2="202.5" y2="126.2"/>
<line x1="200.0" y1="117.9" x2="202.5" y2="117.9"/>
<line x1="200.0" y1="110.6" x2="202.5" y2="110.6"/>
<line x1="198.0" y1="104.1" x2="202.5" y2="104.1"/>
<line x1="200.0" y1="60.9" x2="202.5" y2="60.9"/>
<line x1="198.0" y1="204.2" x2="202.5" y2="204.2"/>
<line x1="389.5" y1="465.0" x2="389.5" y2="470.8"/>
</g>
<text x="187.1" y="108.4" font-size="11.5" font-weight="400" fill="#1e1e1e" textLength="9.8" lengthAdjust="spacingAndGlyphs" text-anchor="start">10</text>
<text x="191.8" y="251.6" font-size="11.5" font-weight="400" fill="#1e1e1e" textLength="4.3" lengthAdjust="spacingAndGlyphs" text-anchor="start">1</text>
<text x="184.6" y="394.8" font-size="11.5" font-weight="400" fill="#1e1e1e" textLength="10.9" lengthAdjust="spacingAndGlyphs" text-anchor="start">0.1</text>
<text x="196.6" y="483.4" font-size="11.5" font-weight="400" fill="#1e1e1e" textLength="10.9" lengthAdjust="spacingAndGlyphs" text-anchor="start">0.1</text>
<text x="326.5" y="483.4" font-size="11.5" font-weight="400" fill="#1e1e1e" textLength="4.3" lengthAdjust="spacingAndGlyphs" text-anchor="start">1</text>
<text x="450.6" y="483.3" font-size="11.5" font-weight="400" fill="#1e1e1e" textLength="9.2" lengthAdjust="spacingAndGlyphs" text-anchor="start">10</text>
<text x="573.9" y="483.4" font-size="11.5" font-weight="400" fill="#1e1e1e" textLength="13.8" lengthAdjust="spacingAndGlyphs" text-anchor="start">100</text>
<text x="371.8" y="498.3" font-size="11.5" font-weight="400" fill="#1e1e1e" textLength="57.1" lengthAdjust="spacingAndGlyphs" text-anchor="start">Peak ALT/ULN</text>
<g transform="translate(177.7 260.8) rotate(-90) scale(1 0.8)"><text x="0" y="0" font-size="11" text-anchor="middle" fill="#1e1e1e">Peak Bilirubin/ULN</text></g>
<!-- legend -->
<text x="603.9" y="74.9" font-size="11" font-weight="400" fill="#1e1e1e" textLength="222.9" lengthAdjust="spacingAndGlyphs" text-anchor="start">Possible Hy's Law Case/Planned Treatment for Period 01</text>
<ellipse cx="609.4" cy="88.6" rx="2.4" ry="2.6" fill="#e07a6d"/>
<text x="618.2" y="92.4" font-size="11" font-weight="400" fill="#1e1e1e" textLength="14.3" lengthAdjust="spacingAndGlyphs" text-anchor="start">Yes</text>
<ellipse cx="609.4" cy="102.6" rx="2.4" ry="2.6" fill="#7b95d1"/>
<text x="618.2" y="106.6" font-size="11" font-weight="400" fill="#1e1e1e" textLength="11.2" lengthAdjust="spacingAndGlyphs" text-anchor="start">No</text>
<ellipse cx="609.4" cy="116.8" rx="3.2" ry="3.4" fill="#000"/>
<text x="618.2" y="120.7" font-size="11" font-weight="400" fill="#1e1e1e" textLength="28.6" lengthAdjust="spacingAndGlyphs" text-anchor="start">NIC .15</text>
<path d="M609.5 127.2L612.8 134.6H606.2Z" fill="#000"/>
<text x="618.2" y="134.6" font-size="11" font-weight="400" fill="#1e1e1e" textLength="31.7" lengthAdjust="spacingAndGlyphs" text-anchor="start">Placebo</text>
</svg>
</body>
</html>
